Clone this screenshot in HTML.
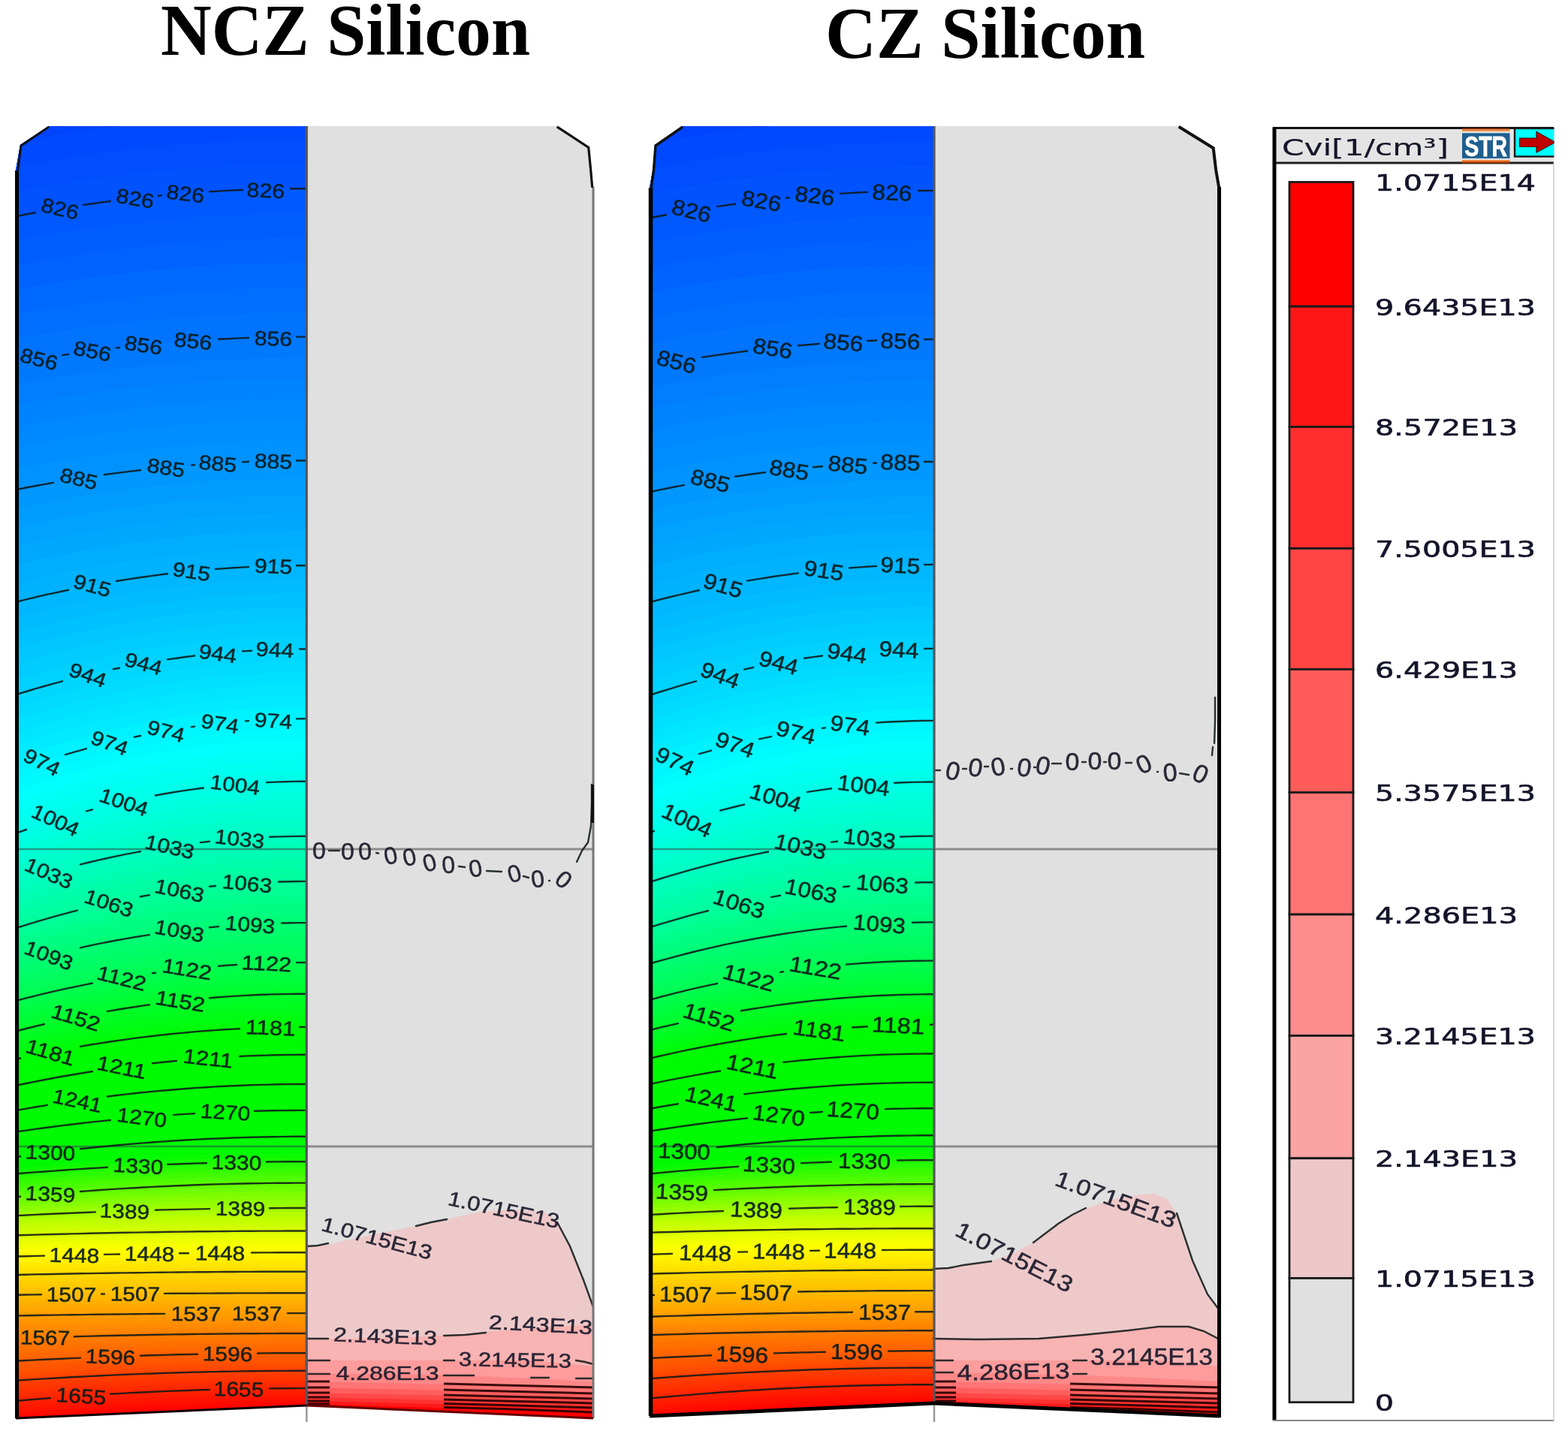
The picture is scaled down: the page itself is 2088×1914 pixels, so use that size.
<!DOCTYPE html>
<html><head><meta charset="utf-8"><title>NCZ Silicon / CZ Silicon</title>
<style>
html,body{margin:0;padding:0;background:#fff;}
body{width:2088px;height:1914px;overflow:hidden;}
svg{display:block;}
.cl{font-family:"Liberation Sans",sans-serif;fill:#0a1a1a;fill-opacity:0.92;text-anchor:middle;stroke:#0a1a1a;stroke-width:0.6px;stroke-opacity:0.8;}
.cr .cl{fill:#1a1a2a;stroke:#1a1a2a;}
.ttl{font-family:"Liberation Serif",serif;font-weight:bold;font-size:98px;fill:#000;}
.lg{font-family:"DejaVu Sans","Liberation Sans",sans-serif;font-size:30px;fill:#14142a;stroke:#14142a;stroke-width:0.6px;}
</style></head><body>
<svg width="2088" height="1914" viewBox="0 0 2088 1914">
<rect width="2088" height="1914" fill="#fff"/>
<text class="ttl" x="214" y="73" textLength="492" lengthAdjust="spacingAndGlyphs">NCZ Silicon</text>
<text class="ttl" x="1099" y="76.5" textLength="426" lengthAdjust="spacingAndGlyphs">CZ Silicon</text>
<clipPath id="clipL1"><path d="M21,1889.0 L21.0,227.0 L27.0,193.0 L65.0,168.0 L408.3,168.0 L408.3,1872.0 Z"/></clipPath>
<g clip-path="url(#clipL1)">
<rect x="19" y="166.0" width="391.3" height="1727.0" fill="#0037ff"/>
<polygon points="21,91.1 45,86.6 69,82.5 94,78.6 118,75.0 142,71.6 166,68.6 190,65.9 215,63.4 239,61.3 263,59.4 287,57.8 311,56.5 336,55.5 360,54.8 384,54.3 408,54.2 410.3,1899.0 19,1899.0" fill="#0039ff"/>
<polygon points="21,123.9 45,119.5 69,115.3 94,111.4 118,107.8 142,104.5 166,101.4 190,98.7 215,96.3 239,94.1 263,92.2 287,90.6 311,89.3 336,88.3 360,87.6 384,87.2 408,87.0 410.3,1899.0 19,1899.0" fill="#003eff"/>
<polygon points="21,156.8 45,152.3 69,148.1 94,144.2 118,140.6 142,137.3 166,134.3 190,131.5 215,129.1 239,126.9 263,125.1 287,123.5 311,122.2 336,121.2 360,120.4 384,120.0 408,119.9 410.3,1899.0 19,1899.0" fill="#0044ff"/>
<polygon points="21,189.6 45,185.1 69,181.0 94,177.1 118,173.5 142,170.1 166,167.1 190,164.4 215,161.9 239,159.8 263,157.9 287,156.3 311,155.0 336,154.0 360,153.3 384,152.8 408,152.7 410.3,1899.0 19,1899.0" fill="#0049ff"/>
<polygon points="21,222.4 45,218.0 69,213.8 94,209.9 118,206.3 142,203.0 166,199.9 190,197.2 215,194.8 239,192.6 263,190.7 287,189.1 311,187.8 336,186.8 360,186.1 384,185.7 408,185.5 410.3,1899.0 19,1899.0" fill="#004eff"/>
<polygon points="21,255.3 45,250.8 69,246.6 94,242.7 118,239.1 142,235.8 166,232.8 190,230.0 215,227.6 239,225.4 263,223.6 287,222.0 311,220.7 336,219.7 360,218.9 384,218.5 408,218.4 410.3,1899.0 19,1899.0" fill="#0053ff"/>
<polygon points="21,288.1 45,283.6 69,279.5 94,275.6 118,272.0 142,268.6 166,265.6 190,262.9 215,260.4 239,258.3 263,256.4 287,254.8 311,253.5 336,252.5 360,251.8 384,251.3 408,251.2 410.3,1899.0 19,1899.0" fill="#0059ff"/>
<polygon points="21,320.6 45,316.2 69,312.1 94,308.2 118,304.6 142,301.4 166,298.4 190,295.7 215,293.2 239,291.1 263,289.2 287,287.7 311,286.4 336,285.4 360,284.7 384,284.2 408,284.1 410.3,1899.0 19,1899.0" fill="#005eff"/>
<polygon points="21,353.2 45,348.8 69,344.7 94,340.9 118,337.3 142,334.1 166,331.1 190,328.4 215,326.0 239,323.9 263,322.1 287,320.5 311,319.3 336,318.3 360,317.6 384,317.1 408,317.0 410.3,1899.0 19,1899.0" fill="#0063ff"/>
<polygon points="21,385.7 45,381.4 69,377.3 94,373.5 118,370.0 142,366.8 166,363.9 190,361.2 215,358.9 239,356.8 263,354.9 287,353.4 311,352.1 336,351.2 360,350.5 384,350.0 408,349.9 410.3,1899.0 19,1899.0" fill="#0069ff"/>
<polygon points="21,418.2 45,413.9 69,409.9 94,406.2 118,402.7 142,399.5 166,396.6 190,394.0 215,391.7 239,389.6 263,387.8 287,386.3 311,385.0 336,384.0 360,383.4 384,382.9 408,382.8 410.3,1899.0 19,1899.0" fill="#006eff"/>
<polygon points="21,450.8 45,446.5 69,442.5 94,438.8 118,435.4 142,432.3 166,429.4 190,426.8 215,424.5 239,422.4 263,420.6 287,419.1 311,417.9 336,416.9 360,416.2 384,415.8 408,415.7 410.3,1899.0 19,1899.0" fill="#0073ff"/>
<polygon points="21,483.3 45,479.1 69,475.2 94,471.5 118,468.1 142,465.0 166,462.2 190,459.6 215,457.3 239,455.2 263,453.5 287,452.0 311,450.8 336,449.8 360,449.1 384,448.7 408,448.6 410.3,1899.0 19,1899.0" fill="#0079ff"/>
<polygon points="21,511.5 45,507.2 69,503.2 94,499.4 118,496.0 142,492.8 166,489.9 190,487.3 215,484.9 239,482.9 263,481.1 287,479.5 311,478.3 336,477.3 360,476.6 384,476.2 408,476.1 410.3,1899.0 19,1899.0" fill="#007eff"/>
<polygon points="21,539.6 45,535.3 69,531.2 94,527.4 118,523.9 142,520.6 166,517.7 190,515.0 215,512.6 239,510.5 263,508.6 287,507.1 311,505.8 336,504.8 360,504.1 384,503.7 408,503.6 410.3,1899.0 19,1899.0" fill="#0083ff"/>
<polygon points="21,567.8 45,563.3 69,559.2 94,555.3 118,551.7 142,548.4 166,545.4 190,542.7 215,540.2 239,538.1 263,536.2 287,534.6 311,533.3 336,532.3 360,531.6 384,531.2 408,531.0 410.3,1899.0 19,1899.0" fill="#0088ff"/>
<polygon points="21,596.0 45,591.4 69,587.2 94,583.2 118,579.6 142,576.2 166,573.2 190,570.4 215,567.9 239,565.7 263,563.8 287,562.2 311,560.9 336,559.8 360,559.1 384,558.7 408,558.5 410.3,1899.0 19,1899.0" fill="#008dff"/>
<polygon points="21,624.1 45,619.5 69,615.2 94,611.2 118,607.5 142,604.0 166,600.9 190,598.1 215,595.5 239,593.3 263,591.4 287,589.7 311,588.4 336,587.4 360,586.6 384,586.2 408,586.0 410.3,1899.0 19,1899.0" fill="#0092ff"/>
<polygon points="21,652.3 45,647.6 69,643.2 94,639.1 118,635.3 142,631.8 166,628.7 190,625.8 215,623.2 239,620.9 263,619.0 287,617.3 311,615.9 336,614.9 360,614.1 384,613.7 408,613.5 410.3,1899.0 19,1899.0" fill="#0097ff"/>
<polygon points="21,677.2 45,672.3 69,667.7 94,663.5 118,659.5 142,655.9 166,652.6 190,649.6 215,646.9 239,644.5 263,642.5 287,640.7 311,639.3 336,638.2 360,637.4 384,636.9 408,636.8 410.3,1899.0 19,1899.0" fill="#009dff"/>
<polygon points="21,702.1 45,697.0 69,692.3 94,687.8 118,683.7 142,679.9 166,676.5 190,673.4 215,670.6 239,668.1 263,666.0 287,664.2 311,662.7 336,661.5 360,660.7 384,660.2 408,660.1 410.3,1899.0 19,1899.0" fill="#00a2ff"/>
<polygon points="21,727.0 45,721.8 69,716.8 94,712.2 118,707.9 142,704.0 166,700.4 190,697.2 215,694.3 239,691.7 263,689.5 287,687.6 311,686.1 336,684.9 360,684.0 384,683.5 408,683.4 410.3,1899.0 19,1899.0" fill="#00a7ff"/>
<polygon points="21,752.0 45,746.5 69,741.3 94,736.6 118,732.1 142,728.1 166,724.3 190,721.0 215,718.0 239,715.3 263,713.0 287,711.1 311,709.5 336,708.2 360,707.3 384,706.8 408,706.6 410.3,1899.0 19,1899.0" fill="#00adff"/>
<polygon points="21,776.9 45,771.2 69,765.9 94,760.9 118,756.3 142,752.1 166,748.3 190,744.8 215,741.7 239,738.9 263,736.5 287,734.5 311,732.9 336,731.6 360,730.7 384,730.1 408,729.9 410.3,1899.0 19,1899.0" fill="#00b2ff"/>
<polygon points="21,801.8 45,795.9 69,790.4 94,785.3 118,780.5 142,776.2 166,772.2 190,768.6 215,765.4 239,762.5 263,760.0 287,757.9 311,756.2 336,754.9 360,754.0 384,753.4 408,753.2 410.3,1899.0 19,1899.0" fill="#00b7ff"/>
<polygon points="21,822.4 45,816.3 69,810.5 94,805.2 118,800.2 142,795.7 166,791.5 190,787.8 215,784.4 239,781.4 263,778.9 287,776.7 311,774.9 336,773.5 360,772.5 384,771.9 408,771.8 410.3,1899.0 19,1899.0" fill="#00bcff"/>
<polygon points="21,843.0 45,836.6 69,830.6 94,825.1 118,819.9 142,815.2 166,810.9 190,807.0 215,803.5 239,800.4 263,797.7 287,795.4 311,793.6 336,792.2 360,791.1 384,790.5 408,790.3 410.3,1899.0 19,1899.0" fill="#00c1ff"/>
<polygon points="21,863.5 45,856.9 69,850.7 94,845.0 118,839.6 142,834.7 166,830.2 190,826.2 215,822.5 239,819.3 263,816.5 287,814.2 311,812.3 336,810.8 360,809.7 384,809.1 408,808.9 410.3,1899.0 19,1899.0" fill="#00c7ff"/>
<polygon points="21,884.1 45,877.3 69,870.8 94,864.9 118,859.3 142,854.2 166,849.6 190,845.4 215,841.6 239,838.3 263,835.4 287,832.9 311,830.9 336,829.4 360,828.3 384,827.6 408,827.4 410.3,1899.0 19,1899.0" fill="#00ccff"/>
<polygon points="21,904.7 45,897.6 69,890.9 94,884.7 118,879.0 142,873.7 166,868.9 190,864.5 215,860.6 239,857.2 263,854.2 287,851.7 311,849.6 336,848.0 360,846.9 384,846.2 408,846.0 410.3,1899.0 19,1899.0" fill="#00d1ff"/>
<polygon points="21,925.3 45,917.9 69,911.0 94,904.6 118,898.7 142,893.2 166,888.2 190,883.7 215,879.7 239,876.1 263,873.0 287,870.4 311,868.3 336,866.6 360,865.5 384,864.7 408,864.5 410.3,1899.0 19,1899.0" fill="#00d6ff"/>
<polygon points="21,942.2 45,934.7 69,927.6 94,921.1 118,915.0 142,909.4 166,904.3 190,899.7 215,895.5 239,891.9 263,888.7 287,886.0 311,883.9 336,882.2 360,880.9 384,880.2 408,880.0 410.3,1899.0 19,1899.0" fill="#00dbff"/>
<polygon points="21,959.1 45,951.4 69,944.2 94,937.5 118,931.3 142,925.5 166,920.3 190,915.6 215,911.4 239,907.6 263,904.4 287,901.7 311,899.4 336,897.7 360,896.4 384,895.7 408,895.4 410.3,1899.0 19,1899.0" fill="#00e1ff"/>
<polygon points="21,976.0 45,968.2 69,960.8 94,953.9 118,947.5 142,941.7 166,936.3 190,931.5 215,927.2 239,923.4 263,920.1 287,917.3 311,915.0 336,913.2 360,911.9 384,911.2 408,910.9 410.3,1899.0 19,1899.0" fill="#00e6ff"/>
<polygon points="21,993.0 45,984.9 69,977.4 94,970.3 118,963.8 142,957.8 166,952.4 190,947.4 215,943.0 239,939.1 263,935.7 287,932.9 311,930.5 336,928.7 360,927.4 384,926.6 408,926.4 410.3,1899.0 19,1899.0" fill="#00ebff"/>
<polygon points="21,1009.9 45,1001.6 69,993.9 94,986.8 118,980.1 142,974.0 166,968.4 190,963.4 215,958.8 239,954.9 263,951.4 287,948.5 311,946.1 336,944.2 360,942.9 384,942.1 408,941.8 410.3,1899.0 19,1899.0" fill="#00f1ff"/>
<polygon points="21,1026.8 45,1018.4 69,1010.5 94,1003.2 118,996.4 142,990.1 166,984.4 190,979.3 215,974.7 239,970.6 263,967.1 287,964.1 311,961.6 336,959.7 360,958.4 384,957.6 408,957.3 410.3,1899.0 19,1899.0" fill="#00f6ff"/>
<polygon points="21,1040.7 45,1032.2 69,1024.4 94,1017.1 118,1010.3 142,1004.0 166,998.3 190,993.2 215,988.6 239,984.5 263,981.0 287,978.0 311,975.6 336,973.7 360,972.3 384,971.5 408,971.2 410.3,1899.0 19,1899.0" fill="#00fbff"/>
<polygon points="21,1054.5 45,1046.1 69,1038.2 94,1030.9 118,1024.2 142,1017.9 166,1012.2 190,1007.1 215,1002.5 239,998.4 263,994.9 287,991.9 311,989.5 336,987.6 360,986.2 384,985.4 408,985.1 410.3,1899.0 19,1899.0" fill="#00fffd"/>
<polygon points="21,1068.3 45,1060.0 69,1052.1 94,1044.8 118,1038.0 142,1031.8 166,1026.1 190,1021.0 215,1016.4 239,1012.3 263,1008.8 287,1005.8 311,1003.4 336,1001.5 360,1000.1 384,999.3 408,999.0 410.3,1899.0 19,1899.0" fill="#00fff7"/>
<polygon points="21,1082.2 45,1073.8 69,1066.0 94,1058.7 118,1051.9 142,1045.7 166,1040.0 190,1034.9 215,1030.3 239,1026.2 263,1022.7 287,1019.7 311,1017.3 336,1015.4 360,1014.0 384,1013.2 408,1013.0 410.3,1899.0 19,1899.0" fill="#00fff0"/>
<polygon points="21,1096.1 45,1087.7 69,1079.8 94,1072.5 118,1065.8 142,1059.6 166,1053.9 190,1048.8 215,1044.2 239,1040.1 263,1036.6 287,1033.6 311,1031.2 336,1029.3 360,1028.0 384,1027.2 408,1026.9 410.3,1899.0 19,1899.0" fill="#00ffea"/>
<polygon points="21,1109.9 45,1101.5 69,1093.7 94,1086.4 118,1079.7 142,1073.5 166,1067.8 190,1062.7 215,1058.1 239,1054.0 263,1050.5 287,1047.5 311,1045.1 336,1043.2 360,1041.9 384,1041.1 408,1040.8 410.3,1899.0 19,1899.0" fill="#00ffe4"/>
<polygon points="21,1120.9 45,1112.7 69,1105.0 94,1097.8 118,1091.2 142,1085.1 166,1079.5 190,1074.5 215,1070.0 239,1066.0 263,1062.5 287,1059.6 311,1057.2 336,1055.4 360,1054.0 384,1053.2 408,1053.0 410.3,1899.0 19,1899.0" fill="#00ffde"/>
<polygon points="21,1131.9 45,1123.8 69,1116.3 94,1109.2 118,1102.7 142,1096.7 166,1091.2 190,1086.3 215,1081.8 239,1077.9 263,1074.5 287,1071.7 311,1069.3 336,1067.5 360,1066.2 384,1065.4 408,1065.1 410.3,1899.0 19,1899.0" fill="#00ffd7"/>
<polygon points="21,1143.0 45,1135.0 69,1127.6 94,1120.6 118,1114.2 142,1108.3 166,1102.9 190,1098.1 215,1093.7 239,1089.9 263,1086.5 287,1083.7 311,1081.4 336,1079.6 360,1078.3 384,1077.6 408,1077.3 410.3,1899.0 19,1899.0" fill="#00fed1"/>
<polygon points="21,1154.0 45,1146.2 69,1138.8 94,1132.0 118,1125.7 142,1120.0 166,1114.7 190,1109.9 215,1105.6 239,1101.8 263,1098.5 287,1095.8 311,1093.5 336,1091.7 360,1090.5 384,1089.7 408,1089.5 410.3,1899.0 19,1899.0" fill="#00fecb"/>
<polygon points="21,1165.0 45,1157.3 69,1150.1 94,1143.5 118,1137.3 142,1131.6 166,1126.4 190,1121.7 215,1117.5 239,1113.8 263,1110.5 287,1107.8 311,1105.6 336,1103.9 360,1102.6 384,1101.9 408,1101.6 410.3,1899.0 19,1899.0" fill="#00fec5"/>
<polygon points="21,1176.0 45,1168.5 69,1161.4 94,1154.9 118,1148.8 142,1143.2 166,1138.1 190,1133.5 215,1129.3 239,1125.7 263,1122.5 287,1119.9 311,1117.7 336,1116.0 360,1114.8 384,1114.0 408,1113.8 410.3,1899.0 19,1899.0" fill="#00febf"/>
<polygon points="21,1186.0 45,1178.5 69,1171.5 94,1164.9 118,1158.8 142,1153.2 166,1148.1 190,1143.5 215,1139.4 239,1135.7 263,1132.6 287,1129.9 311,1127.7 336,1126.0 360,1124.8 384,1124.1 408,1123.8 410.3,1899.0 19,1899.0" fill="#00feb8"/>
<polygon points="21,1196.1 45,1188.5 69,1181.5 94,1174.9 118,1168.8 142,1163.2 166,1158.1 190,1153.5 215,1149.4 239,1145.7 263,1142.6 287,1139.9 311,1137.7 336,1136.0 360,1134.8 384,1134.1 408,1133.8 410.3,1899.0 19,1899.0" fill="#00feb2"/>
<polygon points="21,1206.1 45,1198.6 69,1191.5 94,1184.9 118,1178.9 142,1173.3 166,1168.2 190,1163.5 215,1159.4 239,1155.8 263,1152.6 287,1149.9 311,1147.7 336,1146.0 360,1144.8 384,1144.1 408,1143.8 410.3,1899.0 19,1899.0" fill="#00feab"/>
<polygon points="21,1216.1 45,1208.6 69,1201.5 94,1195.0 118,1188.9 142,1183.3 166,1178.2 190,1173.6 215,1169.4 239,1165.8 263,1162.6 287,1159.9 311,1157.8 336,1156.1 360,1154.8 384,1154.1 408,1153.9 410.3,1899.0 19,1899.0" fill="#00fea5"/>
<polygon points="21,1226.2 45,1218.6 69,1211.6 94,1205.0 118,1198.9 142,1193.3 166,1188.2 190,1183.6 215,1179.5 239,1175.8 263,1172.6 287,1170.0 311,1167.8 336,1166.1 360,1164.9 384,1164.1 408,1163.9 410.3,1899.0 19,1899.0" fill="#00fe9f"/>
<polygon points="21,1236.2 45,1228.7 69,1221.6 94,1215.0 118,1208.9 142,1203.3 166,1198.2 190,1193.6 215,1189.5 239,1185.8 263,1182.7 287,1180.0 311,1177.8 336,1176.1 360,1174.9 384,1174.1 408,1173.9 410.3,1899.0 19,1899.0" fill="#00fe98"/>
<polygon points="21,1244.2 45,1236.8 69,1229.8 94,1223.4 118,1217.4 142,1212.0 166,1206.9 190,1202.4 215,1198.4 239,1194.8 263,1191.7 287,1189.1 311,1186.9 336,1185.2 360,1184.1 384,1183.3 408,1183.1 410.3,1899.0 19,1899.0" fill="#00fe92"/>
<polygon points="21,1252.1 45,1244.9 69,1238.1 94,1231.8 118,1225.9 142,1220.6 166,1215.7 190,1211.2 215,1207.2 239,1203.7 263,1200.7 287,1198.1 311,1196.0 336,1194.4 360,1193.2 384,1192.5 408,1192.3 410.3,1899.0 19,1899.0" fill="#00fe8c"/>
<polygon points="21,1260.1 45,1253.0 69,1246.3 94,1240.2 118,1234.4 142,1229.2 166,1224.4 190,1220.0 215,1216.1 239,1212.7 263,1209.7 287,1207.2 311,1205.2 336,1203.6 360,1202.4 384,1201.7 408,1201.5 410.3,1899.0 19,1899.0" fill="#00fe85"/>
<polygon points="21,1268.0 45,1261.1 69,1254.6 94,1248.5 118,1242.9 142,1237.8 166,1233.1 190,1228.8 215,1225.0 239,1221.7 263,1218.8 287,1216.3 311,1214.3 336,1212.7 360,1211.6 384,1210.9 408,1210.7 410.3,1899.0 19,1899.0" fill="#00fd7f"/>
<polygon points="21,1276.0 45,1269.2 69,1262.8 94,1256.9 118,1251.4 142,1246.4 166,1241.8 190,1237.6 215,1233.9 239,1230.6 263,1227.8 287,1225.4 311,1223.4 336,1221.9 360,1220.8 384,1220.1 408,1219.9 410.3,1899.0 19,1899.0" fill="#00fd78"/>
<polygon points="21,1283.9 45,1277.3 69,1271.1 94,1265.3 118,1259.9 142,1255.0 166,1250.5 190,1246.4 215,1242.8 239,1239.6 263,1236.8 287,1234.5 311,1232.5 336,1231.0 360,1230.0 384,1229.3 408,1229.1 410.3,1899.0 19,1899.0" fill="#00fd72"/>
<polygon points="21,1292.1 45,1285.5 69,1279.4 94,1273.7 118,1268.4 142,1263.5 166,1259.1 190,1255.1 215,1251.5 239,1248.3 263,1245.5 287,1243.2 311,1241.3 336,1239.8 360,1238.8 384,1238.1 408,1237.9 410.3,1899.0 19,1899.0" fill="#00fd6c"/>
<polygon points="21,1300.2 45,1293.8 69,1287.7 94,1282.1 118,1276.8 142,1272.0 166,1267.6 190,1263.7 215,1260.1 239,1257.0 263,1254.3 287,1252.0 311,1250.1 336,1248.6 360,1247.6 384,1246.9 408,1246.7 410.3,1899.0 19,1899.0" fill="#00fd66"/>
<polygon points="21,1308.4 45,1302.0 69,1296.0 94,1290.4 118,1285.3 142,1280.5 166,1276.2 190,1272.3 215,1268.8 239,1265.7 263,1263.0 287,1260.7 311,1258.9 336,1257.4 360,1256.4 384,1255.8 408,1255.5 410.3,1899.0 19,1899.0" fill="#00fd60"/>
<polygon points="21,1316.6 45,1310.2 69,1304.3 94,1298.8 118,1293.7 142,1289.0 166,1284.8 190,1280.9 215,1277.4 239,1274.4 263,1271.7 287,1269.5 311,1267.6 336,1266.2 360,1265.2 384,1264.6 408,1264.4 410.3,1899.0 19,1899.0" fill="#00fd5a"/>
<polygon points="21,1324.7 45,1318.5 69,1312.7 94,1307.2 118,1302.2 142,1297.5 166,1293.3 190,1289.5 215,1286.1 239,1283.1 263,1280.4 287,1278.2 311,1276.4 336,1275.0 360,1274.0 384,1273.4 408,1273.2 410.3,1899.0 19,1899.0" fill="#00fd53"/>
<polygon points="21,1332.9 45,1326.7 69,1321.0 94,1315.6 118,1310.6 142,1306.1 166,1301.9 190,1298.1 215,1294.7 239,1291.7 263,1289.2 287,1287.0 311,1285.2 336,1283.8 360,1282.8 384,1282.2 408,1282.0 410.3,1899.0 19,1899.0" fill="#00fd4d"/>
<polygon points="21,1339.7 45,1333.5 69,1327.8 94,1322.4 118,1317.5 142,1312.9 166,1308.8 190,1305.0 215,1301.6 239,1298.7 263,1296.1 287,1293.9 311,1292.1 336,1290.7 360,1289.7 384,1289.1 408,1289.0 410.3,1899.0 19,1899.0" fill="#00fd47"/>
<polygon points="21,1346.4 45,1340.3 69,1334.6 94,1329.3 118,1324.3 142,1319.8 166,1315.6 190,1311.9 215,1308.5 239,1305.6 263,1303.0 287,1300.8 311,1299.1 336,1297.7 360,1296.7 384,1296.1 408,1295.9 410.3,1899.0 19,1899.0" fill="#00fd40"/>
<polygon points="21,1353.2 45,1347.1 69,1341.4 94,1336.1 118,1331.2 142,1326.6 166,1322.5 190,1318.8 215,1315.4 239,1312.5 263,1309.9 287,1307.8 311,1306.0 336,1304.6 360,1303.6 384,1303.0 408,1302.8 410.3,1899.0 19,1899.0" fill="#00fd3a"/>
<polygon points="21,1360.0 45,1353.9 69,1348.2 94,1342.9 118,1338.0 142,1333.5 166,1329.4 190,1325.7 215,1322.3 239,1319.4 263,1316.9 287,1314.7 311,1312.9 336,1311.6 360,1310.6 384,1310.0 408,1309.8 410.3,1899.0 19,1899.0" fill="#00fd34"/>
<polygon points="21,1366.7 45,1360.7 69,1355.0 94,1349.7 118,1344.9 142,1340.4 166,1336.3 190,1332.6 215,1329.2 239,1326.3 263,1323.8 287,1321.6 311,1319.9 336,1318.5 360,1317.5 384,1316.9 408,1316.8 410.3,1899.0 19,1899.0" fill="#00fd2d"/>
<polygon points="21,1373.5 45,1367.5 69,1361.8 94,1356.6 118,1351.7 142,1347.2 166,1343.2 190,1339.5 215,1336.2 239,1333.2 263,1330.7 287,1328.6 311,1326.8 336,1325.5 360,1324.5 384,1323.9 408,1323.7 410.3,1899.0 19,1899.0" fill="#00fc27"/>
<polygon points="21,1379.7 45,1373.8 69,1368.3 94,1363.2 118,1358.4 142,1354.1 166,1350.1 190,1346.5 215,1343.2 239,1340.4 263,1337.9 287,1335.8 311,1334.1 336,1332.8 360,1331.8 384,1331.3 408,1331.1 410.3,1899.0 19,1899.0" fill="#00fc21"/>
<polygon points="21,1385.9 45,1380.2 69,1374.8 94,1369.8 118,1365.2 142,1360.9 166,1357.0 190,1353.5 215,1350.3 239,1347.5 263,1345.1 287,1343.1 311,1341.4 336,1340.1 360,1339.2 384,1338.6 408,1338.4 410.3,1899.0 19,1899.0" fill="#00fc1b"/>
<polygon points="21,1392.2 45,1386.5 69,1381.3 94,1376.4 118,1371.9 142,1367.7 166,1363.9 190,1360.5 215,1357.4 239,1354.7 263,1352.3 287,1350.3 311,1348.7 336,1347.4 360,1346.5 384,1346.0 408,1345.8 410.3,1899.0 19,1899.0" fill="#00fc15"/>
<polygon points="21,1398.4 45,1392.9 69,1387.8 94,1383.0 118,1378.6 142,1374.5 166,1370.8 190,1367.5 215,1364.5 239,1361.8 263,1359.5 287,1357.6 311,1356.0 336,1354.8 360,1353.9 384,1353.3 408,1353.2 410.3,1899.0 19,1899.0" fill="#00fc0e"/>
<polygon points="21,1404.6 45,1399.2 69,1394.3 94,1389.6 118,1385.3 142,1381.4 166,1377.7 190,1374.5 215,1371.5 239,1369.0 263,1366.7 287,1364.8 311,1363.3 336,1362.1 360,1361.2 384,1360.7 408,1360.5 410.3,1899.0 19,1899.0" fill="#00fc08"/>
<polygon points="21,1410.8 45,1405.6 69,1400.7 94,1396.2 118,1392.0 142,1388.2 166,1384.7 190,1381.5 215,1378.6 239,1376.1 263,1373.9 287,1372.1 311,1370.6 336,1369.4 360,1368.6 384,1368.1 408,1367.9 410.3,1899.0 19,1899.0" fill="#00fc02"/>
<polygon points="21,1416.7 45,1411.5 69,1406.7 94,1402.2 118,1398.0 142,1394.2 166,1390.7 190,1387.5 215,1384.7 239,1382.2 263,1380.0 287,1378.2 311,1376.7 336,1375.5 360,1374.7 384,1374.2 408,1374.1 410.3,1899.0 19,1899.0" fill="#00fc00"/>
<polygon points="21,1422.5 45,1417.4 69,1412.6 94,1408.1 118,1404.0 142,1400.2 166,1396.7 190,1393.6 215,1390.8 239,1388.3 263,1386.1 287,1384.3 311,1382.8 336,1381.7 360,1380.9 384,1380.4 408,1380.2 410.3,1899.0 19,1899.0" fill="#00fc00"/>
<polygon points="21,1428.3 45,1423.3 69,1418.5 94,1414.1 118,1410.0 142,1406.2 166,1402.8 190,1399.6 215,1396.8 239,1394.4 263,1392.3 287,1390.5 311,1389.0 336,1387.8 360,1387.0 384,1386.5 408,1386.3 410.3,1899.0 19,1899.0" fill="#00fc00"/>
<polygon points="21,1434.2 45,1429.2 69,1424.4 94,1420.0 118,1416.0 142,1412.2 166,1408.8 190,1405.7 215,1402.9 239,1400.5 263,1398.4 287,1396.6 311,1395.1 336,1394.0 360,1393.2 384,1392.7 408,1392.5 410.3,1899.0 19,1899.0" fill="#00fc00"/>
<polygon points="21,1440.1 45,1435.0 69,1430.3 94,1426.0 118,1421.9 142,1418.2 166,1414.8 190,1411.7 215,1409.0 239,1406.6 263,1404.5 287,1402.7 311,1401.2 336,1400.1 360,1399.3 384,1398.8 408,1398.7 410.3,1899.0 19,1899.0" fill="#00fc00"/>
<polygon points="21,1445.9 45,1440.9 69,1436.3 94,1431.9 118,1427.9 142,1424.2 166,1420.9 190,1417.8 215,1415.1 239,1412.7 263,1410.6 287,1408.8 311,1407.4 336,1406.2 360,1405.4 384,1405.0 408,1404.8 410.3,1899.0 19,1899.0" fill="#00fc00"/>
<polygon points="21,1451.4 45,1446.6 69,1442.0 94,1437.8 118,1433.9 142,1430.3 166,1427.0 190,1424.0 215,1421.4 239,1419.0 263,1417.0 287,1415.2 311,1413.8 336,1412.7 360,1412.0 384,1411.5 408,1411.3 410.3,1899.0 19,1899.0" fill="#00fb00"/>
<polygon points="21,1457.0 45,1452.2 69,1447.8 94,1443.7 118,1439.9 142,1436.3 166,1433.1 190,1430.2 215,1427.6 239,1425.4 263,1423.4 287,1421.7 311,1420.3 336,1419.2 360,1418.5 384,1418.0 408,1417.9 410.3,1899.0 19,1899.0" fill="#00fb00"/>
<polygon points="21,1462.5 45,1457.9 69,1453.6 94,1449.6 118,1445.8 142,1442.4 166,1439.3 190,1436.5 215,1433.9 239,1431.7 263,1429.8 287,1428.1 311,1426.8 336,1425.7 360,1425.0 384,1424.5 408,1424.4 410.3,1899.0 19,1899.0" fill="#00fb00"/>
<polygon points="21,1468.0 45,1463.5 69,1459.3 94,1455.4 118,1451.8 142,1448.5 166,1445.4 190,1442.7 215,1440.2 239,1438.0 263,1436.2 287,1434.6 311,1433.3 336,1432.2 360,1431.5 384,1431.1 408,1430.9 410.3,1899.0 19,1899.0" fill="#00fb00"/>
<polygon points="21,1473.6 45,1469.2 69,1465.1 94,1461.3 118,1457.8 142,1454.5 166,1451.6 190,1448.9 215,1446.5 239,1444.4 263,1442.5 287,1441.0 311,1439.7 336,1438.7 360,1438.0 384,1437.6 408,1437.5 410.3,1899.0 19,1899.0" fill="#00fb00"/>
<polygon points="21,1479.1 45,1474.8 69,1470.9 94,1467.2 118,1463.7 142,1460.6 166,1457.7 190,1455.1 215,1452.8 239,1450.7 263,1448.9 287,1447.4 311,1446.2 336,1445.2 360,1444.5 384,1444.1 408,1444.0 410.3,1899.0 19,1899.0" fill="#00fb00"/>
<polygon points="21,1483.8 45,1479.7 69,1475.9 94,1472.3 118,1469.0 142,1465.9 166,1463.1 190,1460.6 215,1458.3 239,1456.3 263,1454.6 287,1453.1 311,1451.9 336,1451.0 360,1450.3 384,1449.9 408,1449.8 410.3,1899.0 19,1899.0" fill="#00fb00"/>
<polygon points="21,1488.6 45,1484.6 69,1480.9 94,1477.4 118,1474.2 142,1471.2 166,1468.5 190,1466.1 215,1463.9 239,1461.9 263,1460.3 287,1458.9 311,1457.7 336,1456.8 360,1456.1 384,1455.8 408,1455.6 410.3,1899.0 19,1899.0" fill="#00fb00"/>
<polygon points="21,1493.3 45,1489.5 69,1485.9 94,1482.5 118,1479.4 142,1476.5 166,1473.9 190,1471.5 215,1469.4 239,1467.6 263,1465.9 287,1464.6 311,1463.4 336,1462.6 360,1461.9 384,1461.6 408,1461.5 410.3,1899.0 19,1899.0" fill="#00fb00"/>
<polygon points="21,1498.1 45,1494.4 69,1490.9 94,1487.6 118,1484.6 142,1481.8 166,1479.3 190,1477.0 215,1475.0 239,1473.2 263,1471.6 287,1470.3 311,1469.2 336,1468.4 360,1467.7 384,1467.4 408,1467.3 410.3,1899.0 19,1899.0" fill="#00fb00"/>
<polygon points="21,1502.8 45,1499.2 69,1495.9 94,1492.7 118,1489.8 142,1487.2 166,1484.7 190,1482.5 215,1480.5 239,1478.8 263,1477.3 287,1476.0 311,1474.9 336,1474.1 360,1473.5 384,1473.2 408,1473.1 410.3,1899.0 19,1899.0" fill="#00fb00"/>
<polygon points="21,1507.6 45,1504.1 69,1500.9 94,1497.8 118,1495.0 142,1492.5 166,1490.1 190,1488.0 215,1486.1 239,1484.4 263,1482.9 287,1481.7 311,1480.7 336,1479.9 360,1479.3 384,1479.0 408,1478.9 410.3,1899.0 19,1899.0" fill="#00fb00"/>
<polygon points="21,1513.2 45,1509.7 69,1506.5 94,1503.5 118,1500.7 142,1498.2 166,1495.8 190,1493.7 215,1491.8 239,1490.2 263,1488.7 287,1487.5 311,1486.5 336,1485.7 360,1485.2 384,1484.8 408,1484.7 410.3,1899.0 19,1899.0" fill="#00fb00"/>
<polygon points="21,1518.8 45,1515.3 69,1512.1 94,1509.2 118,1506.4 142,1503.9 166,1501.6 190,1499.5 215,1497.6 239,1495.9 263,1494.5 287,1493.3 311,1492.3 336,1491.5 360,1491.0 384,1490.6 408,1490.5 410.3,1899.0 19,1899.0" fill="#00fb00"/>
<polygon points="21,1524.3 45,1521.0 69,1517.8 94,1514.8 118,1512.1 142,1509.6 166,1507.3 190,1505.2 215,1503.3 239,1501.7 263,1500.3 287,1499.1 311,1498.1 336,1497.3 360,1496.8 384,1496.5 408,1496.3 410.3,1899.0 19,1899.0" fill="#00fa00"/>
<polygon points="21,1529.9 45,1526.6 69,1523.4 94,1520.5 118,1517.8 142,1515.3 166,1513.0 190,1511.0 215,1509.1 239,1507.5 263,1506.1 287,1504.9 311,1503.9 336,1503.1 360,1502.6 384,1502.3 408,1502.2 410.3,1899.0 19,1899.0" fill="#00fa00"/>
<polygon points="21,1535.5 45,1532.2 69,1529.1 94,1526.2 118,1523.5 142,1521.0 166,1518.7 190,1516.7 215,1514.9 239,1513.3 263,1511.9 287,1510.7 311,1509.7 336,1509.0 360,1508.4 384,1508.1 408,1508.0 410.3,1899.0 19,1899.0" fill="#00fa00"/>
<polygon points="21,1541.1 45,1537.8 69,1534.7 94,1531.8 118,1529.2 142,1526.7 166,1524.5 190,1522.4 215,1520.6 239,1519.0 263,1517.6 287,1516.5 311,1515.5 336,1514.8 360,1514.2 384,1513.9 408,1513.8 410.3,1899.0 19,1899.0" fill="#00fa00"/>
<polygon points="21,1544.8 45,1541.7 69,1538.9 94,1536.2 118,1533.7 142,1531.4 166,1529.3 190,1527.4 215,1525.7 239,1524.2 263,1522.9 287,1521.9 311,1521.0 336,1520.3 360,1519.8 384,1519.5 408,1519.4 410.3,1899.0 19,1899.0" fill="#00fa00"/>
<polygon points="21,1548.6 45,1545.7 69,1543.0 94,1540.5 118,1538.2 142,1536.1 166,1534.2 190,1532.4 215,1530.8 239,1529.5 263,1528.3 287,1527.2 311,1526.4 336,1525.8 360,1525.3 384,1525.0 408,1524.9 410.3,1899.0 19,1899.0" fill="#00fa00"/>
<polygon points="21,1552.3 45,1549.7 69,1547.2 94,1544.9 118,1542.8 142,1540.8 166,1539.0 190,1537.4 215,1536.0 239,1534.7 263,1533.6 287,1532.6 311,1531.9 336,1531.3 360,1530.8 384,1530.6 408,1530.5 410.3,1899.0 19,1899.0" fill="#00fa00"/>
<polygon points="21,1556.0 45,1553.6 69,1551.4 94,1549.2 118,1547.3 142,1545.5 166,1543.9 190,1542.4 215,1541.1 239,1539.9 263,1538.9 287,1538.0 311,1537.3 336,1536.8 360,1536.4 384,1536.1 408,1536.1 410.3,1899.0 19,1899.0" fill="#0afa00"/>
<polygon points="21,1559.8 45,1557.6 69,1555.5 94,1553.6 118,1551.8 142,1550.2 166,1548.7 190,1547.4 215,1546.2 239,1545.1 263,1544.2 287,1543.4 311,1542.8 336,1542.3 360,1541.9 384,1541.7 408,1541.6 410.3,1899.0 19,1899.0" fill="#16fa00"/>
<polygon points="21,1563.5 45,1561.5 69,1559.7 94,1558.0 118,1556.4 142,1554.9 166,1553.6 190,1552.4 215,1551.3 239,1550.3 263,1549.5 287,1548.8 311,1548.2 336,1547.8 360,1547.5 384,1547.3 408,1547.2 410.3,1899.0 19,1899.0" fill="#21fb00"/>
<polygon points="21,1568.7 45,1566.6 69,1564.7 94,1563.0 118,1561.3 142,1559.8 166,1558.5 190,1557.2 215,1556.1 239,1555.1 263,1554.3 287,1553.6 311,1553.0 336,1552.5 360,1552.2 384,1552.0 408,1551.9 410.3,1899.0 19,1899.0" fill="#2cfb00"/>
<polygon points="21,1573.8 45,1571.7 69,1569.8 94,1568.0 118,1566.3 142,1564.8 166,1563.4 190,1562.1 215,1561.0 239,1559.9 263,1559.1 287,1558.3 311,1557.7 336,1557.3 360,1556.9 384,1556.7 408,1556.7 410.3,1899.0 19,1899.0" fill="#37fb00"/>
<polygon points="21,1579.0 45,1576.8 69,1574.8 94,1573.0 118,1571.3 142,1569.7 166,1568.3 190,1567.0 215,1565.8 239,1564.8 263,1563.9 287,1563.1 311,1562.5 336,1562.0 360,1561.7 384,1561.5 408,1561.4 410.3,1899.0 19,1899.0" fill="#42fb00"/>
<polygon points="21,1584.1 45,1581.9 69,1579.9 94,1578.0 118,1576.2 142,1574.6 166,1573.2 190,1571.8 215,1570.6 239,1569.6 263,1568.7 287,1567.9 311,1567.3 336,1566.8 360,1566.4 384,1566.2 408,1566.1 410.3,1899.0 19,1899.0" fill="#4dfc00"/>
<polygon points="21,1589.2 45,1587.0 69,1584.9 94,1583.0 118,1581.2 142,1579.6 166,1578.0 190,1576.7 215,1575.5 239,1574.4 263,1573.5 287,1572.7 311,1572.0 336,1571.5 360,1571.2 384,1570.9 408,1570.9 410.3,1899.0 19,1899.0" fill="#58fc00"/>
<polygon points="21,1594.4 45,1592.1 69,1590.0 94,1588.0 118,1586.2 142,1584.5 166,1582.9 190,1581.5 215,1580.3 239,1579.2 263,1578.2 287,1577.4 311,1576.8 336,1576.3 360,1575.9 384,1575.7 408,1575.6 410.3,1899.0 19,1899.0" fill="#64fc00"/>
<polygon points="21,1598.5 45,1596.4 69,1594.5 94,1592.6 118,1590.9 142,1589.4 166,1588.0 190,1586.7 215,1585.5 239,1584.5 263,1583.6 287,1582.9 311,1582.3 336,1581.8 360,1581.4 384,1581.2 408,1581.2 410.3,1899.0 19,1899.0" fill="#6ffc00"/>
<polygon points="21,1602.7 45,1600.7 69,1598.9 94,1597.3 118,1595.7 142,1594.3 166,1593.0 190,1591.8 215,1590.7 239,1589.8 263,1589.0 287,1588.3 311,1587.7 336,1587.3 360,1587.0 384,1586.8 408,1586.7 410.3,1899.0 19,1899.0" fill="#7bfd00"/>
<polygon points="21,1606.8 45,1605.0 69,1603.4 94,1601.9 118,1600.5 142,1599.2 166,1598.0 190,1596.9 215,1595.9 239,1595.1 263,1594.3 287,1593.7 311,1593.2 336,1592.8 360,1592.5 384,1592.4 408,1592.3 410.3,1899.0 19,1899.0" fill="#86fd00"/>
<polygon points="21,1610.9 45,1609.4 69,1607.9 94,1606.5 118,1605.2 142,1604.0 166,1603.0 190,1602.0 215,1601.1 239,1600.4 263,1599.7 287,1599.1 311,1598.7 336,1598.3 360,1598.1 384,1597.9 408,1597.9 410.3,1899.0 19,1899.0" fill="#92fd00"/>
<polygon points="21,1615.1 45,1613.7 69,1612.3 94,1611.1 118,1610.0 142,1608.9 166,1608.0 190,1607.1 215,1606.3 239,1605.7 263,1605.1 287,1604.6 311,1604.2 336,1603.8 360,1603.6 384,1603.5 408,1603.4 410.3,1899.0 19,1899.0" fill="#9dfd00"/>
<polygon points="21,1619.2 45,1618.0 69,1616.8 94,1615.7 118,1614.7 142,1613.8 166,1613.0 190,1612.2 215,1611.5 239,1611.0 263,1610.4 287,1610.0 311,1609.6 336,1609.4 360,1609.2 384,1609.0 408,1609.0 410.3,1899.0 19,1899.0" fill="#a8fe00"/>
<polygon points="21,1623.6 45,1622.4 69,1621.3 94,1620.3 118,1619.4 142,1618.6 166,1617.8 190,1617.1 215,1616.5 239,1615.9 263,1615.4 287,1615.0 311,1614.7 336,1614.4 360,1614.2 384,1614.1 408,1614.1 410.3,1899.0 19,1899.0" fill="#b3fe00"/>
<polygon points="21,1627.9 45,1626.9 69,1625.9 94,1625.0 118,1624.1 142,1623.3 166,1622.6 190,1621.9 215,1621.4 239,1620.8 263,1620.4 287,1620.0 311,1619.7 336,1619.5 360,1619.3 384,1619.2 408,1619.2 410.3,1899.0 19,1899.0" fill="#befe00"/>
<polygon points="21,1632.3 45,1631.3 69,1630.4 94,1629.6 118,1628.8 142,1628.1 166,1627.4 190,1626.8 215,1626.3 239,1625.8 263,1625.4 287,1625.0 311,1624.8 336,1624.5 360,1624.4 384,1624.3 408,1624.2 410.3,1899.0 19,1899.0" fill="#c5fe00"/>
<polygon points="21,1636.7 45,1635.8 69,1634.9 94,1634.2 118,1633.5 142,1632.8 166,1632.2 190,1631.7 215,1631.2 239,1630.7 263,1630.4 287,1630.0 311,1629.8 336,1629.6 360,1629.4 384,1629.4 408,1629.3 410.3,1899.0 19,1899.0" fill="#cdfe00"/>
<polygon points="21,1641.0 45,1640.2 69,1639.5 94,1638.8 118,1638.1 142,1637.5 166,1637.0 190,1636.5 215,1636.1 239,1635.7 263,1635.3 287,1635.1 311,1634.8 336,1634.6 360,1634.5 384,1634.4 408,1634.4 410.3,1899.0 19,1899.0" fill="#d5fe00"/>
<polygon points="21,1645.4 45,1644.7 69,1644.0 94,1643.4 118,1642.8 142,1642.3 166,1641.8 190,1641.4 215,1641.0 239,1640.6 263,1640.3 287,1640.1 311,1639.9 336,1639.7 360,1639.6 384,1639.5 408,1639.5 410.3,1899.0 19,1899.0" fill="#ddfe00"/>
<polygon points="21,1650.1 45,1649.4 69,1648.7 94,1648.1 118,1647.6 142,1647.0 166,1646.6 190,1646.1 215,1645.8 239,1645.4 263,1645.1 287,1644.9 311,1644.7 336,1644.5 360,1644.4 384,1644.3 408,1644.3 410.3,1899.0 19,1899.0" fill="#e5ff00"/>
<polygon points="21,1654.8 45,1654.1 69,1653.5 94,1652.9 118,1652.3 142,1651.8 166,1651.3 190,1650.9 215,1650.5 239,1650.2 263,1649.9 287,1649.7 311,1649.5 336,1649.3 360,1649.2 384,1649.1 408,1649.1 410.3,1899.0 19,1899.0" fill="#edff00"/>
<polygon points="21,1659.5 45,1658.8 69,1658.2 94,1657.6 118,1657.0 142,1656.5 166,1656.1 190,1655.7 215,1655.3 239,1655.0 263,1654.7 287,1654.4 311,1654.2 336,1654.1 360,1654.0 384,1653.9 408,1653.9 410.3,1899.0 19,1899.0" fill="#f5ff00"/>
<polygon points="21,1664.2 45,1663.5 69,1662.9 94,1662.3 118,1661.8 142,1661.3 166,1660.8 190,1660.4 215,1660.1 239,1659.8 263,1659.5 287,1659.2 311,1659.0 336,1658.9 360,1658.8 384,1658.7 408,1658.7 410.3,1899.0 19,1899.0" fill="#fdff00"/>
<polygon points="21,1668.9 45,1668.2 69,1667.6 94,1667.1 118,1666.5 142,1666.1 166,1665.6 190,1665.2 215,1664.8 239,1664.5 263,1664.3 287,1664.0 311,1663.8 336,1663.7 360,1663.6 384,1663.5 408,1663.5 410.3,1899.0 19,1899.0" fill="#fffb00"/>
<polygon points="21,1673.6 45,1673.0 69,1672.4 94,1671.8 118,1671.3 142,1670.8 166,1670.4 190,1670.0 215,1669.6 239,1669.3 263,1669.0 287,1668.8 311,1668.6 336,1668.5 360,1668.4 384,1668.3 408,1668.3 410.3,1899.0 19,1899.0" fill="#fff600"/>
<polygon points="21,1677.7 45,1677.0 69,1676.5 94,1675.9 118,1675.4 142,1675.0 166,1674.5 190,1674.2 215,1673.8 239,1673.5 263,1673.3 287,1673.0 311,1672.9 336,1672.7 360,1672.6 384,1672.6 408,1672.5 410.3,1899.0 19,1899.0" fill="#fff100"/>
<polygon points="21,1681.7 45,1681.1 69,1680.6 94,1680.0 118,1679.6 142,1679.1 166,1678.7 190,1678.3 215,1678.0 239,1677.7 263,1677.5 287,1677.3 311,1677.1 336,1676.9 360,1676.8 384,1676.8 408,1676.8 410.3,1899.0 19,1899.0" fill="#ffec00"/>
<polygon points="21,1685.8 45,1685.2 69,1684.7 94,1684.2 118,1683.7 142,1683.3 166,1682.9 190,1682.5 215,1682.2 239,1681.9 263,1681.7 287,1681.5 311,1681.3 336,1681.2 360,1681.1 384,1681.0 408,1681.0 410.3,1899.0 19,1899.0" fill="#ffe700"/>
<polygon points="21,1689.9 45,1689.3 69,1688.8 94,1688.3 118,1687.8 142,1687.4 166,1687.0 190,1686.7 215,1686.4 239,1686.1 263,1685.9 287,1685.7 311,1685.5 336,1685.4 360,1685.3 384,1685.3 408,1685.2 410.3,1899.0 19,1899.0" fill="#ffe200"/>
<polygon points="21,1693.9 45,1693.4 69,1692.9 94,1692.4 118,1692.0 142,1691.6 166,1691.2 190,1690.9 215,1690.6 239,1690.3 263,1690.1 287,1689.9 311,1689.7 336,1689.6 360,1689.5 384,1689.5 408,1689.5 410.3,1899.0 19,1899.0" fill="#ffdd00"/>
<polygon points="21,1698.0 45,1697.5 69,1697.0 94,1696.5 118,1696.1 142,1695.7 166,1695.4 190,1695.1 215,1694.8 239,1694.5 263,1694.3 287,1694.1 311,1694.0 336,1693.9 360,1693.8 384,1693.7 408,1693.7 410.3,1899.0 19,1899.0" fill="#ffd700"/>
<polygon points="21,1702.5 45,1702.0 69,1701.5 94,1701.1 118,1700.7 142,1700.3 166,1700.0 190,1699.7 215,1699.5 239,1699.2 263,1699.0 287,1698.9 311,1698.7 336,1698.6 360,1698.5 384,1698.5 408,1698.5 410.3,1899.0 19,1899.0" fill="#ffd300"/>
<polygon points="21,1706.9 45,1706.5 69,1706.0 94,1705.7 118,1705.3 142,1705.0 166,1704.7 190,1704.4 215,1704.2 239,1703.9 263,1703.7 287,1703.6 311,1703.5 336,1703.4 360,1703.3 384,1703.2 408,1703.2 410.3,1899.0 19,1899.0" fill="#ffce00"/>
<polygon points="21,1711.3 45,1710.9 69,1710.6 94,1710.2 118,1709.9 142,1709.6 166,1709.3 190,1709.1 215,1708.8 239,1708.6 263,1708.5 287,1708.3 311,1708.2 336,1708.1 360,1708.1 384,1708.0 408,1708.0 410.3,1899.0 19,1899.0" fill="#ffc900"/>
<polygon points="21,1715.8 45,1715.4 69,1715.1 94,1714.8 118,1714.5 142,1714.2 166,1714.0 190,1713.7 215,1713.5 239,1713.3 263,1713.2 287,1713.1 311,1713.0 336,1712.9 360,1712.8 384,1712.8 408,1712.8 410.3,1899.0 19,1899.0" fill="#ffc400"/>
<polygon points="21,1720.2 45,1719.9 69,1719.6 94,1719.3 118,1719.1 142,1718.8 166,1718.6 190,1718.4 215,1718.2 239,1718.1 263,1717.9 287,1717.8 311,1717.7 336,1717.6 360,1717.6 384,1717.5 408,1717.5 410.3,1899.0 19,1899.0" fill="#ffbf00"/>
<polygon points="21,1724.7 45,1724.4 69,1724.1 94,1723.9 118,1723.7 142,1723.4 166,1723.2 190,1723.1 215,1722.9 239,1722.8 263,1722.6 287,1722.5 311,1722.5 336,1722.4 360,1722.3 384,1722.3 408,1722.3 410.3,1899.0 19,1899.0" fill="#ffba00"/>
<polygon points="21,1729.3 45,1729.0 69,1728.7 94,1728.5 118,1728.2 142,1728.0 166,1727.8 190,1727.6 215,1727.4 239,1727.3 263,1727.1 287,1727.0 311,1726.9 336,1726.9 360,1726.8 384,1726.8 408,1726.8 410.3,1899.0 19,1899.0" fill="#ffb400"/>
<polygon points="21,1733.9 45,1733.6 69,1733.3 94,1733.0 118,1732.8 142,1732.5 166,1732.3 190,1732.1 215,1731.9 239,1731.8 263,1731.6 287,1731.5 311,1731.4 336,1731.3 360,1731.3 384,1731.2 408,1731.2 410.3,1899.0 19,1899.0" fill="#ffaf00"/>
<polygon points="21,1738.6 45,1738.2 69,1737.9 94,1737.6 118,1737.3 142,1737.0 166,1736.8 190,1736.6 215,1736.4 239,1736.2 263,1736.1 287,1736.0 311,1735.9 336,1735.8 360,1735.7 384,1735.7 408,1735.7 410.3,1899.0 19,1899.0" fill="#ffaa00"/>
<polygon points="21,1743.2 45,1742.8 69,1742.5 94,1742.1 118,1741.9 142,1741.6 166,1741.3 190,1741.1 215,1740.9 239,1740.7 263,1740.6 287,1740.5 311,1740.4 336,1740.3 360,1740.2 384,1740.2 408,1740.2 410.3,1899.0 19,1899.0" fill="#ffa500"/>
<polygon points="21,1747.8 45,1747.4 69,1747.0 94,1746.7 118,1746.4 142,1746.1 166,1745.9 190,1745.6 215,1745.4 239,1745.2 263,1745.1 287,1744.9 311,1744.8 336,1744.7 360,1744.7 384,1744.6 408,1744.6 410.3,1899.0 19,1899.0" fill="#ffa000"/>
<polygon points="21,1752.4 45,1752.0 69,1751.6 94,1751.3 118,1751.0 142,1750.7 166,1750.4 190,1750.1 215,1749.9 239,1749.7 263,1749.6 287,1749.4 311,1749.3 336,1749.2 360,1749.2 384,1749.1 408,1749.1 410.3,1899.0 19,1899.0" fill="#ff9b00"/>
<polygon points="21,1757.4 45,1757.0 69,1756.5 94,1756.1 118,1755.7 142,1755.4 166,1755.1 190,1754.8 215,1754.5 239,1754.3 263,1754.1 287,1754.0 311,1753.8 336,1753.7 360,1753.6 384,1753.6 408,1753.6 410.3,1899.0 19,1899.0" fill="#ff9600"/>
<polygon points="21,1762.5 45,1761.9 69,1761.4 94,1761.0 118,1760.5 142,1760.1 166,1759.8 190,1759.5 215,1759.2 239,1758.9 263,1758.7 287,1758.5 311,1758.3 336,1758.2 360,1758.1 384,1758.1 408,1758.1 410.3,1899.0 19,1899.0" fill="#ff9000"/>
<polygon points="21,1767.5 45,1766.9 69,1766.3 94,1765.8 118,1765.3 142,1764.9 166,1764.5 190,1764.1 215,1763.8 239,1763.5 263,1763.2 287,1763.0 311,1762.9 336,1762.7 360,1762.6 384,1762.6 408,1762.5 410.3,1899.0 19,1899.0" fill="#ff8b00"/>
<polygon points="21,1772.5 45,1771.9 69,1771.2 94,1770.7 118,1770.1 142,1769.6 166,1769.2 190,1768.8 215,1768.4 239,1768.1 263,1767.8 287,1767.6 311,1767.4 336,1767.2 360,1767.1 384,1767.1 408,1767.0 410.3,1899.0 19,1899.0" fill="#ff8600"/>
<polygon points="21,1777.6 45,1776.8 69,1776.1 94,1775.5 118,1774.9 142,1774.4 166,1773.9 190,1773.4 215,1773.0 239,1772.7 263,1772.4 287,1772.1 311,1771.9 336,1771.7 360,1771.6 384,1771.5 408,1771.5 410.3,1899.0 19,1899.0" fill="#ff8100"/>
<polygon points="21,1782.6 45,1781.8 69,1781.1 94,1780.4 118,1779.7 142,1779.1 166,1778.6 190,1778.1 215,1777.7 239,1777.3 263,1776.9 287,1776.6 311,1776.4 336,1776.2 360,1776.1 384,1776.0 408,1776.0 410.3,1899.0 19,1899.0" fill="#ff7c00"/>
<polygon points="21,1787.6 45,1786.8 69,1785.9 94,1785.2 118,1784.5 142,1783.8 166,1783.2 190,1782.7 215,1782.2 239,1781.8 263,1781.4 287,1781.1 311,1780.8 336,1780.6 360,1780.5 384,1780.4 408,1780.4 410.3,1899.0 19,1899.0" fill="#ff7700"/>
<polygon points="21,1792.7 45,1791.7 69,1790.8 94,1790.0 118,1789.2 142,1788.5 166,1787.8 190,1787.2 215,1786.7 239,1786.3 263,1785.8 287,1785.5 311,1785.2 336,1785.0 360,1784.9 384,1784.8 408,1784.7 410.3,1899.0 19,1899.0" fill="#ff7200"/>
<polygon points="21,1797.7 45,1796.7 69,1795.7 94,1794.8 118,1793.9 142,1793.2 166,1792.5 190,1791.8 215,1791.2 239,1790.7 263,1790.3 287,1789.9 311,1789.6 336,1789.4 360,1789.2 384,1789.1 408,1789.1 410.3,1899.0 19,1899.0" fill="#ff6d00"/>
<polygon points="21,1802.7 45,1801.6 69,1800.6 94,1799.6 118,1798.7 142,1797.8 166,1797.1 190,1796.4 215,1795.8 239,1795.2 263,1794.8 287,1794.4 311,1794.0 336,1793.8 360,1793.6 384,1793.5 408,1793.5 410.3,1899.0 19,1899.0" fill="#ff6800"/>
<polygon points="21,1807.8 45,1806.6 69,1805.4 94,1804.4 118,1803.4 142,1802.5 166,1801.7 190,1801.0 215,1800.3 239,1799.7 263,1799.2 287,1798.8 311,1798.5 336,1798.2 360,1798.0 384,1797.9 408,1797.8 410.3,1899.0 19,1899.0" fill="#ff6300"/>
<polygon points="21,1812.8 45,1811.5 69,1810.3 94,1809.2 118,1808.2 142,1807.2 166,1806.3 190,1805.6 215,1804.8 239,1804.2 263,1803.7 287,1803.2 311,1802.9 336,1802.6 360,1802.4 384,1802.2 408,1802.2 410.3,1899.0 19,1899.0" fill="#ff5e00"/>
<polygon points="21,1817.1 45,1815.8 69,1814.6 94,1813.4 118,1812.3 142,1811.3 166,1810.4 190,1809.6 215,1808.9 239,1808.2 263,1807.7 287,1807.2 311,1806.8 336,1806.5 360,1806.3 384,1806.2 408,1806.1 410.3,1899.0 19,1899.0" fill="#ff5900"/>
<polygon points="21,1821.5 45,1820.1 69,1818.8 94,1817.6 118,1816.5 142,1815.5 166,1814.5 190,1813.7 215,1812.9 239,1812.2 263,1811.7 287,1811.2 311,1810.8 336,1810.5 360,1810.2 384,1810.1 408,1810.1 410.3,1899.0 19,1899.0" fill="#ff5400"/>
<polygon points="21,1825.8 45,1824.4 69,1823.0 94,1821.8 118,1820.6 142,1819.6 166,1818.6 190,1817.7 215,1817.0 239,1816.3 263,1815.7 287,1815.2 311,1814.7 336,1814.4 360,1814.2 384,1814.0 408,1814.0 410.3,1899.0 19,1899.0" fill="#ff4f00"/>
<polygon points="21,1830.1 45,1828.7 69,1827.3 94,1826.0 118,1824.8 142,1823.7 166,1822.7 190,1821.8 215,1821.0 239,1820.3 263,1819.6 287,1819.1 311,1818.7 336,1818.4 360,1818.1 384,1818.0 408,1817.9 410.3,1899.0 19,1899.0" fill="#ff4a00"/>
<polygon points="21,1834.5 45,1832.9 69,1831.5 94,1830.2 118,1829.0 142,1827.8 166,1826.8 190,1825.9 215,1825.0 239,1824.3 263,1823.6 287,1823.1 311,1822.7 336,1822.3 360,1822.1 384,1821.9 408,1821.9 410.3,1899.0 19,1899.0" fill="#ff4400"/>
<polygon points="21,1838.8 45,1837.2 69,1835.8 94,1834.4 118,1833.1 142,1831.9 166,1830.9 190,1829.9 215,1829.0 239,1828.3 263,1827.6 287,1827.1 311,1826.6 336,1826.3 360,1826.0 384,1825.9 408,1825.8 410.3,1899.0 19,1899.0" fill="#ff3f00"/>
<polygon points="21,1843.3 45,1841.7 69,1840.1 94,1838.7 118,1837.4 142,1836.1 166,1835.0 190,1834.0 215,1833.1 239,1832.3 263,1831.6 287,1831.0 311,1830.5 336,1830.2 360,1829.9 384,1829.7 408,1829.7 410.3,1899.0 19,1899.0" fill="#ff3a00"/>
<polygon points="21,1847.8 45,1846.1 69,1844.5 94,1843.0 118,1841.6 142,1840.3 166,1839.1 190,1838.1 215,1837.1 239,1836.3 263,1835.6 287,1835.0 311,1834.5 336,1834.1 360,1833.8 384,1833.6 408,1833.6 410.3,1899.0 19,1899.0" fill="#ff3500"/>
<polygon points="21,1852.3 45,1850.5 69,1848.9 94,1847.3 118,1845.8 142,1844.5 166,1843.3 190,1842.2 215,1841.2 239,1840.3 263,1839.5 287,1838.9 311,1838.4 336,1838.0 360,1837.7 384,1837.5 408,1837.4 410.3,1899.0 19,1899.0" fill="#ff3000"/>
<polygon points="21,1856.9 45,1855.0 69,1853.2 94,1851.6 118,1850.1 142,1848.7 166,1847.4 190,1846.2 215,1845.2 239,1844.3 263,1843.5 287,1842.9 311,1842.3 336,1841.9 360,1841.6 384,1841.4 408,1841.3 410.3,1899.0 19,1899.0" fill="#ff2b00"/>
<polygon points="21,1861.4 45,1859.4 69,1857.6 94,1855.9 118,1854.3 142,1852.9 166,1851.5 190,1850.3 215,1849.3 239,1848.3 263,1847.5 287,1846.8 311,1846.2 336,1845.8 360,1845.5 384,1845.3 408,1845.2 410.3,1899.0 19,1899.0" fill="#ff2600"/>
<polygon points="21,1865.9 45,1863.9 69,1862.0 94,1860.2 118,1858.5 142,1857.0 166,1855.7 190,1854.4 215,1853.3 239,1852.3 263,1851.5 287,1850.7 311,1850.1 336,1849.7 360,1849.4 384,1849.2 408,1849.1 410.3,1899.0 19,1899.0" fill="#ff2100"/>
<polygon points="21,1870.1 45,1868.0 69,1866.1 94,1864.2 118,1862.6 142,1861.0 166,1859.6 190,1858.4 215,1857.2 239,1856.2 263,1855.3 287,1854.6 311,1854.0 336,1853.5 360,1853.2 384,1853.0 408,1852.9 410.3,1899.0 19,1899.0" fill="#ff1c00"/>
<polygon points="21,1874.2 45,1872.1 69,1870.1 94,1868.3 118,1866.6 142,1865.0 166,1863.6 190,1862.3 215,1861.1 239,1860.1 263,1859.2 287,1858.5 311,1857.9 336,1857.4 360,1857.0 384,1856.8 408,1856.8 410.3,1899.0 19,1899.0" fill="#ff1700"/>
<polygon points="21,1878.4 45,1876.2 69,1874.2 94,1872.4 118,1870.6 142,1869.0 166,1867.6 190,1866.2 215,1865.0 239,1864.0 263,1863.1 287,1862.3 311,1861.7 336,1861.2 360,1860.9 384,1860.7 408,1860.6 410.3,1899.0 19,1899.0" fill="#ff1200"/>
<polygon points="21,1882.6 45,1880.4 69,1878.3 94,1876.4 118,1874.6 142,1873.0 166,1871.5 190,1870.2 215,1869.0 239,1867.9 263,1867.0 287,1866.2 311,1865.6 336,1865.1 360,1864.7 384,1864.5 408,1864.4 410.3,1899.0 19,1899.0" fill="#ff0d00"/>
<polygon points="21,1886.7 45,1884.5 69,1882.4 94,1880.5 118,1878.7 142,1877.0 166,1875.5 190,1874.1 215,1872.9 239,1871.8 263,1870.9 287,1870.1 311,1869.4 336,1868.9 360,1868.6 384,1868.3 408,1868.3 410.3,1899.0 19,1899.0" fill="#ff0800"/>
<polygon points="21,1890.9 45,1888.6 69,1886.5 94,1884.5 118,1882.7 142,1881.0 166,1879.4 190,1878.0 215,1876.8 239,1875.7 263,1874.7 287,1873.9 311,1873.3 336,1872.8 360,1872.4 384,1872.2 408,1872.1 410.3,1899.0 19,1899.0" fill="#ff0300"/>
<polygon points="21,1895.1 45,1892.7 69,1890.6 94,1888.6 118,1886.7 142,1885.0 166,1883.4 190,1882.0 215,1880.7 239,1879.6 263,1878.6 287,1877.8 311,1877.1 336,1876.6 360,1876.2 384,1876.0 408,1875.9 410.3,1899.0 19,1899.0" fill="#ff0000"/>
<polygon points="21,1899.2 45,1896.9 69,1894.7 94,1892.6 118,1890.7 142,1889.0 166,1887.4 190,1885.9 215,1884.6 239,1883.5 263,1882.5 287,1881.7 311,1881.0 336,1880.5 360,1880.1 384,1879.8 408,1879.8 410.3,1899.0 19,1899.0" fill="#ff0000"/>
<polygon points="21,1903.4 45,1901.0 69,1898.8 94,1896.7 118,1894.7 142,1893.0 166,1891.3 190,1889.9 215,1888.5 239,1887.4 263,1886.4 287,1885.5 311,1884.8 336,1884.3 360,1883.9 384,1883.7 408,1883.6 410.3,1899.0 19,1899.0" fill="#ff0000"/>
<polygon points="21,1907.6 45,1905.1 69,1902.8 94,1900.7 118,1898.8 142,1896.9 166,1895.3 190,1893.8 215,1892.5 239,1891.3 263,1890.3 287,1889.4 311,1888.7 336,1888.1 360,1887.7 384,1887.5 408,1887.4 410.3,1899.0 19,1899.0" fill="#ff0000"/>
<polygon points="21,1911.7 45,1909.3 69,1906.9 94,1904.8 118,1902.8 142,1900.9 166,1899.3 190,1897.7 215,1896.4 239,1895.2 263,1894.1 287,1893.3 311,1892.5 336,1892.0 360,1891.6 384,1891.3 408,1891.3 410.3,1899.0 19,1899.0" fill="#ff0000"/>
</g>
<clipPath id="clipR1"><path d="M408.3,168.0 L742.5,168.0 L784.5,195.5 L787.5,226.0 L789.5,249.0 L790,1889.0 L408.3,1872.0 Z"/></clipPath>
<g clip-path="url(#clipR1)">
<rect x="408.3" y="168.0" width="381.7" height="1725.0" fill="#e0e0e0"/>
<polygon points="409.0,1660.0 439.0,1657.0 479.0,1648.0 549.0,1634.0 594.0,1624.0 639.0,1614.0 684.0,1611.0 724.0,1614.0 744.0,1628.0 759.0,1660.0 777.0,1705.0 790.0,1741.0 792,1899.0 406.3,1899.0" fill="#eec9c9"/>
<polygon points="409.0,1783.0 469.0,1783.0 549.0,1781.0 609.0,1778.0 669.0,1772.0 790.0,1764.0 792,1899.0 406.3,1899.0" fill="#f8b3b3"/>
<polygon points="409.0,1812.0 529.0,1812.0 609.0,1812.0 709.0,1812.0 790.0,1820.0 792,1899.0 406.3,1899.0" fill="#fc9c9c"/>
<polygon points="409.0,1830.0 529.0,1830.0 609.0,1832.0 709.0,1836.0 790.0,1840.0 792,1899.0 406.3,1899.0" fill="#fe8888"/>
<polygon points="409.0,1840.0 599.0,1844.0 790.0,1848.0 792,1899.0 406.3,1899.0" fill="#ff7474"/>
<polygon points="409.0,1848.0 599.0,1852.0 790.0,1856.0 792,1899.0 406.3,1899.0" fill="#ff5e5e"/>
<polygon points="409.0,1855.0 599.0,1859.0 790.0,1863.0 792,1899.0 406.3,1899.0" fill="#ff4848"/>
<polygon points="409.0,1861.0 599.0,1865.0 790.0,1869.0 792,1899.0 406.3,1899.0" fill="#ff3232"/>
<polygon points="409.0,1866.0 599.0,1870.5 790.0,1875.0 792,1899.0 406.3,1899.0" fill="#ff1a1a"/>
<polygon points="409.0,1870.0 599.0,1875.5 790.0,1881.0 792,1899.0 406.3,1899.0" fill="#ff0000"/>
<path d="M409.0,1840.0 L439.0,1840.0 M591.0,1843.0 L669.0,1845.0 L790.0,1848.0" fill="none" stroke="#200" stroke-opacity="0.9" stroke-width="3"/>
<path d="M409.0,1848.0 L439.0,1848.0 M591.0,1851.0 L669.0,1853.0 L790.0,1856.0" fill="none" stroke="#200" stroke-opacity="0.9" stroke-width="3"/>
<path d="M409.0,1855.0 L439.0,1855.0 M591.0,1858.0 L669.0,1860.0 L790.0,1863.0" fill="none" stroke="#200" stroke-opacity="0.9" stroke-width="3"/>
<path d="M409.0,1861.0 L439.0,1861.0 M591.0,1864.0 L669.0,1866.0 L790.0,1869.0" fill="none" stroke="#200" stroke-opacity="0.9" stroke-width="3"/>
<path d="M409.0,1866.0 L439.0,1866.0 M591.0,1869.5 L669.0,1871.5 L790.0,1875.0" fill="none" stroke="#200" stroke-opacity="0.9" stroke-width="3"/>
<path d="M409.0,1870.0 L439.0,1870.0 M591.0,1874.5 L669.0,1876.5 L790.0,1881.0" fill="none" stroke="#200" stroke-opacity="0.9" stroke-width="3"/>
</g>
<line x1="23" y1="1131" x2="408.3" y2="1131" stroke="#304848" stroke-opacity="0.55" stroke-width="2.5"/>
<line x1="408.3" y1="1131" x2="790" y2="1131" stroke="#8c8c8c" stroke-width="3"/>
<line x1="23" y1="1527" x2="408.3" y2="1527" stroke="#304848" stroke-opacity="0.55" stroke-width="2.5"/>
<line x1="408.3" y1="1527" x2="790" y2="1527" stroke="#8c8c8c" stroke-width="3"/>
<path d="M409.0,1660.0 L423.0,1659.0 L437.0,1656.0 M554.0,1633.0 L574.0,1628.0 L595.0,1624.0 M742.0,1628.0 L759.0,1660.0 L777.0,1705.0 L790.0,1741.0" fill="none" stroke="#101818" stroke-opacity="0.88" stroke-width="2.4" stroke-linecap="round"/>
<path d="M409.0,1783.0 L437.0,1783.0 M591.0,1779.0 L619.0,1778.0 L647.0,1775.0" fill="none" stroke="#101818" stroke-opacity="0.88" stroke-width="2.4" stroke-linecap="round"/>
<path d="M409.0,1812.0 L439.0,1812.0 M591.0,1812.0 L605.0,1812.0 M767.0,1812.0 L779.0,1814.0 L790.0,1817.0" fill="none" stroke="#101818" stroke-opacity="0.88" stroke-width="2.4" stroke-linecap="round"/>
<path d="M409.0,1830.0 L439.0,1830.0 M591.0,1832.0 L631.0,1832.0 M707.0,1835.0 L731.0,1835.0 M767.0,1836.0 L790.0,1836.0" fill="none" stroke="#101818" stroke-opacity="0.88" stroke-width="2.4" stroke-linecap="round"/>
<path d="M438.0,1133.0 L452.0,1133.0 M501.0,1136.0 L504.0,1136.5 M611.0,1154.0 L619.0,1155.0 M648.0,1160.0 L668.0,1161.0 M697.0,1167.0 L704.0,1169.0 M731.0,1173.0 L732.0,1173.0 M768.0,1148.0 L775.0,1133.0 L783.0,1122.0 L787.0,1100.0 L788.0,1070.0 L788.0,1045.0" fill="none" stroke="#101818" stroke-opacity="0.88" stroke-width="2.4" stroke-linecap="round"/>
<g class="cr" style="font-size:26.5px;letter-spacing:4.0px">
<text x="426.5" y="1649.0" transform="rotate(15.0 502.0 1649.0)" class="cl" dy="9.7" style="text-anchor:start;font-size:27px;letter-spacing:0" textLength="151" lengthAdjust="spacingAndGlyphs">1.0715E13</text>
<text x="595.5" y="1611.0" transform="rotate(12.0 671.0 1611.0)" class="cl" dy="9.7" style="text-anchor:start;font-size:27px;letter-spacing:0" textLength="151" lengthAdjust="spacingAndGlyphs">1.0715E13</text>
<text x="444.0" y="1779.5" transform="rotate(2.0 513.0 1779.5)" class="cl" dy="9.5" style="text-anchor:start;font-size:26.5px;letter-spacing:0" textLength="138" lengthAdjust="spacingAndGlyphs">2.143E13</text>
<text x="651.0" y="1764.0" transform="rotate(3.0 720.0 1764.0)" class="cl" dy="9.5" style="text-anchor:start;font-size:26.5px;letter-spacing:0" textLength="138" lengthAdjust="spacingAndGlyphs">2.143E13</text>
<text x="611.0" y="1811.0" transform="rotate(1.0 686.0 1811.0)" class="cl" dy="9.5" style="text-anchor:start;font-size:26.5px;letter-spacing:0" textLength="150" lengthAdjust="spacingAndGlyphs">3.2145E13</text>
<text x="447.5" y="1828.0" transform="rotate(0.0 516.0 1828.0)" class="cl" dy="9.5" style="text-anchor:start;font-size:26.5px;letter-spacing:0" textLength="137" lengthAdjust="spacingAndGlyphs">4.286E13</text>
</g>
<g class="cr" style="font-size:32px">
<text x="425.0" y="1132.2" transform="rotate(0.0 425.0 1132.2)" class="cl" dy="11.5">0</text>
<text x="463.0" y="1133.2" transform="rotate(0.0 463.0 1133.2)" class="cl" dy="11.5">0</text>
<text x="486.0" y="1133.2" transform="rotate(-3.0 486.0 1133.2)" class="cl" dy="11.5">0</text>
<text x="520.0" y="1139.2" transform="rotate(-12.0 520.0 1139.2)" class="cl" dy="11.5">0</text>
<text x="545.0" y="1141.2" transform="rotate(-12.0 545.0 1141.2)" class="cl" dy="11.5">0</text>
<text x="572.0" y="1148.7" transform="rotate(-15.0 572.0 1148.7)" class="cl" dy="11.5">0</text>
<text x="597.0" y="1151.2" transform="rotate(-5.0 597.0 1151.2)" class="cl" dy="11.5">0</text>
<text x="633.0" y="1156.2" transform="rotate(-10.0 633.0 1156.2)" class="cl" dy="11.5">0</text>
<text x="685.0" y="1163.2" transform="rotate(-15.0 685.0 1163.2)" class="cl" dy="11.5">0</text>
<text x="716.0" y="1170.2" transform="rotate(-8.0 716.0 1170.2)" class="cl" dy="11.5">0</text>
<text x="751.0" y="1171.2" transform="rotate(40.0 751.0 1171.2)" class="cl" dy="11.5">0</text>
</g>
<g style="font-size:27px;letter-spacing:1.4px">
<path d="M23.0,287.7 L35.0,285.5 L47.0,283.3 M111.0,272.9 L123.0,271.2 L135.0,269.6 L147.0,268.0 M211.0,260.8 L215.0,260.4 M279.0,255.3 L291.0,254.6 L303.0,253.9 L315.0,253.3 L323.0,253.0 M387.0,251.3 L399.0,251.2 L407.0,251.2 " fill="none" stroke="#101818" stroke-opacity="0.88" stroke-width="2.4" stroke-linecap="round"/>
<text x="54.8" y="277.7" transform="rotate(13.6 80.0 277.7)" class="cl" dy="9.7" style="text-anchor:start;font-size:27px;letter-spacing:0" textLength="50.5" lengthAdjust="spacingAndGlyphs">826</text>
<text x="154.8" y="264.0" transform="rotate(9.6 180.0 264.0)" class="cl" dy="9.7" style="text-anchor:start;font-size:27px;letter-spacing:0" textLength="50.5" lengthAdjust="spacingAndGlyphs">826</text>
<text x="221.8" y="257.6" transform="rotate(6.8 247.0 257.6)" class="cl" dy="9.7" style="text-anchor:start;font-size:27px;letter-spacing:0" textLength="50.5" lengthAdjust="spacingAndGlyphs">826</text>
<text x="328.8" y="251.9" transform="rotate(2.3 354.0 251.9)" class="cl" dy="11.2" style="text-anchor:start;font-size:27px;letter-spacing:0" textLength="50.5" lengthAdjust="spacingAndGlyphs">826</text>
<path d="M83.0,473.1 L91.0,471.9 M155.0,463.4 L159.0,463.0 M291.0,451.8 L303.0,451.2 L315.0,450.6 L327.0,450.1 L331.0,450.0 M395.0,448.6 L407.0,448.6 " fill="none" stroke="#101818" stroke-opacity="0.88" stroke-width="2.4" stroke-linecap="round"/>
<text x="26.8" y="478.0" transform="rotate(13.9 52.0 478.0)" class="cl" dy="9.7" style="text-anchor:start;font-size:27px;letter-spacing:0" textLength="50.5" lengthAdjust="spacingAndGlyphs">856</text>
<text x="97.8" y="467.4" transform="rotate(11.2 123.0 467.4)" class="cl" dy="9.7" style="text-anchor:start;font-size:27px;letter-spacing:0" textLength="50.5" lengthAdjust="spacingAndGlyphs">856</text>
<text x="165.8" y="459.5" transform="rotate(8.6 191.0 459.5)" class="cl" dy="9.7" style="text-anchor:start;font-size:27px;letter-spacing:0" textLength="50.5" lengthAdjust="spacingAndGlyphs">856</text>
<text x="231.8" y="453.9" transform="rotate(6.0 257.0 453.9)" class="cl" dy="9.7" style="text-anchor:start;font-size:27px;letter-spacing:0" textLength="50.5" lengthAdjust="spacingAndGlyphs">856</text>
<text x="338.8" y="449.1" transform="rotate(1.8 364.0 449.1)" class="cl" dy="11.2" style="text-anchor:start;font-size:27px;letter-spacing:0" textLength="50.5" lengthAdjust="spacingAndGlyphs">856</text>
<path d="M23.0,651.9 L35.0,649.5 L47.0,647.3 L59.0,645.1 L71.0,642.9 M139.0,632.3 L151.0,630.6 L163.0,629.1 L175.0,627.6 L187.0,626.2 M255.0,619.6 L259.0,619.3 M323.0,615.4 L331.0,615.0 M395.0,613.5 L407.0,613.5 " fill="none" stroke="#101818" stroke-opacity="0.88" stroke-width="2.4" stroke-linecap="round"/>
<text x="79.8" y="637.3" transform="rotate(13.2 105.0 637.3)" class="cl" dy="9.7" style="text-anchor:start;font-size:27px;letter-spacing:0" textLength="50.5" lengthAdjust="spacingAndGlyphs">885</text>
<text x="195.8" y="622.6" transform="rotate(8.3 221.0 622.6)" class="cl" dy="9.7" style="text-anchor:start;font-size:27px;letter-spacing:0" textLength="50.5" lengthAdjust="spacingAndGlyphs">885</text>
<text x="264.8" y="617.1" transform="rotate(5.2 290.0 617.1)" class="cl" dy="9.7" style="text-anchor:start;font-size:27px;letter-spacing:0" textLength="50.5" lengthAdjust="spacingAndGlyphs">885</text>
<text x="338.8" y="614.0" transform="rotate(2.0 364.0 614.0)" class="cl" dy="9.7" style="text-anchor:start;font-size:27px;letter-spacing:0" textLength="50.5" lengthAdjust="spacingAndGlyphs">885</text>
<path d="M23.0,801.3 L35.0,798.3 L47.0,795.5 L59.0,792.7 L71.0,790.1 L83.0,787.5 L91.0,785.8 M155.0,774.0 L167.0,772.1 L179.0,770.2 L191.0,768.5 L203.0,766.9 L215.0,765.3 L223.0,764.3 M287.0,758.0 L299.0,757.1 L311.0,756.3 L323.0,755.6 L331.0,755.1 M395.0,753.3 L407.0,753.2 " fill="none" stroke="#101818" stroke-opacity="0.88" stroke-width="2.4" stroke-linecap="round"/>
<text x="97.8" y="779.6" transform="rotate(15.5 123.0 779.6)" class="cl" dy="9.7" style="text-anchor:start;font-size:27px;letter-spacing:0" textLength="50.5" lengthAdjust="spacingAndGlyphs">915</text>
<text x="229.8" y="760.8" transform="rotate(8.5 255.0 760.8)" class="cl" dy="9.7" style="text-anchor:start;font-size:27px;letter-spacing:0" textLength="50.5" lengthAdjust="spacingAndGlyphs">915</text>
<text x="338.8" y="753.8" transform="rotate(2.5 364.0 753.8)" class="cl" dy="9.7" style="text-anchor:start;font-size:27px;letter-spacing:0" textLength="50.5" lengthAdjust="spacingAndGlyphs">915</text>
<path d="M23.0,924.7 L35.0,921.0 L47.0,917.4 L59.0,914.0 L71.0,910.6 L83.0,907.4 M151.0,891.3 L159.0,889.7 M223.0,878.4 L235.0,876.7 L247.0,875.0 L259.0,873.5 M323.0,867.4 L335.0,866.7 M399.0,864.5 L407.0,864.5 " fill="none" stroke="#101818" stroke-opacity="0.88" stroke-width="2.4" stroke-linecap="round"/>
<text x="91.8" y="898.9" transform="rotate(19.5 117.0 898.9)" class="cl" dy="9.7" style="text-anchor:start;font-size:27px;letter-spacing:0" textLength="50.5" lengthAdjust="spacingAndGlyphs">944</text>
<text x="165.8" y="883.6" transform="rotate(14.8 191.0 883.6)" class="cl" dy="9.7" style="text-anchor:start;font-size:27px;letter-spacing:0" textLength="50.5" lengthAdjust="spacingAndGlyphs">944</text>
<text x="264.8" y="870.2" transform="rotate(8.2 290.0 870.2)" class="cl" dy="9.7" style="text-anchor:start;font-size:27px;letter-spacing:0" textLength="50.5" lengthAdjust="spacingAndGlyphs">944</text>
<text x="340.8" y="865.2" transform="rotate(2.9 366.0 865.2)" class="cl" dy="9.7" style="text-anchor:start;font-size:27px;letter-spacing:0" textLength="50.5" lengthAdjust="spacingAndGlyphs">944</text>
<path d="M87.0,1005.1 L99.0,1001.6 L111.0,998.3 L115.0,997.2 M179.0,981.7 L187.0,980.0 M255.0,968.2 L259.0,967.6 M327.0,960.4 L331.0,960.1 M395.0,957.4 L407.0,957.3 " fill="none" stroke="#101818" stroke-opacity="0.88" stroke-width="2.4" stroke-linecap="round"/>
<text x="30.8" y="1014.8" transform="rotate(26.1 56.0 1014.8)" class="cl" dy="9.7" style="text-anchor:start;font-size:27px;letter-spacing:0" textLength="50.5" lengthAdjust="spacingAndGlyphs">974</text>
<text x="120.8" y="989.2" transform="rotate(20.0 146.0 989.2)" class="cl" dy="9.7" style="text-anchor:start;font-size:27px;letter-spacing:0" textLength="50.5" lengthAdjust="spacingAndGlyphs">974</text>
<text x="195.8" y="973.6" transform="rotate(14.6 221.0 973.6)" class="cl" dy="9.7" style="text-anchor:start;font-size:27px;letter-spacing:0" textLength="50.5" lengthAdjust="spacingAndGlyphs">974</text>
<text x="267.8" y="963.5" transform="rotate(9.1 293.0 963.5)" class="cl" dy="9.7" style="text-anchor:start;font-size:27px;letter-spacing:0" textLength="50.5" lengthAdjust="spacingAndGlyphs">974</text>
<text x="338.8" y="958.2" transform="rotate(3.5 364.0 958.2)" class="cl" dy="11.2" style="text-anchor:start;font-size:27px;letter-spacing:0" textLength="50.5" lengthAdjust="spacingAndGlyphs">974</text>
<path d="M23.0,1109.2 L35.0,1105.0 M115.0,1080.4 L123.0,1078.3 M207.0,1059.5 L219.0,1057.3 L231.0,1055.3 L243.0,1053.4 L255.0,1051.6 L267.0,1050.0 L271.0,1049.5 M355.0,1042.1 L367.0,1041.6 L379.0,1041.2 L391.0,1040.9 L403.0,1040.8 L407.0,1040.8 " fill="none" stroke="#101818" stroke-opacity="0.88" stroke-width="2.4" stroke-linecap="round"/>
<text x="40.8" y="1092.3" transform="rotate(24.8 74.0 1092.3)" class="cl" dy="9.7" style="text-anchor:start;font-size:27px;letter-spacing:0" textLength="66.5" lengthAdjust="spacingAndGlyphs">1004</text>
<text x="131.8" y="1068.1" transform="rotate(18.6 165.0 1068.1)" class="cl" dy="9.7" style="text-anchor:start;font-size:27px;letter-spacing:0" textLength="66.5" lengthAdjust="spacingAndGlyphs">1004</text>
<text x="279.8" y="1045.0" transform="rotate(7.5 313.0 1045.0)" class="cl" dy="9.7" style="text-anchor:start;font-size:27px;letter-spacing:0" textLength="66.5" lengthAdjust="spacingAndGlyphs">1004</text>
<path d="M107.0,1151.4 L119.0,1148.5 L131.0,1145.7 L143.0,1143.0 L155.0,1140.4 L167.0,1137.9 L179.0,1135.6 L187.0,1134.1 M267.0,1122.1 L279.0,1120.7 M359.0,1114.8 L371.0,1114.4 L383.0,1114.1 L395.0,1113.9 L407.0,1113.8 " fill="none" stroke="#101818" stroke-opacity="0.88" stroke-width="2.4" stroke-linecap="round"/>
<text x="31.8" y="1162.7" transform="rotate(23.1 65.0 1162.7)" class="cl" dy="9.7" style="text-anchor:start;font-size:27px;letter-spacing:0" textLength="66.5" lengthAdjust="spacingAndGlyphs">1033</text>
<text x="192.8" y="1127.6" transform="rotate(12.8 226.0 1127.6)" class="cl" dy="9.7" style="text-anchor:start;font-size:27px;letter-spacing:0" textLength="66.5" lengthAdjust="spacingAndGlyphs">1033</text>
<text x="285.8" y="1117.1" transform="rotate(6.3 319.0 1117.1)" class="cl" dy="9.7" style="text-anchor:start;font-size:27px;letter-spacing:0" textLength="66.5" lengthAdjust="spacingAndGlyphs">1033</text>
<path d="M23.0,1235.6 L35.0,1231.8 L47.0,1228.1 L59.0,1224.6 L71.0,1221.2 L83.0,1217.9 L95.0,1214.7 L103.0,1212.6 M187.0,1194.2 L199.0,1192.1 M279.0,1180.8 L287.0,1180.0 M371.0,1174.5 L383.0,1174.2 L395.0,1174.0 L407.0,1173.9 " fill="none" stroke="#101818" stroke-opacity="0.88" stroke-width="2.4" stroke-linecap="round"/>
<text x="111.8" y="1202.7" transform="rotate(18.2 145.0 1202.7)" class="cl" dy="9.7" style="text-anchor:start;font-size:27px;letter-spacing:0" textLength="66.5" lengthAdjust="spacingAndGlyphs">1063</text>
<text x="205.8" y="1185.8" transform="rotate(11.9 239.0 1185.8)" class="cl" dy="9.7" style="text-anchor:start;font-size:27px;letter-spacing:0" textLength="66.5" lengthAdjust="spacingAndGlyphs">1063</text>
<text x="295.8" y="1176.5" transform="rotate(5.6 329.0 1176.5)" class="cl" dy="9.7" style="text-anchor:start;font-size:27px;letter-spacing:0" textLength="66.5" lengthAdjust="spacingAndGlyphs">1063</text>
<path d="M107.0,1262.3 L119.0,1259.7 L131.0,1257.2 L143.0,1254.8 L155.0,1252.5 L167.0,1250.4 L179.0,1248.3 L191.0,1246.4 L199.0,1245.1 M279.0,1235.2 L291.0,1234.1 M375.0,1229.5 L387.0,1229.3 L399.0,1229.1 L407.0,1229.1 " fill="none" stroke="#101818" stroke-opacity="0.88" stroke-width="2.4" stroke-linecap="round"/>
<text x="31.8" y="1272.2" transform="rotate(20.6 65.0 1272.2)" class="cl" dy="9.7" style="text-anchor:start;font-size:27px;letter-spacing:0" textLength="66.5" lengthAdjust="spacingAndGlyphs">1093</text>
<text x="205.8" y="1239.6" transform="rotate(10.5 239.0 1239.6)" class="cl" dy="9.7" style="text-anchor:start;font-size:27px;letter-spacing:0" textLength="66.5" lengthAdjust="spacingAndGlyphs">1093</text>
<text x="299.8" y="1231.2" transform="rotate(4.7 333.0 1231.2)" class="cl" dy="9.7" style="text-anchor:start;font-size:27px;letter-spacing:0" textLength="66.5" lengthAdjust="spacingAndGlyphs">1093</text>
<path d="M23.0,1332.4 L35.0,1329.3 L47.0,1326.3 L59.0,1323.4 L71.0,1320.6 L83.0,1317.9 L95.0,1315.3 L107.0,1312.8 L119.0,1310.4 L123.0,1309.6 M203.0,1296.3 L207.0,1295.8 M291.0,1286.7 L303.0,1285.8 L315.0,1285.0 M395.0,1282.1 L407.0,1282.0 " fill="none" stroke="#101818" stroke-opacity="0.88" stroke-width="2.4" stroke-linecap="round"/>
<text x="128.8" y="1302.6" transform="rotate(14.1 162.0 1302.6)" class="cl" dy="9.7" style="text-anchor:start;font-size:27px;letter-spacing:0" textLength="66.5" lengthAdjust="spacingAndGlyphs">1122</text>
<text x="215.8" y="1290.6" transform="rotate(9.2 249.0 1290.6)" class="cl" dy="9.7" style="text-anchor:start;font-size:27px;letter-spacing:0" textLength="66.5" lengthAdjust="spacingAndGlyphs">1122</text>
<text x="321.8" y="1283.0" transform="rotate(3.1 355.0 1283.0)" class="cl" dy="9.7" style="text-anchor:start;font-size:27px;letter-spacing:0" textLength="66.5" lengthAdjust="spacingAndGlyphs">1122</text>
<path d="M23.0,1373.0 L35.0,1370.0 L47.0,1367.0 L59.0,1364.2 M143.0,1347.1 L155.0,1345.0 L167.0,1343.0 L179.0,1341.2 L191.0,1339.4 L199.0,1338.2 M279.0,1329.3 L291.0,1328.3 L303.0,1327.4 L315.0,1326.6 L327.0,1325.9 L339.0,1325.3 L351.0,1324.8 L363.0,1324.4 L375.0,1324.1 L387.0,1323.9 L399.0,1323.7 L407.0,1323.7 " fill="none" stroke="#101818" stroke-opacity="0.88" stroke-width="2.4" stroke-linecap="round"/>
<text x="67.8" y="1355.1" transform="rotate(17.0 101.0 1355.1)" class="cl" dy="9.7" style="text-anchor:start;font-size:27px;letter-spacing:0" textLength="66.5" lengthAdjust="spacingAndGlyphs">1152</text>
<text x="206.8" y="1333.1" transform="rotate(9.5 240.0 1333.1)" class="cl" dy="9.7" style="text-anchor:start;font-size:27px;letter-spacing:0" textLength="66.5" lengthAdjust="spacingAndGlyphs">1152</text>
<path d="M23.0,1410.4 L27.0,1409.5 M107.0,1393.9 L119.0,1391.8 L131.0,1389.9 L143.0,1388.0 L155.0,1386.2 L167.0,1384.6 L179.0,1382.9 L191.0,1381.4 L203.0,1380.0 L215.0,1378.6 L227.0,1377.3 L239.0,1376.1 L251.0,1375.0 L263.0,1373.9 L275.0,1373.0 L287.0,1372.1 L299.0,1371.3 L311.0,1370.6 L319.0,1370.2 M399.0,1367.9 L407.0,1367.9 " fill="none" stroke="#101818" stroke-opacity="0.88" stroke-width="2.4" stroke-linecap="round"/>
<text x="33.8" y="1401.2" transform="rotate(16.3 67.0 1401.2)" class="cl" dy="9.7" style="text-anchor:start;font-size:27px;letter-spacing:0" textLength="66.5" lengthAdjust="spacingAndGlyphs">1181</text>
<text x="326.8" y="1368.6" transform="rotate(2.4 360.0 1368.6)" class="cl" dy="9.7" style="text-anchor:start;font-size:27px;letter-spacing:0" textLength="66.5" lengthAdjust="spacingAndGlyphs">1181</text>
<path d="M23.0,1445.5 L35.0,1443.0 L47.0,1440.6 L59.0,1438.2 L71.0,1436.0 L83.0,1433.8 L95.0,1431.7 L107.0,1429.7 L119.0,1427.7 L123.0,1427.1 M203.0,1416.3 L215.0,1415.0 L227.0,1413.8 L235.0,1413.0 M319.0,1407.0 L331.0,1406.4 L343.0,1406.0 L355.0,1405.6 L367.0,1405.3 L379.0,1405.0 L391.0,1404.9 L403.0,1404.8 L407.0,1404.8 " fill="none" stroke="#101818" stroke-opacity="0.88" stroke-width="2.4" stroke-linecap="round"/>
<text x="128.8" y="1421.4" transform="rotate(11.4 162.0 1421.4)" class="cl" dy="9.7" style="text-anchor:start;font-size:27px;letter-spacing:0" textLength="66.5" lengthAdjust="spacingAndGlyphs">1211</text>
<text x="243.8" y="1409.5" transform="rotate(6.2 277.0 1409.5)" class="cl" dy="9.7" style="text-anchor:start;font-size:27px;letter-spacing:0" textLength="66.5" lengthAdjust="spacingAndGlyphs">1211</text>
<path d="M23.0,1478.7 L35.0,1476.6 L47.0,1474.5 L59.0,1472.6 L63.0,1471.9 M143.0,1460.5 L155.0,1459.0 L167.0,1457.6 L179.0,1456.3 L191.0,1455.0 L203.0,1453.9 L215.0,1452.7 L227.0,1451.7 L239.0,1450.7 L251.0,1449.8 L263.0,1448.9 L275.0,1448.2 L287.0,1447.4 L299.0,1446.8 L311.0,1446.2 L323.0,1445.7 L335.0,1445.3 L347.0,1444.9 L359.0,1444.6 L371.0,1444.3 L383.0,1444.1 L395.0,1444.0 L407.0,1444.0 " fill="none" stroke="#101818" stroke-opacity="0.88" stroke-width="2.4" stroke-linecap="round"/>
<text x="69.8" y="1465.8" transform="rotate(12.1 103.0 1465.8)" class="cl" dy="9.7" style="text-anchor:start;font-size:27px;letter-spacing:0" textLength="66.5" lengthAdjust="spacingAndGlyphs">1241</text>
<path d="M23.0,1507.3 L35.0,1505.6 L47.0,1503.9 L59.0,1502.2 L71.0,1500.7 L83.0,1499.1 L95.0,1497.7 L107.0,1496.3 L119.0,1494.9 L131.0,1493.6 L143.0,1492.4 L147.0,1492.0 M231.0,1484.9 L243.0,1484.1 L255.0,1483.4 L259.0,1483.2 M339.0,1479.8 L351.0,1479.5 L363.0,1479.3 L375.0,1479.1 L387.0,1479.0 L399.0,1478.9 L407.0,1478.9 " fill="none" stroke="#101818" stroke-opacity="0.88" stroke-width="2.4" stroke-linecap="round"/>
<text x="155.8" y="1488.1" transform="rotate(7.2 189.0 1488.1)" class="cl" dy="9.7" style="text-anchor:start;font-size:27px;letter-spacing:0" textLength="66.5" lengthAdjust="spacingAndGlyphs">1270</text>
<text x="266.8" y="1481.1" transform="rotate(3.6 300.0 1481.1)" class="cl" dy="9.7" style="text-anchor:start;font-size:27px;letter-spacing:0" textLength="66.5" lengthAdjust="spacingAndGlyphs">1270</text>
<path d="M23.0,1540.8 L27.0,1540.3 M107.0,1530.3 L119.0,1529.0 L131.0,1527.8 L143.0,1526.6 L155.0,1525.5 L167.0,1524.4 L179.0,1523.4 L191.0,1522.4 L203.0,1521.5 L215.0,1520.6 L227.0,1519.8 L239.0,1519.0 L251.0,1518.3 L263.0,1517.6 L275.0,1517.0 L287.0,1516.5 L299.0,1516.0 L311.0,1515.5 L323.0,1515.1 L335.0,1514.8 L347.0,1514.5 L359.0,1514.2 L371.0,1514.1 L383.0,1513.9 L395.0,1513.8 L407.0,1513.8 " fill="none" stroke="#101818" stroke-opacity="0.88" stroke-width="2.4" stroke-linecap="round"/>
<text x="33.8" y="1535.0" transform="rotate(2.0 67.0 1535.0)" class="cl" dy="9.7" style="text-anchor:start;font-size:27px;letter-spacing:0" textLength="66.5" lengthAdjust="spacingAndGlyphs">1300</text>
<path d="M23.0,1563.3 L35.0,1562.3 L47.0,1561.4 L59.0,1560.5 L71.0,1559.6 L83.0,1558.7 L95.0,1557.9 L107.0,1557.1 L119.0,1556.3 L131.0,1555.6 L143.0,1554.8 M223.0,1550.9 L235.0,1550.5 L247.0,1550.0 L259.0,1549.6 L271.0,1549.2 L275.0,1549.1 M355.0,1547.5 L367.0,1547.4 L379.0,1547.3 L391.0,1547.2 L403.0,1547.2 L407.0,1547.2 " fill="none" stroke="#101818" stroke-opacity="0.88" stroke-width="2.4" stroke-linecap="round"/>
<text x="150.8" y="1552.7" transform="rotate(2.8 184.0 1552.7)" class="cl" dy="9.7" style="text-anchor:start;font-size:27px;letter-spacing:0" textLength="66.5" lengthAdjust="spacingAndGlyphs">1330</text>
<text x="281.8" y="1548.1" transform="rotate(1.2 315.0 1548.1)" class="cl" dy="9.7" style="text-anchor:start;font-size:27px;letter-spacing:0" textLength="66.5" lengthAdjust="spacingAndGlyphs">1330</text>
<path d="M23.0,1594.2 L27.0,1593.8 M107.0,1587.0 L119.0,1586.1 L131.0,1585.2 L143.0,1584.4 L155.0,1583.6 L167.0,1582.9 L179.0,1582.2 L191.0,1581.5 L203.0,1580.9 L215.0,1580.3 L227.0,1579.7 L239.0,1579.2 L251.0,1578.7 L263.0,1578.2 L275.0,1577.8 L287.0,1577.4 L299.0,1577.1 L311.0,1576.8 L323.0,1576.5 L335.0,1576.3 L347.0,1576.1 L359.0,1575.9 L371.0,1575.8 L383.0,1575.7 L395.0,1575.6 L407.0,1575.6 " fill="none" stroke="#101818" stroke-opacity="0.88" stroke-width="2.4" stroke-linecap="round"/>
<text x="33.8" y="1590.2" transform="rotate(3.0 67.0 1590.2)" class="cl" dy="9.7" style="text-anchor:start;font-size:27px;letter-spacing:0" textLength="66.5" lengthAdjust="spacingAndGlyphs">1359</text>
<path d="M23.0,1619.1 L35.0,1618.5 L47.0,1617.9 L59.0,1617.3 L71.0,1616.7 L83.0,1616.2 L95.0,1615.7 L107.0,1615.2 L119.0,1614.7 L127.0,1614.4 M207.0,1611.8 L219.0,1611.4 L231.0,1611.1 L243.0,1610.9 L255.0,1610.6 L267.0,1610.4 L279.0,1610.1 M359.0,1609.2 L371.0,1609.1 L383.0,1609.0 L395.0,1609.0 L407.0,1609.0 " fill="none" stroke="#101818" stroke-opacity="0.88" stroke-width="2.4" stroke-linecap="round"/>
<text x="132.8" y="1613.0" transform="rotate(1.9 166.0 1613.0)" class="cl" dy="9.7" style="text-anchor:start;font-size:27px;letter-spacing:0" textLength="66.5" lengthAdjust="spacingAndGlyphs">1389</text>
<text x="286.8" y="1609.5" transform="rotate(0.7 320.0 1609.5)" class="cl" dy="9.7" style="text-anchor:start;font-size:27px;letter-spacing:0" textLength="66.5" lengthAdjust="spacingAndGlyphs">1389</text>
<path d="M23.0,1645.3 L35.0,1645.0 L47.0,1644.6 L59.0,1644.3 L71.0,1644.0 L83.0,1643.7 L95.0,1643.4 L107.0,1643.1 L119.0,1642.8 L131.0,1642.5 L143.0,1642.3 L155.0,1642.0 L167.0,1641.8 L179.0,1641.6 L191.0,1641.4 L203.0,1641.2 L215.0,1641.0 L227.0,1640.8 L239.0,1640.6 L251.0,1640.5 L263.0,1640.3 L275.0,1640.2 L287.0,1640.1 L299.0,1640.0 L311.0,1639.9 L323.0,1639.8 L335.0,1639.7 L347.0,1639.6 L359.0,1639.6 L371.0,1639.6 L383.0,1639.5 L395.0,1639.5 L407.0,1639.5 " fill="none" stroke="#101818" stroke-opacity="0.88" stroke-width="2.4" stroke-linecap="round"/>
<path d="M23.0,1673.5 L35.0,1673.2 L47.0,1672.9 L59.0,1672.6 M139.0,1670.9 L151.0,1670.6 L159.0,1670.5 M239.0,1669.3 L251.0,1669.2 M335.0,1668.5 L347.0,1668.4 L359.0,1668.4 L371.0,1668.3 L383.0,1668.3 L395.0,1668.3 L407.0,1668.3 " fill="none" stroke="#101818" stroke-opacity="0.88" stroke-width="2.4" stroke-linecap="round"/>
<text x="65.8" y="1671.7" transform="rotate(1.3 99.0 1671.7)" class="cl" dy="9.7" style="text-anchor:start;font-size:27px;letter-spacing:0" textLength="66.5" lengthAdjust="spacingAndGlyphs">1448</text>
<text x="165.8" y="1669.8" transform="rotate(0.8 199.0 1669.8)" class="cl" dy="9.7" style="text-anchor:start;font-size:27px;letter-spacing:0" textLength="66.5" lengthAdjust="spacingAndGlyphs">1448</text>
<text x="259.8" y="1668.8" transform="rotate(0.5 293.0 1668.8)" class="cl" dy="9.7" style="text-anchor:start;font-size:27px;letter-spacing:0" textLength="66.5" lengthAdjust="spacingAndGlyphs">1448</text>
<path d="M23.0,1698.0 L35.0,1697.7 L47.0,1697.4 L59.0,1697.2 L71.0,1697.0 L83.0,1696.7 L95.0,1696.5 L107.0,1696.3 L119.0,1696.1 L131.0,1695.9 L143.0,1695.7 L155.0,1695.5 L167.0,1695.4 L179.0,1695.2 L191.0,1695.1 L203.0,1694.9 L215.0,1694.8 L227.0,1694.6 L239.0,1694.5 L251.0,1694.4 L263.0,1694.3 L275.0,1694.2 L287.0,1694.1 L299.0,1694.0 L311.0,1694.0 L323.0,1693.9 L335.0,1693.9 L347.0,1693.8 L359.0,1693.8 L371.0,1693.7 L383.0,1693.7 L395.0,1693.7 L407.0,1693.7 " fill="none" stroke="#101818" stroke-opacity="0.88" stroke-width="2.4" stroke-linecap="round"/>
<path d="M23.0,1724.7 L35.0,1724.5 L47.0,1724.4 L55.0,1724.3 M135.0,1723.5 L139.0,1723.5 M219.0,1722.9 L231.0,1722.8 L243.0,1722.7 L255.0,1722.7 L267.0,1722.6 L279.0,1722.6 L291.0,1722.5 L303.0,1722.5 L315.0,1722.4 L327.0,1722.4 L339.0,1722.4 L351.0,1722.4 L363.0,1722.3 L375.0,1722.3 L387.0,1722.3 L399.0,1722.3 L407.0,1722.3 " fill="none" stroke="#101818" stroke-opacity="0.88" stroke-width="2.4" stroke-linecap="round"/>
<text x="61.8" y="1723.9" transform="rotate(0.6 95.0 1723.9)" class="cl" dy="9.7" style="text-anchor:start;font-size:27px;letter-spacing:0" textLength="66.5" lengthAdjust="spacingAndGlyphs">1507</text>
<text x="146.8" y="1723.1" transform="rotate(0.4 180.0 1723.1)" class="cl" dy="9.7" style="text-anchor:start;font-size:27px;letter-spacing:0" textLength="66.5" lengthAdjust="spacingAndGlyphs">1507</text>
<path d="M23.0,1752.4 L35.0,1752.2 L47.0,1752.0 L59.0,1751.8 L71.0,1751.6 L83.0,1751.4 L95.0,1751.3 L107.0,1751.1 L119.0,1750.9 L131.0,1750.8 L143.0,1750.6 L155.0,1750.5 L167.0,1750.4 L179.0,1750.3 L191.0,1750.1 L203.0,1750.0 L215.0,1749.9 L219.0,1749.9 M383.0,1749.1 L395.0,1749.1 L407.0,1749.1 " fill="none" stroke="#101818" stroke-opacity="0.88" stroke-width="2.4" stroke-linecap="round"/>
<text x="227.8" y="1749.6" transform="rotate(0.4 261.0 1749.6)" class="cl" dy="9.7" style="text-anchor:start;font-size:27px;letter-spacing:0" textLength="66.5" lengthAdjust="spacingAndGlyphs">1537</text>
<text x="308.8" y="1749.2" transform="rotate(0.2 342.0 1749.2)" class="cl" dy="9.7" style="text-anchor:start;font-size:27px;letter-spacing:0" textLength="66.5" lengthAdjust="spacingAndGlyphs">1537</text>
<path d="M99.0,1780.2 L111.0,1779.9 L123.0,1779.6 L135.0,1779.3 L147.0,1779.0 L159.0,1778.7 L171.0,1778.5 L183.0,1778.2 L195.0,1778.0 L207.0,1777.8 L219.0,1777.6 L231.0,1777.4 L243.0,1777.2 L255.0,1777.0 L267.0,1776.9 L279.0,1776.7 L291.0,1776.6 L303.0,1776.5 L315.0,1776.4 L327.0,1776.3 L339.0,1776.2 L351.0,1776.1 L363.0,1776.1 L375.0,1776.0 L387.0,1776.0 L399.0,1776.0 L407.0,1776.0 " fill="none" stroke="#101818" stroke-opacity="0.88" stroke-width="2.4" stroke-linecap="round"/>
<text x="26.8" y="1781.3" transform="rotate(1.0 60.0 1781.3)" class="cl" dy="9.7" style="text-anchor:start;font-size:27px;letter-spacing:0" textLength="66.5" lengthAdjust="spacingAndGlyphs">1567</text>
<path d="M23.0,1812.7 L35.0,1812.0 L47.0,1811.4 L59.0,1810.8 L71.0,1810.2 L83.0,1809.7 L95.0,1809.1 L107.0,1808.6 M187.0,1805.7 L199.0,1805.3 L211.0,1805.0 L223.0,1804.6 L235.0,1804.3 L247.0,1804.0 L259.0,1803.8 L263.0,1803.7 M343.0,1802.5 L355.0,1802.4 L367.0,1802.3 L379.0,1802.3 L391.0,1802.2 L403.0,1802.2 L407.0,1802.2 " fill="none" stroke="#101818" stroke-opacity="0.88" stroke-width="2.4" stroke-linecap="round"/>
<text x="113.8" y="1807.0" transform="rotate(2.1 147.0 1807.0)" class="cl" dy="9.7" style="text-anchor:start;font-size:27px;letter-spacing:0" textLength="66.5" lengthAdjust="spacingAndGlyphs">1596</text>
<text x="269.8" y="1803.0" transform="rotate(0.9 303.0 1803.0)" class="cl" dy="9.7" style="text-anchor:start;font-size:27px;letter-spacing:0" textLength="66.5" lengthAdjust="spacingAndGlyphs">1596</text>
<path d="M23.0,1838.7 L35.0,1837.9 L47.0,1837.1 L59.0,1836.4 L71.0,1835.7 L83.0,1835.0 L95.0,1834.3 L107.0,1833.7 L119.0,1833.1 L131.0,1832.5 L143.0,1831.9 L155.0,1831.4 L167.0,1830.8 L179.0,1830.4 L191.0,1829.9 L203.0,1829.5 L215.0,1829.0 L227.0,1828.6 L239.0,1828.3 L251.0,1827.9 L263.0,1827.6 L275.0,1827.3 L287.0,1827.1 L299.0,1826.8 L311.0,1826.6 L323.0,1826.4 L335.0,1826.3 L347.0,1826.1 L359.0,1826.0 L371.0,1825.9 L383.0,1825.9 L395.0,1825.8 L407.0,1825.8 " fill="none" stroke="#101818" stroke-opacity="0.88" stroke-width="2.4" stroke-linecap="round"/>
<path d="M23.0,1865.7 L35.0,1864.7 L47.0,1863.7 L59.0,1862.8 L67.0,1862.1 M147.0,1856.7 L159.0,1856.1 L171.0,1855.4 L183.0,1854.8 L195.0,1854.2 L207.0,1853.6 L219.0,1853.1 L231.0,1852.6 L243.0,1852.2 L255.0,1851.7 L267.0,1851.3 L279.0,1851.0 M359.0,1849.4 L371.0,1849.3 L383.0,1849.2 L395.0,1849.1 L407.0,1849.1 " fill="none" stroke="#101818" stroke-opacity="0.88" stroke-width="2.4" stroke-linecap="round"/>
<text x="74.8" y="1859.2" transform="rotate(3.8 108.0 1859.2)" class="cl" dy="9.7" style="text-anchor:start;font-size:27px;letter-spacing:0" textLength="66.5" lengthAdjust="spacingAndGlyphs">1655</text>
<text x="284.8" y="1850.0" transform="rotate(1.2 318.0 1850.0)" class="cl" dy="9.7" style="text-anchor:start;font-size:27px;letter-spacing:0" textLength="66.5" lengthAdjust="spacingAndGlyphs">1655</text>
</g>
<line x1="408.3" y1="1872.0" x2="408.3" y2="1894" stroke="#999" stroke-width="2.5"/>
<line x1="408.3" y1="168.0" x2="408.3" y2="1872.0" stroke="#55565f" stroke-width="3.2"/>
<line x1="790" y1="249" x2="790" y2="1889.0" stroke="#777" stroke-width="3"/>
<line x1="789" y1="1045" x2="789" y2="1096" stroke="#111" stroke-width="4"/>
<path d="M22.5,1889.0 L22.5,227" fill="none" stroke="#000" stroke-width="5"/>
<path d="M23.5,229 L28,194 L65,169.0" fill="none" stroke="#111" stroke-width="2.8"/>
<path d="M21,1889.0 L408.3,1872.0" fill="none" stroke="#100" stroke-width="3"/>
<path d="M408.3,1872.0 L790,1889.0" fill="none" stroke="#600" stroke-width="3"/>
<path d="M741.7,168.8 L783.7,196.3 L786.7,226.8 L788.7,249.8" fill="none" stroke="#111" stroke-width="3.2"/>
<clipPath id="clipL2"><path d="M865,1886.0 L865.0,250.0 L869.5,226.0 L872.0,193.0 L909.0,168.0 L1244,168.0 L1244,1869.0 Z"/></clipPath>
<g clip-path="url(#clipL2)">
<rect x="863" y="166.0" width="383" height="1724.0" fill="#0037ff"/>
<polygon points="865,93.4 889,89.0 912,84.8 936,81.0 960,77.4 983,74.2 1007,71.2 1031,68.4 1054,66.0 1078,63.9 1102,62.0 1126,60.5 1149,59.2 1173,58.2 1197,57.5 1220,57.0 1244,56.9 1246,1896.0 863,1896.0" fill="#0039ff"/>
<polygon points="865,126.2 889,121.8 912,117.7 936,113.8 960,110.3 983,107.0 1007,104.0 1031,101.3 1054,98.9 1078,96.7 1102,94.9 1126,93.3 1149,92.0 1173,91.0 1197,90.3 1220,89.9 1244,89.7 1246,1896.0 863,1896.0" fill="#003eff"/>
<polygon points="865,159.1 889,154.6 912,150.5 936,146.7 960,143.1 983,139.8 1007,136.8 1031,134.1 1054,131.7 1078,129.6 1102,127.7 1126,126.1 1149,124.8 1173,123.8 1197,123.1 1220,122.7 1244,122.6 1246,1896.0 863,1896.0" fill="#0044ff"/>
<polygon points="865,191.9 889,187.5 912,183.3 936,179.5 960,175.9 983,172.7 1007,169.7 1031,166.9 1054,164.5 1078,162.4 1102,160.5 1126,159.0 1149,157.7 1173,156.7 1197,156.0 1220,155.5 1244,155.4 1246,1896.0 863,1896.0" fill="#0049ff"/>
<polygon points="865,224.7 889,220.3 912,216.2 936,212.3 960,208.8 983,205.5 1007,202.5 1031,199.8 1054,197.4 1078,195.2 1102,193.4 1126,191.8 1149,190.5 1173,189.5 1197,188.8 1220,188.4 1244,188.2 1246,1896.0 863,1896.0" fill="#004eff"/>
<polygon points="865,257.6 889,253.1 912,249.0 936,245.2 960,241.6 983,238.3 1007,235.3 1031,232.6 1054,230.2 1078,228.1 1102,226.2 1126,224.6 1149,223.3 1173,222.3 1197,221.6 1220,221.2 1244,221.1 1246,1896.0 863,1896.0" fill="#0053ff"/>
<polygon points="865,290.4 889,286.0 912,281.8 936,278.0 960,274.4 983,271.2 1007,268.2 1031,265.4 1054,263.0 1078,260.9 1102,259.0 1126,257.5 1149,256.2 1173,255.2 1197,254.5 1220,254.0 1244,253.9 1246,1896.0 863,1896.0" fill="#0059ff"/>
<polygon points="865,323.3 889,318.9 912,314.8 936,311.0 960,307.4 983,304.1 1007,301.1 1031,298.4 1054,296.0 1078,293.9 1102,292.0 1126,290.5 1149,289.2 1173,288.2 1197,287.5 1220,287.1 1244,286.9 1246,1896.0 863,1896.0" fill="#005eff"/>
<polygon points="865,356.3 889,351.9 912,347.8 936,343.9 960,340.4 983,337.1 1007,334.1 1031,331.4 1054,329.0 1078,326.9 1102,325.0 1126,323.5 1149,322.2 1173,321.2 1197,320.5 1220,320.1 1244,319.9 1246,1896.0 863,1896.0" fill="#0063ff"/>
<polygon points="865,389.2 889,384.8 912,380.7 936,376.9 960,373.3 983,370.1 1007,367.1 1031,364.4 1054,362.0 1078,359.9 1102,358.0 1126,356.5 1149,355.2 1173,354.2 1197,353.5 1220,353.1 1244,352.9 1246,1896.0 863,1896.0" fill="#0069ff"/>
<polygon points="865,422.1 889,417.8 912,413.7 936,409.8 960,406.3 983,403.1 1007,400.1 1031,397.4 1054,395.0 1078,392.9 1102,391.1 1126,389.5 1149,388.2 1173,387.2 1197,386.5 1220,386.1 1244,386.0 1246,1896.0 863,1896.0" fill="#006eff"/>
<polygon points="865,455.1 889,450.7 912,446.6 936,442.8 960,439.3 983,436.0 1007,433.1 1031,430.4 1054,428.0 1078,425.9 1102,424.1 1126,422.5 1149,421.2 1173,420.3 1197,419.5 1220,419.1 1244,419.0 1246,1896.0 863,1896.0" fill="#0073ff"/>
<polygon points="865,488.0 889,483.6 912,479.6 936,475.8 960,472.2 983,469.0 1007,466.1 1031,463.4 1054,461.0 1078,458.9 1102,457.1 1126,455.5 1149,454.2 1173,453.3 1197,452.6 1220,452.1 1244,452.0 1246,1896.0 863,1896.0" fill="#0079ff"/>
<polygon points="865,515.9 889,511.4 912,507.3 936,503.4 960,499.8 983,496.5 1007,493.5 1031,490.8 1054,488.3 1078,486.2 1102,484.3 1126,482.8 1149,481.5 1173,480.5 1197,479.7 1220,479.3 1244,479.2 1246,1896.0 863,1896.0" fill="#007eff"/>
<polygon points="865,543.8 889,539.2 912,535.0 936,531.0 960,527.4 983,524.0 1007,521.0 1031,518.2 1054,515.7 1078,513.5 1102,511.6 1126,510.0 1149,508.7 1173,507.6 1197,506.9 1220,506.5 1244,506.3 1246,1896.0 863,1896.0" fill="#0083ff"/>
<polygon points="865,571.6 889,567.0 912,562.7 936,558.7 960,555.0 983,551.5 1007,548.4 1031,545.6 1054,543.0 1078,540.8 1102,538.9 1126,537.2 1149,535.9 1173,534.8 1197,534.1 1220,533.6 1244,533.5 1246,1896.0 863,1896.0" fill="#0088ff"/>
<polygon points="865,599.5 889,594.8 912,590.4 936,586.3 960,582.5 983,579.0 1007,575.8 1031,573.0 1054,570.4 1078,568.1 1102,566.1 1126,564.5 1149,563.1 1173,562.0 1197,561.3 1220,560.8 1244,560.7 1246,1896.0 863,1896.0" fill="#008dff"/>
<polygon points="865,627.4 889,622.6 912,618.1 936,614.0 960,610.1 983,606.5 1007,603.3 1031,600.4 1054,597.7 1078,595.4 1102,593.4 1126,591.7 1149,590.3 1173,589.2 1197,588.5 1220,588.0 1244,587.8 1246,1896.0 863,1896.0" fill="#0092ff"/>
<polygon points="865,655.3 889,650.4 912,645.9 936,641.6 960,637.7 983,634.0 1007,630.7 1031,627.8 1054,625.1 1078,622.7 1102,620.7 1126,618.9 1149,617.5 1173,616.4 1197,615.6 1220,615.2 1244,615.0 1246,1896.0 863,1896.0" fill="#0097ff"/>
<polygon points="865,679.8 889,674.7 912,669.9 936,665.5 960,661.4 983,657.7 1007,654.2 1031,651.1 1054,648.3 1078,645.9 1102,643.7 1126,641.9 1149,640.5 1173,639.3 1197,638.5 1220,638.0 1244,637.8 1246,1896.0 863,1896.0" fill="#009dff"/>
<polygon points="865,704.2 889,699.0 912,694.0 936,689.4 960,685.2 983,681.3 1007,677.7 1031,674.5 1054,671.6 1078,669.0 1102,666.8 1126,664.9 1149,663.4 1173,662.2 1197,661.3 1220,660.8 1244,660.7 1246,1896.0 863,1896.0" fill="#00a2ff"/>
<polygon points="865,728.7 889,723.2 912,718.1 936,713.3 960,708.9 983,704.9 1007,701.2 1031,697.8 1054,694.8 1078,692.2 1102,689.9 1126,687.9 1149,686.3 1173,685.1 1197,684.2 1220,683.7 1244,683.5 1246,1896.0 863,1896.0" fill="#00a7ff"/>
<polygon points="865,753.2 889,747.5 912,742.2 936,737.3 960,732.7 983,728.5 1007,724.6 1031,721.2 1054,718.0 1078,715.3 1102,712.9 1126,710.9 1149,709.3 1173,708.0 1197,707.1 1220,706.5 1244,706.3 1246,1896.0 863,1896.0" fill="#00adff"/>
<polygon points="865,777.6 889,771.8 912,766.3 936,761.2 960,756.4 983,752.1 1007,748.1 1031,744.5 1054,741.3 1078,738.4 1102,736.0 1126,733.9 1149,732.2 1173,730.9 1197,729.9 1220,729.4 1244,729.2 1246,1896.0 863,1896.0" fill="#00b2ff"/>
<polygon points="865,802.1 889,796.0 912,790.4 936,785.1 960,780.2 983,775.7 1007,771.6 1031,767.9 1054,764.5 1078,761.6 1102,759.0 1126,756.9 1149,755.1 1173,753.8 1197,752.8 1220,752.2 1244,752.0 1246,1896.0 863,1896.0" fill="#00b7ff"/>
<polygon points="865,822.8 889,816.4 912,810.5 936,805.0 960,800.0 983,795.3 1007,791.0 1031,787.1 1054,783.7 1078,780.6 1102,778.0 1126,775.7 1149,773.9 1173,772.5 1197,771.5 1220,770.9 1244,770.6 1246,1896.0 863,1896.0" fill="#00bcff"/>
<polygon points="865,843.4 889,836.8 912,830.7 936,825.0 960,819.7 983,814.9 1007,810.4 1031,806.4 1054,802.8 1078,799.7 1102,796.9 1126,794.6 1149,792.7 1173,791.2 1197,790.1 1220,789.5 1244,789.3 1246,1896.0 863,1896.0" fill="#00c1ff"/>
<polygon points="865,864.0 889,857.3 912,850.9 936,845.0 960,839.5 983,834.5 1007,829.9 1031,825.7 1054,822.0 1078,818.7 1102,815.8 1126,813.4 1149,811.5 1173,809.9 1197,808.8 1220,808.2 1244,808.0 1246,1896.0 863,1896.0" fill="#00c7ff"/>
<polygon points="865,884.7 889,877.7 912,871.1 936,865.0 960,859.3 983,854.1 1007,849.3 1031,845.0 1054,841.1 1078,837.7 1102,834.8 1126,832.3 1149,830.2 1173,828.6 1197,827.5 1220,826.8 1244,826.6 1246,1896.0 863,1896.0" fill="#00ccff"/>
<polygon points="865,905.4 889,898.1 912,891.3 936,884.9 960,879.1 983,873.7 1007,868.7 1031,864.3 1054,860.3 1078,856.8 1102,853.7 1126,851.1 1149,849.0 1173,847.4 1197,846.2 1220,845.5 1244,845.2 1246,1896.0 863,1896.0" fill="#00d1ff"/>
<polygon points="865,926.0 889,918.5 912,911.4 936,904.9 960,898.8 983,893.3 1007,888.2 1031,883.5 1054,879.4 1078,875.8 1102,872.6 1126,870.0 1149,867.8 1173,866.1 1197,864.9 1220,864.1 1244,863.9 1246,1896.0 863,1896.0" fill="#00d6ff"/>
<polygon points="865,942.5 889,934.9 912,927.8 936,921.2 960,915.1 983,909.5 1007,904.3 1031,899.7 1054,895.5 1078,891.9 1102,888.7 1126,886.0 1149,883.8 1173,882.1 1197,880.9 1220,880.1 1244,879.9 1246,1896.0 863,1896.0" fill="#00dbff"/>
<polygon points="865,958.9 889,951.3 912,944.1 936,937.5 960,931.3 983,925.7 1007,920.5 1031,915.8 1054,911.6 1078,908.0 1102,904.8 1126,902.1 1149,899.8 1173,898.1 1197,896.9 1220,896.1 1244,895.9 1246,1896.0 863,1896.0" fill="#00e1ff"/>
<polygon points="865,975.4 889,967.7 912,960.5 936,953.8 960,947.6 983,941.9 1007,936.7 1031,932.0 1054,927.8 1078,924.0 1102,920.8 1126,918.1 1149,915.9 1173,914.1 1197,912.9 1220,912.1 1244,911.9 1246,1896.0 863,1896.0" fill="#00e6ff"/>
<polygon points="865,991.8 889,984.1 912,976.8 936,970.1 960,963.8 983,958.1 1007,952.9 1031,948.1 1054,943.9 1078,940.1 1102,936.9 1126,934.1 1149,931.9 1173,930.1 1197,928.9 1220,928.1 1244,927.9 1246,1896.0 863,1896.0" fill="#00ebff"/>
<polygon points="865,1008.2 889,1000.5 912,993.2 936,986.4 960,980.1 983,974.3 1007,969.0 1031,964.3 1054,960.0 1078,956.2 1102,952.9 1126,950.2 1149,947.9 1173,946.2 1197,944.9 1220,944.2 1244,943.9 1246,1896.0 863,1896.0" fill="#00f1ff"/>
<polygon points="865,1024.7 889,1016.9 912,1009.5 936,1002.7 960,996.4 983,990.5 1007,985.2 1031,980.4 1054,976.1 1078,972.3 1102,969.0 1126,966.2 1149,963.9 1173,962.2 1197,960.9 1220,960.2 1244,959.9 1246,1896.0 863,1896.0" fill="#00f6ff"/>
<polygon points="865,1038.8 889,1030.8 912,1023.5 936,1016.6 960,1010.2 983,1004.3 1007,999.0 1031,994.1 1054,989.8 1078,986.0 1102,982.7 1126,979.9 1149,977.6 1173,975.8 1197,974.5 1220,973.8 1244,973.5 1246,1896.0 863,1896.0" fill="#00fbff"/>
<polygon points="865,1052.8 889,1044.8 912,1037.4 936,1030.5 960,1024.1 983,1018.2 1007,1012.8 1031,1007.9 1054,1003.5 1078,999.7 1102,996.3 1126,993.5 1149,991.2 1173,989.4 1197,988.1 1220,987.4 1244,987.1 1246,1896.0 863,1896.0" fill="#00fffd"/>
<polygon points="865,1066.8 889,1058.8 912,1051.3 936,1044.4 960,1037.9 983,1032.0 1007,1026.5 1031,1021.6 1054,1017.2 1078,1013.4 1102,1010.0 1126,1007.2 1149,1004.8 1173,1003.0 1197,1001.7 1220,1001.0 1244,1000.7 1246,1896.0 863,1896.0" fill="#00fff7"/>
<polygon points="865,1080.9 889,1072.8 912,1065.3 936,1058.3 960,1051.8 983,1045.8 1007,1040.3 1031,1035.4 1054,1031.0 1078,1027.0 1102,1023.7 1126,1020.8 1149,1018.5 1173,1016.6 1197,1015.3 1220,1014.6 1244,1014.3 1246,1896.0 863,1896.0" fill="#00fff0"/>
<polygon points="865,1095.0 889,1086.8 912,1079.2 936,1072.2 960,1065.6 983,1059.6 1007,1054.1 1031,1049.1 1054,1044.7 1078,1040.7 1102,1037.3 1126,1034.4 1149,1032.1 1173,1030.3 1197,1028.9 1220,1028.2 1244,1027.9 1246,1896.0 863,1896.0" fill="#00ffea"/>
<polygon points="865,1109.0 889,1100.8 912,1093.2 936,1086.1 960,1079.5 983,1073.4 1007,1067.9 1031,1062.9 1054,1058.4 1078,1054.4 1102,1051.0 1126,1048.1 1149,1045.7 1173,1043.9 1197,1042.6 1220,1041.8 1244,1041.5 1246,1896.0 863,1896.0" fill="#00ffe4"/>
<polygon points="865,1120.0 889,1111.9 912,1104.4 936,1097.4 960,1090.9 983,1084.9 1007,1079.5 1031,1074.6 1054,1070.1 1078,1066.2 1102,1062.9 1126,1060.0 1149,1057.7 1173,1055.9 1197,1054.6 1220,1053.8 1244,1053.5 1246,1896.0 863,1896.0" fill="#00ffde"/>
<polygon points="865,1131.0 889,1123.1 912,1115.7 936,1108.8 960,1102.4 983,1096.5 1007,1091.1 1031,1086.2 1054,1081.9 1078,1078.1 1102,1074.7 1126,1071.9 1149,1069.6 1173,1067.8 1197,1066.6 1220,1065.8 1244,1065.5 1246,1896.0 863,1896.0" fill="#00ffd7"/>
<polygon points="865,1142.0 889,1134.2 912,1126.9 936,1120.1 960,1113.8 983,1108.0 1007,1102.7 1031,1097.9 1054,1093.7 1078,1089.9 1102,1086.6 1126,1083.8 1149,1081.6 1173,1079.8 1197,1078.6 1220,1077.8 1244,1077.5 1246,1896.0 863,1896.0" fill="#00fed1"/>
<polygon points="865,1153.0 889,1145.3 912,1138.1 936,1131.4 960,1125.2 983,1119.5 1007,1114.3 1031,1109.6 1054,1105.4 1078,1101.7 1102,1098.5 1126,1095.8 1149,1093.5 1173,1091.8 1197,1090.6 1220,1089.8 1244,1089.6 1246,1896.0 863,1896.0" fill="#00fecb"/>
<polygon points="865,1164.0 889,1156.4 912,1149.4 936,1142.8 960,1136.7 983,1131.1 1007,1126.0 1031,1121.3 1054,1117.2 1078,1113.5 1102,1110.4 1126,1107.7 1149,1105.5 1173,1103.8 1197,1102.6 1220,1101.8 1244,1101.6 1246,1896.0 863,1896.0" fill="#00fec5"/>
<polygon points="865,1175.0 889,1167.6 912,1160.6 936,1154.1 960,1148.1 983,1142.6 1007,1137.6 1031,1133.0 1054,1128.9 1078,1125.4 1102,1122.2 1126,1119.6 1149,1117.4 1173,1115.8 1197,1114.6 1220,1113.8 1244,1113.6 1246,1896.0 863,1896.0" fill="#00febf"/>
<polygon points="865,1185.0 889,1177.6 912,1170.7 936,1164.2 960,1158.3 983,1152.8 1007,1147.8 1031,1143.2 1054,1139.2 1078,1135.6 1102,1132.5 1126,1129.8 1149,1127.7 1173,1126.0 1197,1124.8 1220,1124.1 1244,1123.9 1246,1896.0 863,1896.0" fill="#00feb8"/>
<polygon points="865,1195.1 889,1187.7 912,1180.8 936,1174.4 960,1168.4 983,1162.9 1007,1157.9 1031,1153.4 1054,1149.4 1078,1145.8 1102,1142.7 1126,1140.1 1149,1137.9 1173,1136.3 1197,1135.1 1220,1134.4 1244,1134.1 1246,1896.0 863,1896.0" fill="#00feb2"/>
<polygon points="865,1205.1 889,1197.7 912,1190.9 936,1184.5 960,1178.5 983,1173.1 1007,1168.1 1031,1163.6 1054,1159.6 1078,1156.0 1102,1152.9 1126,1150.3 1149,1148.2 1173,1146.5 1197,1145.3 1220,1144.6 1244,1144.4 1246,1896.0 863,1896.0" fill="#00feab"/>
<polygon points="865,1215.1 889,1207.8 912,1201.0 936,1194.6 960,1188.7 983,1183.2 1007,1178.3 1031,1173.8 1054,1169.8 1078,1166.2 1102,1163.2 1126,1160.6 1149,1158.4 1173,1156.8 1197,1155.6 1220,1154.9 1244,1154.7 1246,1896.0 863,1896.0" fill="#00fea5"/>
<polygon points="865,1225.2 889,1217.9 912,1211.0 936,1204.7 960,1198.8 983,1193.4 1007,1188.5 1031,1184.0 1054,1180.0 1078,1176.5 1102,1173.4 1126,1170.8 1149,1168.7 1173,1167.1 1197,1165.9 1220,1165.2 1244,1164.9 1246,1896.0 863,1896.0" fill="#00fe9f"/>
<polygon points="865,1235.2 889,1227.9 912,1221.1 936,1214.8 960,1209.0 983,1203.6 1007,1198.6 1031,1194.2 1054,1190.2 1078,1186.7 1102,1183.6 1126,1181.1 1149,1179.0 1173,1177.3 1197,1176.1 1220,1175.4 1244,1175.2 1246,1896.0 863,1896.0" fill="#00fe98"/>
<polygon points="865,1243.3 889,1236.1 912,1229.4 936,1223.1 960,1217.4 983,1212.0 1007,1207.2 1031,1202.8 1054,1198.9 1078,1195.4 1102,1192.4 1126,1189.8 1149,1187.8 1173,1186.1 1197,1185.0 1220,1184.3 1244,1184.1 1246,1896.0 863,1896.0" fill="#00fe92"/>
<polygon points="865,1251.3 889,1244.3 912,1237.6 936,1231.5 960,1225.8 983,1220.5 1007,1215.7 1031,1211.4 1054,1207.5 1078,1204.1 1102,1201.1 1126,1198.6 1149,1196.6 1173,1195.0 1197,1193.8 1220,1193.2 1244,1192.9 1246,1896.0 863,1896.0" fill="#00fe8c"/>
<polygon points="865,1259.4 889,1252.4 912,1245.9 936,1239.8 960,1234.2 983,1229.0 1007,1224.3 1031,1220.0 1054,1216.2 1078,1212.8 1102,1209.9 1126,1207.4 1149,1205.4 1173,1203.8 1197,1202.7 1220,1202.0 1244,1201.8 1246,1896.0 863,1896.0" fill="#00fe85"/>
<polygon points="865,1267.5 889,1260.6 912,1254.2 936,1248.2 960,1242.6 983,1237.5 1007,1232.9 1031,1228.6 1054,1224.9 1078,1221.5 1102,1218.7 1126,1216.2 1149,1214.2 1173,1212.7 1197,1211.6 1220,1210.9 1244,1210.7 1246,1896.0 863,1896.0" fill="#00fd7f"/>
<polygon points="865,1275.5 889,1268.8 912,1262.4 936,1256.5 960,1251.0 983,1246.0 1007,1241.4 1031,1237.3 1054,1233.5 1078,1230.3 1102,1227.4 1126,1225.0 1149,1223.0 1173,1221.5 1197,1220.4 1220,1219.8 1244,1219.5 1246,1896.0 863,1896.0" fill="#00fd78"/>
<polygon points="865,1283.6 889,1276.9 912,1270.7 936,1264.8 960,1259.5 983,1254.5 1007,1250.0 1031,1245.9 1054,1242.2 1078,1239.0 1102,1236.2 1126,1233.8 1149,1231.9 1173,1230.3 1197,1229.3 1220,1228.6 1244,1228.4 1246,1896.0 863,1896.0" fill="#00fd72"/>
<polygon points="865,1291.6 889,1285.0 912,1278.8 936,1273.0 960,1267.7 983,1262.8 1007,1258.3 1031,1254.2 1054,1250.6 1078,1247.4 1102,1244.6 1126,1242.3 1149,1240.4 1173,1238.9 1197,1237.8 1220,1237.1 1244,1236.9 1246,1896.0 863,1896.0" fill="#00fd6c"/>
<polygon points="865,1299.7 889,1293.1 912,1287.0 936,1281.2 960,1276.0 983,1271.1 1007,1266.6 1031,1262.6 1054,1259.0 1078,1255.8 1102,1253.1 1126,1250.8 1149,1248.9 1173,1247.4 1197,1246.3 1220,1245.7 1244,1245.5 1246,1896.0 863,1896.0" fill="#00fd66"/>
<polygon points="865,1307.7 889,1301.2 912,1295.1 936,1289.5 960,1284.2 983,1279.4 1007,1275.0 1031,1271.0 1054,1267.4 1078,1264.3 1102,1261.6 1126,1259.2 1149,1257.4 1173,1255.9 1197,1254.8 1220,1254.2 1244,1254.0 1246,1896.0 863,1896.0" fill="#00fd60"/>
<polygon points="865,1315.7 889,1309.3 912,1303.3 936,1297.7 960,1292.5 983,1287.7 1007,1283.3 1031,1279.4 1054,1275.8 1078,1272.7 1102,1270.0 1126,1267.7 1149,1265.9 1173,1264.4 1197,1263.4 1220,1262.7 1244,1262.5 1246,1896.0 863,1896.0" fill="#00fd5a"/>
<polygon points="865,1323.8 889,1317.4 912,1311.4 936,1305.9 960,1300.7 983,1296.0 1007,1291.7 1031,1287.7 1054,1284.2 1078,1281.2 1102,1278.5 1126,1276.2 1149,1274.4 1173,1272.9 1197,1271.9 1220,1271.3 1244,1271.1 1246,1896.0 863,1896.0" fill="#00fd53"/>
<polygon points="865,1331.8 889,1325.5 912,1319.6 936,1314.1 960,1309.0 983,1304.3 1007,1300.0 1031,1296.1 1054,1292.6 1078,1289.6 1102,1286.9 1126,1284.7 1149,1282.9 1173,1281.4 1197,1280.4 1220,1279.8 1244,1279.6 1246,1896.0 863,1896.0" fill="#00fd4d"/>
<polygon points="865,1338.5 889,1332.3 912,1326.5 936,1321.0 960,1316.0 983,1311.4 1007,1307.2 1031,1303.3 1054,1299.9 1078,1296.9 1102,1294.3 1126,1292.1 1149,1290.3 1173,1288.9 1197,1287.9 1220,1287.3 1244,1287.0 1246,1896.0 863,1896.0" fill="#00fd47"/>
<polygon points="865,1345.3 889,1339.1 912,1333.4 936,1328.0 960,1323.1 983,1318.5 1007,1314.3 1031,1310.6 1054,1307.2 1078,1304.2 1102,1301.6 1126,1299.5 1149,1297.7 1173,1296.3 1197,1295.3 1220,1294.7 1244,1294.5 1246,1896.0 863,1896.0" fill="#00fd40"/>
<polygon points="865,1352.0 889,1345.9 912,1340.3 936,1335.0 960,1330.1 983,1325.6 1007,1321.5 1031,1317.8 1054,1314.5 1078,1311.5 1102,1309.0 1126,1306.8 1149,1305.1 1173,1303.7 1197,1302.7 1220,1302.1 1244,1301.9 1246,1896.0 863,1896.0" fill="#00fd3a"/>
<polygon points="865,1358.7 889,1352.8 912,1347.2 936,1342.0 960,1337.1 983,1332.7 1007,1328.7 1031,1325.0 1054,1321.7 1078,1318.8 1102,1316.3 1126,1314.2 1149,1312.5 1173,1311.1 1197,1310.2 1220,1309.6 1244,1309.4 1246,1896.0 863,1896.0" fill="#00fd34"/>
<polygon points="865,1365.5 889,1359.6 912,1354.1 936,1348.9 960,1344.2 983,1339.8 1007,1335.8 1031,1332.2 1054,1329.0 1078,1326.2 1102,1323.7 1126,1321.6 1149,1319.9 1173,1318.6 1197,1317.6 1220,1317.0 1244,1316.8 1246,1896.0 863,1896.0" fill="#00fd2d"/>
<polygon points="865,1372.2 889,1366.4 912,1361.0 936,1355.9 960,1351.2 983,1346.9 1007,1343.0 1031,1339.5 1054,1336.3 1078,1333.5 1102,1331.0 1126,1329.0 1149,1327.3 1173,1326.0 1197,1325.0 1220,1324.5 1244,1324.3 1246,1896.0 863,1896.0" fill="#00fc27"/>
<polygon points="865,1378.5 889,1372.7 912,1367.4 936,1362.4 960,1357.7 983,1353.5 1007,1349.6 1031,1346.1 1054,1342.9 1078,1340.1 1102,1337.7 1126,1335.7 1149,1334.0 1173,1332.7 1197,1331.8 1220,1331.2 1244,1331.0 1246,1896.0 863,1896.0" fill="#00fc21"/>
<polygon points="865,1384.7 889,1379.0 912,1373.7 936,1368.8 960,1364.2 983,1360.0 1007,1356.1 1031,1352.6 1054,1349.5 1078,1346.8 1102,1344.4 1126,1342.4 1149,1340.7 1173,1339.5 1197,1338.5 1220,1338.0 1244,1337.8 1246,1896.0 863,1896.0" fill="#00fc1b"/>
<polygon points="865,1391.0 889,1385.4 912,1380.1 936,1375.2 960,1370.7 983,1366.5 1007,1362.7 1031,1359.2 1054,1356.2 1078,1353.4 1102,1351.1 1126,1349.1 1149,1347.5 1173,1346.2 1197,1345.3 1220,1344.7 1244,1344.5 1246,1896.0 863,1896.0" fill="#00fc15"/>
<polygon points="865,1397.3 889,1391.7 912,1386.5 936,1381.6 960,1377.2 983,1373.0 1007,1369.3 1031,1365.8 1054,1362.8 1078,1360.1 1102,1357.8 1126,1355.8 1149,1354.2 1173,1352.9 1197,1352.0 1220,1351.5 1244,1351.3 1246,1896.0 863,1896.0" fill="#00fc0e"/>
<polygon points="865,1403.5 889,1398.0 912,1392.9 936,1388.1 960,1383.6 983,1379.5 1007,1375.8 1031,1372.4 1054,1369.4 1078,1366.8 1102,1364.4 1126,1362.5 1149,1360.9 1173,1359.6 1197,1358.8 1220,1358.2 1244,1358.0 1246,1896.0 863,1896.0" fill="#00fc08"/>
<polygon points="865,1409.8 889,1404.4 912,1399.3 936,1394.5 960,1390.1 983,1386.1 1007,1382.4 1031,1379.0 1054,1376.0 1078,1373.4 1102,1371.1 1126,1369.2 1149,1367.6 1173,1366.4 1197,1365.5 1220,1365.0 1244,1364.8 1246,1896.0 863,1896.0" fill="#00fc02"/>
<polygon points="865,1415.5 889,1410.2 912,1405.1 936,1400.5 960,1396.2 983,1392.2 1007,1388.5 1031,1385.3 1054,1382.3 1078,1379.7 1102,1377.5 1126,1375.6 1149,1374.0 1173,1372.8 1197,1371.9 1220,1371.4 1244,1371.2 1246,1896.0 863,1896.0" fill="#00fc00"/>
<polygon points="865,1421.2 889,1416.0 912,1411.0 936,1406.4 960,1402.2 983,1398.3 1007,1394.7 1031,1391.5 1054,1388.6 1078,1386.0 1102,1383.8 1126,1382.0 1149,1380.4 1173,1379.2 1197,1378.4 1220,1377.9 1244,1377.7 1246,1896.0 863,1896.0" fill="#00fc00"/>
<polygon points="865,1426.9 889,1421.8 912,1416.9 936,1412.4 960,1408.2 983,1404.4 1007,1400.9 1031,1397.7 1054,1394.8 1078,1392.3 1102,1390.2 1126,1388.3 1149,1386.8 1173,1385.7 1197,1384.8 1220,1384.3 1244,1384.2 1246,1896.0 863,1896.0" fill="#00fc00"/>
<polygon points="865,1432.7 889,1427.6 912,1422.8 936,1418.4 960,1414.3 983,1410.5 1007,1407.0 1031,1403.9 1054,1401.1 1078,1398.7 1102,1396.5 1126,1394.7 1149,1393.2 1173,1392.1 1197,1391.3 1220,1390.8 1244,1390.6 1246,1896.0 863,1896.0" fill="#00fc00"/>
<polygon points="865,1438.4 889,1433.4 912,1428.7 936,1424.3 960,1420.3 983,1416.6 1007,1413.2 1031,1410.1 1054,1407.4 1078,1405.0 1102,1402.9 1126,1401.1 1149,1399.6 1173,1398.5 1197,1397.7 1220,1397.2 1244,1397.0 1246,1896.0 863,1896.0" fill="#00fc00"/>
<polygon points="865,1444.1 889,1439.2 912,1434.6 936,1430.3 960,1426.3 983,1422.7 1007,1419.4 1031,1416.3 1054,1413.7 1078,1411.3 1102,1409.2 1126,1407.5 1149,1406.0 1173,1404.9 1197,1404.1 1220,1403.7 1244,1403.5 1246,1896.0 863,1896.0" fill="#00fc00"/>
<polygon points="865,1449.6 889,1444.8 912,1440.3 936,1436.1 960,1432.2 983,1428.6 1007,1425.4 1031,1422.4 1054,1419.8 1078,1417.5 1102,1415.4 1126,1413.7 1149,1412.3 1173,1411.3 1197,1410.5 1220,1410.0 1244,1409.9 1246,1896.0 863,1896.0" fill="#00fb00"/>
<polygon points="865,1455.0 889,1450.3 912,1445.9 936,1441.8 960,1438.1 983,1434.6 1007,1431.4 1031,1428.5 1054,1425.9 1078,1423.7 1102,1421.7 1126,1420.0 1149,1418.7 1173,1417.6 1197,1416.8 1220,1416.4 1244,1416.2 1246,1896.0 863,1896.0" fill="#00fb00"/>
<polygon points="865,1460.5 889,1455.9 912,1451.6 936,1447.6 960,1443.9 983,1440.5 1007,1437.4 1031,1434.6 1054,1432.1 1078,1429.9 1102,1427.9 1126,1426.3 1149,1425.0 1173,1423.9 1197,1423.2 1220,1422.7 1244,1422.6 1246,1896.0 863,1896.0" fill="#00fb00"/>
<polygon points="865,1466.0 889,1461.5 912,1457.3 936,1453.4 960,1449.8 983,1446.5 1007,1443.4 1031,1440.7 1054,1438.2 1078,1436.0 1102,1434.2 1126,1432.6 1149,1431.3 1173,1430.3 1197,1429.5 1220,1429.1 1244,1429.0 1246,1896.0 863,1896.0" fill="#00fb00"/>
<polygon points="865,1471.4 889,1467.1 912,1463.0 936,1459.2 960,1455.6 983,1452.4 1007,1449.4 1031,1446.8 1054,1444.4 1078,1442.2 1102,1440.4 1126,1438.9 1149,1437.6 1173,1436.6 1197,1435.9 1220,1435.5 1244,1435.3 1246,1896.0 863,1896.0" fill="#00fb00"/>
<polygon points="865,1476.9 889,1472.6 912,1468.7 936,1464.9 960,1461.5 983,1458.3 1007,1455.5 1031,1452.8 1054,1450.5 1078,1448.4 1102,1446.7 1126,1445.1 1149,1443.9 1173,1442.9 1197,1442.2 1220,1441.8 1244,1441.7 1246,1896.0 863,1896.0" fill="#00fb00"/>
<polygon points="865,1481.9 889,1477.7 912,1473.8 936,1470.2 960,1466.8 983,1463.7 1007,1460.9 1031,1458.3 1054,1456.1 1078,1454.0 1102,1452.3 1126,1450.8 1149,1449.6 1173,1448.7 1197,1448.0 1220,1447.6 1244,1447.5 1246,1896.0 863,1896.0" fill="#00fb00"/>
<polygon points="865,1486.8 889,1482.8 912,1479.0 936,1475.4 960,1472.1 983,1469.1 1007,1466.3 1031,1463.8 1054,1461.6 1078,1459.6 1102,1457.9 1126,1456.5 1149,1455.3 1173,1454.4 1197,1453.7 1220,1453.3 1244,1453.2 1246,1896.0 863,1896.0" fill="#00fb00"/>
<polygon points="865,1491.8 889,1487.8 912,1484.1 936,1480.6 960,1477.4 983,1474.5 1007,1471.8 1031,1469.3 1054,1467.2 1078,1465.2 1102,1463.6 1126,1462.2 1149,1461.0 1173,1460.1 1197,1459.5 1220,1459.1 1244,1459.0 1246,1896.0 863,1896.0" fill="#00fb00"/>
<polygon points="865,1496.8 889,1492.9 912,1489.3 936,1485.9 960,1482.7 983,1479.9 1007,1477.2 1031,1474.8 1054,1472.7 1078,1470.8 1102,1469.2 1126,1467.8 1149,1466.7 1173,1465.8 1197,1465.2 1220,1464.8 1244,1464.7 1246,1896.0 863,1896.0" fill="#00fb00"/>
<polygon points="865,1501.7 889,1497.9 912,1494.4 936,1491.1 960,1488.0 983,1485.2 1007,1482.7 1031,1480.3 1054,1478.3 1078,1476.4 1102,1474.8 1126,1473.5 1149,1472.4 1173,1471.5 1197,1470.9 1220,1470.6 1244,1470.5 1246,1896.0 863,1896.0" fill="#00fb00"/>
<polygon points="865,1506.7 889,1503.0 912,1499.6 936,1496.3 960,1493.4 983,1490.6 1007,1488.1 1031,1485.9 1054,1483.8 1078,1482.0 1102,1480.5 1126,1479.2 1149,1478.1 1173,1477.3 1197,1476.7 1220,1476.3 1244,1476.2 1246,1896.0 863,1896.0" fill="#00fb00"/>
<polygon points="865,1512.1 889,1508.5 912,1505.1 936,1502.0 960,1499.0 983,1496.4 1007,1493.9 1031,1491.7 1054,1489.7 1078,1487.9 1102,1486.4 1126,1485.1 1149,1484.1 1173,1483.3 1197,1482.7 1220,1482.3 1244,1482.2 1246,1896.0 863,1896.0" fill="#00fb00"/>
<polygon points="865,1517.6 889,1514.0 912,1510.7 936,1507.6 960,1504.7 983,1502.1 1007,1499.7 1031,1497.5 1054,1495.6 1078,1493.8 1102,1492.4 1126,1491.1 1149,1490.1 1173,1489.3 1197,1488.7 1220,1488.3 1244,1488.2 1246,1896.0 863,1896.0" fill="#00fb00"/>
<polygon points="865,1523.0 889,1519.5 912,1516.3 936,1513.2 960,1510.4 983,1507.8 1007,1505.5 1031,1503.3 1054,1501.4 1078,1499.8 1102,1498.3 1126,1497.1 1149,1496.0 1173,1495.3 1197,1494.7 1220,1494.4 1244,1494.2 1246,1896.0 863,1896.0" fill="#00fa00"/>
<polygon points="865,1528.4 889,1525.0 912,1521.8 936,1518.9 960,1516.1 983,1513.6 1007,1511.3 1031,1509.2 1054,1507.3 1078,1505.7 1102,1504.2 1126,1503.0 1149,1502.0 1173,1501.3 1197,1500.7 1220,1500.4 1244,1500.3 1246,1896.0 863,1896.0" fill="#00fa00"/>
<polygon points="865,1533.9 889,1530.5 912,1527.4 936,1524.5 960,1521.8 983,1519.3 1007,1517.1 1031,1515.0 1054,1513.2 1078,1511.6 1102,1510.2 1126,1509.0 1149,1508.0 1173,1507.3 1197,1506.7 1220,1506.4 1244,1506.3 1246,1896.0 863,1896.0" fill="#00fa00"/>
<polygon points="865,1539.3 889,1536.0 912,1533.0 936,1530.1 960,1527.5 983,1525.1 1007,1522.8 1031,1520.8 1054,1519.0 1078,1517.5 1102,1516.1 1126,1514.9 1149,1514.0 1173,1513.2 1197,1512.7 1220,1512.4 1244,1512.3 1246,1896.0 863,1896.0" fill="#00fa00"/>
<polygon points="865,1543.3 889,1540.2 912,1537.3 936,1534.6 960,1532.1 983,1529.9 1007,1527.8 1031,1525.9 1054,1524.2 1078,1522.7 1102,1521.4 1126,1520.3 1149,1519.4 1173,1518.7 1197,1518.2 1220,1517.9 1244,1517.8 1246,1896.0 863,1896.0" fill="#00fa00"/>
<polygon points="865,1547.3 889,1544.4 912,1541.7 936,1539.2 960,1536.8 983,1534.6 1007,1532.7 1031,1530.9 1054,1529.3 1078,1527.9 1102,1526.7 1126,1525.6 1149,1524.8 1173,1524.1 1197,1523.6 1220,1523.4 1244,1523.3 1246,1896.0 863,1896.0" fill="#00fa00"/>
<polygon points="865,1551.3 889,1548.6 912,1546.1 936,1543.7 960,1541.5 983,1539.4 1007,1537.6 1031,1535.9 1054,1534.4 1078,1533.1 1102,1531.9 1126,1531.0 1149,1530.2 1173,1529.5 1197,1529.1 1220,1528.8 1244,1528.8 1246,1896.0 863,1896.0" fill="#00fa00"/>
<polygon points="865,1555.4 889,1552.8 912,1550.4 936,1548.2 960,1546.1 983,1544.2 1007,1542.5 1031,1540.9 1054,1539.5 1078,1538.3 1102,1537.2 1126,1536.3 1149,1535.6 1173,1535.0 1197,1534.6 1220,1534.3 1244,1534.2 1246,1896.0 863,1896.0" fill="#0afa00"/>
<polygon points="865,1559.4 889,1557.0 912,1554.8 936,1552.7 960,1550.8 983,1549.0 1007,1547.4 1031,1545.9 1054,1544.6 1078,1543.5 1102,1542.5 1126,1541.6 1149,1540.9 1173,1540.4 1197,1540.0 1220,1539.8 1244,1539.7 1246,1896.0 863,1896.0" fill="#16fa00"/>
<polygon points="865,1563.4 889,1561.2 912,1559.1 936,1557.2 960,1555.4 983,1553.8 1007,1552.3 1031,1551.0 1054,1549.8 1078,1548.7 1102,1547.8 1126,1547.0 1149,1546.3 1173,1545.8 1197,1545.5 1220,1545.3 1244,1545.2 1246,1896.0 863,1896.0" fill="#21fb00"/>
<polygon points="865,1567.9 889,1565.8 912,1563.8 936,1562.0 960,1560.3 983,1558.7 1007,1557.3 1031,1556.0 1054,1554.9 1078,1553.8 1102,1553.0 1126,1552.2 1149,1551.6 1173,1551.1 1197,1550.8 1220,1550.6 1244,1550.5 1246,1896.0 863,1896.0" fill="#2cfb00"/>
<polygon points="865,1572.4 889,1570.4 912,1568.5 936,1566.8 960,1565.2 983,1563.7 1007,1562.3 1031,1561.1 1054,1560.0 1078,1559.0 1102,1558.2 1126,1557.5 1149,1556.9 1173,1556.4 1197,1556.1 1220,1555.9 1244,1555.8 1246,1896.0 863,1896.0" fill="#37fb00"/>
<polygon points="865,1577.0 889,1575.0 912,1573.2 936,1571.6 960,1570.0 983,1568.6 1007,1567.3 1031,1566.1 1054,1565.1 1078,1564.2 1102,1563.4 1126,1562.7 1149,1562.1 1173,1561.7 1197,1561.4 1220,1561.2 1244,1561.2 1246,1896.0 863,1896.0" fill="#42fb00"/>
<polygon points="865,1581.5 889,1579.7 912,1578.0 936,1576.4 960,1574.9 983,1573.6 1007,1572.3 1031,1571.2 1054,1570.2 1078,1569.3 1102,1568.6 1126,1567.9 1149,1567.4 1173,1567.0 1197,1566.7 1220,1566.5 1244,1566.5 1246,1896.0 863,1896.0" fill="#4dfc00"/>
<polygon points="865,1586.0 889,1584.3 912,1582.7 936,1581.2 960,1579.8 983,1578.5 1007,1577.3 1031,1576.3 1054,1575.3 1078,1574.5 1102,1573.8 1126,1573.2 1149,1572.7 1173,1572.3 1197,1572.0 1220,1571.8 1244,1571.8 1246,1896.0 863,1896.0" fill="#58fc00"/>
<polygon points="865,1590.5 889,1588.9 912,1587.4 936,1585.9 960,1584.6 983,1583.4 1007,1582.3 1031,1581.3 1054,1580.4 1078,1579.7 1102,1579.0 1126,1578.4 1149,1577.9 1173,1577.6 1197,1577.3 1220,1577.2 1244,1577.1 1246,1896.0 863,1896.0" fill="#64fc00"/>
<polygon points="865,1595.1 889,1593.5 912,1592.0 936,1590.7 960,1589.4 983,1588.2 1007,1587.1 1031,1586.2 1054,1585.3 1078,1584.5 1102,1583.9 1126,1583.3 1149,1582.9 1173,1582.5 1197,1582.3 1220,1582.1 1244,1582.0 1246,1896.0 863,1896.0" fill="#6ffc00"/>
<polygon points="865,1599.7 889,1598.1 912,1596.7 936,1595.4 960,1594.1 983,1593.0 1007,1591.9 1031,1591.0 1054,1590.2 1078,1589.4 1102,1588.8 1126,1588.2 1149,1587.8 1173,1587.4 1197,1587.2 1220,1587.0 1244,1587.0 1246,1896.0 863,1896.0" fill="#7bfd00"/>
<polygon points="865,1604.2 889,1602.8 912,1601.4 936,1600.1 960,1598.9 983,1597.8 1007,1596.8 1031,1595.8 1054,1595.0 1078,1594.3 1102,1593.7 1126,1593.2 1149,1592.7 1173,1592.4 1197,1592.1 1220,1592.0 1244,1591.9 1246,1896.0 863,1896.0" fill="#86fd00"/>
<polygon points="865,1608.8 889,1607.4 912,1606.0 936,1604.8 960,1603.6 983,1602.5 1007,1601.6 1031,1600.7 1054,1599.9 1078,1599.2 1102,1598.6 1126,1598.1 1149,1597.6 1173,1597.3 1197,1597.1 1220,1596.9 1244,1596.9 1246,1896.0 863,1896.0" fill="#92fd00"/>
<polygon points="865,1613.4 889,1612.0 912,1610.7 936,1609.5 960,1608.4 983,1607.3 1007,1606.4 1031,1605.5 1054,1604.7 1078,1604.1 1102,1603.5 1126,1603.0 1149,1602.6 1173,1602.3 1197,1602.0 1220,1601.9 1244,1601.8 1246,1896.0 863,1896.0" fill="#9dfd00"/>
<polygon points="865,1618.0 889,1616.6 912,1615.4 936,1614.2 960,1613.1 983,1612.1 1007,1611.2 1031,1610.3 1054,1609.6 1078,1608.9 1102,1608.4 1126,1607.9 1149,1607.5 1173,1607.2 1197,1607.0 1220,1606.8 1244,1606.8 1246,1896.0 863,1896.0" fill="#a8fe00"/>
<polygon points="865,1622.0 889,1620.7 912,1619.5 936,1618.5 960,1617.5 983,1616.5 1007,1615.7 1031,1614.9 1054,1614.3 1078,1613.7 1102,1613.1 1126,1612.7 1149,1612.3 1173,1612.1 1197,1611.9 1220,1611.7 1244,1611.7 1246,1896.0 863,1896.0" fill="#b3fe00"/>
<polygon points="865,1625.9 889,1624.8 912,1623.7 936,1622.7 960,1621.8 983,1621.0 1007,1620.2 1031,1619.5 1054,1618.9 1078,1618.4 1102,1617.9 1126,1617.5 1149,1617.2 1173,1616.9 1197,1616.7 1220,1616.6 1244,1616.6 1246,1896.0 863,1896.0" fill="#befe00"/>
<polygon points="865,1629.8 889,1628.8 912,1627.9 936,1627.0 960,1626.2 983,1625.4 1007,1624.8 1031,1624.1 1054,1623.6 1078,1623.1 1102,1622.7 1126,1622.3 1149,1622.0 1173,1621.8 1197,1621.6 1220,1621.5 1244,1621.5 1246,1896.0 863,1896.0" fill="#c5fe00"/>
<polygon points="865,1633.8 889,1632.9 912,1632.1 936,1631.3 960,1630.6 983,1629.9 1007,1629.3 1031,1628.7 1054,1628.2 1078,1627.8 1102,1627.4 1126,1627.1 1149,1626.9 1173,1626.7 1197,1626.5 1220,1626.4 1244,1626.4 1246,1896.0 863,1896.0" fill="#cdfe00"/>
<polygon points="865,1637.8 889,1637.0 912,1636.2 936,1635.6 960,1634.9 983,1634.3 1007,1633.8 1031,1633.3 1054,1632.9 1078,1632.5 1102,1632.2 1126,1631.9 1149,1631.7 1173,1631.5 1197,1631.4 1220,1631.3 1244,1631.3 1246,1896.0 863,1896.0" fill="#d5fe00"/>
<polygon points="865,1641.7 889,1641.0 912,1640.4 936,1639.8 960,1639.3 983,1638.8 1007,1638.3 1031,1637.9 1054,1637.6 1078,1637.3 1102,1637.0 1126,1636.7 1149,1636.5 1173,1636.4 1197,1636.3 1220,1636.2 1244,1636.2 1246,1896.0 863,1896.0" fill="#ddfe00"/>
<polygon points="865,1646.5 889,1645.9 912,1645.2 936,1644.7 960,1644.1 983,1643.6 1007,1643.1 1031,1642.7 1054,1642.4 1078,1642.0 1102,1641.8 1126,1641.5 1149,1641.3 1173,1641.2 1197,1641.1 1220,1641.0 1244,1641.0 1246,1896.0 863,1896.0" fill="#e5ff00"/>
<polygon points="865,1651.4 889,1650.7 912,1650.1 936,1649.5 960,1648.9 983,1648.4 1007,1647.9 1031,1647.5 1054,1647.2 1078,1646.8 1102,1646.5 1126,1646.3 1149,1646.1 1173,1645.9 1197,1645.8 1220,1645.8 1244,1645.7 1246,1896.0 863,1896.0" fill="#edff00"/>
<polygon points="865,1656.2 889,1655.6 912,1654.9 936,1654.3 960,1653.7 983,1653.2 1007,1652.7 1031,1652.3 1054,1651.9 1078,1651.6 1102,1651.3 1126,1651.1 1149,1650.9 1173,1650.7 1197,1650.6 1220,1650.5 1244,1650.5 1246,1896.0 863,1896.0" fill="#f5ff00"/>
<polygon points="865,1661.1 889,1660.4 912,1659.7 936,1659.1 960,1658.5 983,1658.0 1007,1657.5 1031,1657.1 1054,1656.7 1078,1656.4 1102,1656.1 1126,1655.8 1149,1655.6 1173,1655.5 1197,1655.4 1220,1655.3 1244,1655.3 1246,1896.0 863,1896.0" fill="#fdff00"/>
<polygon points="865,1666.0 889,1665.2 912,1664.6 936,1663.9 960,1663.4 983,1662.8 1007,1662.3 1031,1661.9 1054,1661.5 1078,1661.2 1102,1660.9 1126,1660.6 1149,1660.4 1173,1660.2 1197,1660.1 1220,1660.1 1244,1660.0 1246,1896.0 863,1896.0" fill="#fffb00"/>
<polygon points="865,1670.8 889,1670.1 912,1669.4 936,1668.8 960,1668.2 983,1667.6 1007,1667.1 1031,1666.7 1054,1666.3 1078,1665.9 1102,1665.6 1126,1665.4 1149,1665.2 1173,1665.0 1197,1664.9 1220,1664.8 1244,1664.8 1246,1896.0 863,1896.0" fill="#fff600"/>
<polygon points="865,1675.1 889,1674.4 912,1673.7 936,1673.1 960,1672.5 983,1672.0 1007,1671.5 1031,1671.1 1054,1670.7 1078,1670.4 1102,1670.1 1126,1669.8 1149,1669.6 1173,1669.5 1197,1669.3 1220,1669.3 1244,1669.2 1246,1896.0 863,1896.0" fill="#fff100"/>
<polygon points="865,1679.4 889,1678.7 912,1678.1 936,1677.5 960,1676.9 983,1676.4 1007,1675.9 1031,1675.5 1054,1675.1 1078,1674.8 1102,1674.5 1126,1674.3 1149,1674.1 1173,1673.9 1197,1673.8 1220,1673.7 1244,1673.7 1246,1896.0 863,1896.0" fill="#ffec00"/>
<polygon points="865,1683.8 889,1683.1 912,1682.4 936,1681.8 960,1681.3 983,1680.8 1007,1680.3 1031,1679.9 1054,1679.6 1078,1679.2 1102,1678.9 1126,1678.7 1149,1678.5 1173,1678.3 1197,1678.2 1220,1678.2 1244,1678.2 1246,1896.0 863,1896.0" fill="#ffe700"/>
<polygon points="865,1688.1 889,1687.4 912,1686.8 936,1686.2 960,1685.7 983,1685.2 1007,1684.7 1031,1684.3 1054,1684.0 1078,1683.6 1102,1683.4 1126,1683.1 1149,1682.9 1173,1682.8 1197,1682.7 1220,1682.6 1244,1682.6 1246,1896.0 863,1896.0" fill="#ffe200"/>
<polygon points="865,1692.4 889,1691.7 912,1691.1 936,1690.6 960,1690.0 983,1689.6 1007,1689.1 1031,1688.7 1054,1688.4 1078,1688.1 1102,1687.8 1126,1687.6 1149,1687.4 1173,1687.2 1197,1687.1 1220,1687.1 1244,1687.0 1246,1896.0 863,1896.0" fill="#ffdd00"/>
<polygon points="865,1696.7 889,1696.1 912,1695.5 936,1694.9 960,1694.4 983,1694.0 1007,1693.5 1031,1693.1 1054,1692.8 1078,1692.5 1102,1692.2 1126,1692.0 1149,1691.8 1173,1691.7 1197,1691.6 1220,1691.5 1244,1691.5 1246,1896.0 863,1896.0" fill="#ffd700"/>
<polygon points="865,1701.5 889,1700.8 912,1700.2 936,1699.6 960,1699.1 983,1698.6 1007,1698.2 1031,1697.8 1054,1697.4 1078,1697.1 1102,1696.9 1126,1696.6 1149,1696.4 1173,1696.3 1197,1696.2 1220,1696.1 1244,1696.1 1246,1896.0 863,1896.0" fill="#ffd300"/>
<polygon points="865,1706.2 889,1705.5 912,1704.9 936,1704.3 960,1703.8 983,1703.3 1007,1702.8 1031,1702.4 1054,1702.1 1078,1701.8 1102,1701.5 1126,1701.2 1149,1701.0 1173,1700.9 1197,1700.8 1220,1700.7 1244,1700.7 1246,1896.0 863,1896.0" fill="#ffce00"/>
<polygon points="865,1711.0 889,1710.3 912,1709.6 936,1709.0 960,1708.5 983,1708.0 1007,1707.5 1031,1707.1 1054,1706.7 1078,1706.4 1102,1706.1 1126,1705.9 1149,1705.7 1173,1705.5 1197,1705.4 1220,1705.3 1244,1705.3 1246,1896.0 863,1896.0" fill="#ffc900"/>
<polygon points="865,1715.7 889,1715.0 912,1714.3 936,1713.7 960,1713.2 983,1712.6 1007,1712.2 1031,1711.7 1054,1711.3 1078,1711.0 1102,1710.7 1126,1710.5 1149,1710.3 1173,1710.1 1197,1710.0 1220,1709.9 1244,1709.9 1246,1896.0 863,1896.0" fill="#ffc400"/>
<polygon points="865,1720.5 889,1719.7 912,1719.1 936,1718.4 960,1717.8 983,1717.3 1007,1716.8 1031,1716.4 1054,1716.0 1078,1715.6 1102,1715.3 1126,1715.1 1149,1714.9 1173,1714.7 1197,1714.6 1220,1714.5 1244,1714.5 1246,1896.0 863,1896.0" fill="#ffbf00"/>
<polygon points="865,1725.2 889,1724.5 912,1723.8 936,1723.1 960,1722.5 983,1722.0 1007,1721.5 1031,1721.0 1054,1720.6 1078,1720.3 1102,1720.0 1126,1719.7 1149,1719.5 1173,1719.3 1197,1719.2 1220,1719.1 1244,1719.1 1246,1896.0 863,1896.0" fill="#ffba00"/>
<polygon points="865,1730.0 889,1729.2 912,1728.5 936,1727.9 960,1727.3 983,1726.7 1007,1726.2 1031,1725.8 1054,1725.3 1078,1725.0 1102,1724.7 1126,1724.4 1149,1724.2 1173,1724.0 1197,1723.9 1220,1723.8 1244,1723.8 1246,1896.0 863,1896.0" fill="#ffb400"/>
<polygon points="865,1734.7 889,1734.0 912,1733.3 936,1732.6 960,1732.0 983,1731.4 1007,1730.9 1031,1730.5 1054,1730.1 1078,1729.7 1102,1729.4 1126,1729.1 1149,1728.9 1173,1728.7 1197,1728.6 1220,1728.5 1244,1728.5 1246,1896.0 863,1896.0" fill="#ffaf00"/>
<polygon points="865,1739.5 889,1738.7 912,1738.0 936,1737.4 960,1736.7 983,1736.2 1007,1735.7 1031,1735.2 1054,1734.8 1078,1734.4 1102,1734.1 1126,1733.8 1149,1733.6 1173,1733.4 1197,1733.3 1220,1733.2 1244,1733.2 1246,1896.0 863,1896.0" fill="#ffaa00"/>
<polygon points="865,1744.3 889,1743.5 912,1742.8 936,1742.1 960,1741.5 983,1740.9 1007,1740.4 1031,1739.9 1054,1739.5 1078,1739.1 1102,1738.8 1126,1738.5 1149,1738.3 1173,1738.1 1197,1738.0 1220,1737.9 1244,1737.9 1246,1896.0 863,1896.0" fill="#ffa500"/>
<polygon points="865,1749.0 889,1748.3 912,1747.5 936,1746.8 960,1746.2 983,1745.6 1007,1745.1 1031,1744.6 1054,1744.2 1078,1743.8 1102,1743.5 1126,1743.2 1149,1743.0 1173,1742.8 1197,1742.7 1220,1742.6 1244,1742.6 1246,1896.0 863,1896.0" fill="#ffa000"/>
<polygon points="865,1753.8 889,1753.0 912,1752.3 936,1751.6 960,1751.0 983,1750.4 1007,1749.8 1031,1749.4 1054,1748.9 1078,1748.5 1102,1748.2 1126,1747.9 1149,1747.7 1173,1747.5 1197,1747.4 1220,1747.3 1244,1747.3 1246,1896.0 863,1896.0" fill="#ff9b00"/>
<polygon points="865,1757.9 889,1757.1 912,1756.4 936,1755.7 960,1755.1 983,1754.5 1007,1754.0 1031,1753.5 1054,1753.1 1078,1752.7 1102,1752.4 1126,1752.1 1149,1751.9 1173,1751.7 1197,1751.6 1220,1751.5 1244,1751.5 1246,1896.0 863,1896.0" fill="#ff9600"/>
<polygon points="865,1761.9 889,1761.2 912,1760.5 936,1759.8 960,1759.2 983,1758.6 1007,1758.1 1031,1757.6 1054,1757.2 1078,1756.8 1102,1756.5 1126,1756.2 1149,1756.0 1173,1755.9 1197,1755.7 1220,1755.7 1244,1755.6 1246,1896.0 863,1896.0" fill="#ff9000"/>
<polygon points="865,1766.0 889,1765.2 912,1764.5 936,1763.9 960,1763.3 983,1762.7 1007,1762.2 1031,1761.8 1054,1761.3 1078,1761.0 1102,1760.7 1126,1760.4 1149,1760.2 1173,1760.0 1197,1759.9 1220,1759.8 1244,1759.8 1246,1896.0 863,1896.0" fill="#ff8b00"/>
<polygon points="865,1770.1 889,1769.3 912,1768.6 936,1768.0 960,1767.4 983,1766.8 1007,1766.3 1031,1765.9 1054,1765.5 1078,1765.1 1102,1764.8 1126,1764.6 1149,1764.3 1173,1764.2 1197,1764.1 1220,1764.0 1244,1764.0 1246,1896.0 863,1896.0" fill="#ff8600"/>
<polygon points="865,1774.1 889,1773.4 912,1772.7 936,1772.1 960,1771.5 983,1771.0 1007,1770.5 1031,1770.0 1054,1769.6 1078,1769.3 1102,1769.0 1126,1768.7 1149,1768.5 1173,1768.3 1197,1768.2 1220,1768.2 1244,1768.1 1246,1896.0 863,1896.0" fill="#ff8100"/>
<polygon points="865,1778.2 889,1777.5 912,1776.8 936,1776.2 960,1775.6 983,1775.1 1007,1774.6 1031,1774.2 1054,1773.8 1078,1773.4 1102,1773.1 1126,1772.9 1149,1772.7 1173,1772.5 1197,1772.4 1220,1772.3 1244,1772.3 1246,1896.0 863,1896.0" fill="#ff7c00"/>
<polygon points="865,1783.3 889,1782.6 912,1781.8 936,1781.1 960,1780.5 983,1779.9 1007,1779.4 1031,1778.9 1054,1778.4 1078,1778.1 1102,1777.7 1126,1777.4 1149,1777.2 1173,1777.0 1197,1776.9 1220,1776.8 1244,1776.8 1246,1896.0 863,1896.0" fill="#ff7700"/>
<polygon points="865,1788.5 889,1787.6 912,1786.8 936,1786.1 960,1785.3 983,1784.7 1007,1784.1 1031,1783.6 1054,1783.1 1078,1782.7 1102,1782.3 1126,1782.0 1149,1781.8 1173,1781.6 1197,1781.4 1220,1781.3 1244,1781.3 1246,1896.0 863,1896.0" fill="#ff7200"/>
<polygon points="865,1793.7 889,1792.7 912,1791.8 936,1791.0 960,1790.2 983,1789.5 1007,1788.9 1031,1788.3 1054,1787.8 1078,1787.3 1102,1786.9 1126,1786.6 1149,1786.3 1173,1786.1 1197,1785.9 1220,1785.8 1244,1785.8 1246,1896.0 863,1896.0" fill="#ff6d00"/>
<polygon points="865,1798.8 889,1797.8 912,1796.8 936,1795.9 960,1795.1 983,1794.3 1007,1793.6 1031,1793.0 1054,1792.4 1078,1791.9 1102,1791.5 1126,1791.1 1149,1790.8 1173,1790.6 1197,1790.4 1220,1790.3 1244,1790.3 1246,1896.0 863,1896.0" fill="#ff6800"/>
<polygon points="865,1803.9 889,1802.8 912,1801.8 936,1800.8 960,1799.9 983,1799.1 1007,1798.4 1031,1797.7 1054,1797.1 1078,1796.6 1102,1796.1 1126,1795.7 1149,1795.4 1173,1795.1 1197,1794.9 1220,1794.8 1244,1794.8 1246,1896.0 863,1896.0" fill="#ff6300"/>
<polygon points="865,1809.1 889,1807.9 912,1806.8 936,1805.8 960,1804.8 983,1803.9 1007,1803.1 1031,1802.4 1054,1801.8 1078,1801.2 1102,1800.7 1126,1800.3 1149,1799.9 1173,1799.6 1197,1799.5 1220,1799.3 1244,1799.3 1246,1896.0 863,1896.0" fill="#ff5e00"/>
<polygon points="865,1813.6 889,1812.3 912,1811.1 936,1810.0 960,1809.0 983,1808.0 1007,1807.2 1031,1806.4 1054,1805.7 1078,1805.1 1102,1804.5 1126,1804.1 1149,1803.7 1173,1803.4 1197,1803.2 1220,1803.1 1244,1803.0 1246,1896.0 863,1896.0" fill="#ff5900"/>
<polygon points="865,1818.2 889,1816.8 912,1815.5 936,1814.3 960,1813.2 983,1812.2 1007,1811.2 1031,1810.4 1054,1809.6 1078,1808.9 1102,1808.4 1126,1807.9 1149,1807.5 1173,1807.2 1197,1806.9 1220,1806.8 1244,1806.8 1246,1896.0 863,1896.0" fill="#ff5400"/>
<polygon points="865,1822.7 889,1821.2 912,1819.8 936,1818.6 960,1817.4 983,1816.3 1007,1815.3 1031,1814.4 1054,1813.5 1078,1812.8 1102,1812.2 1126,1811.7 1149,1811.3 1173,1810.9 1197,1810.7 1220,1810.5 1244,1810.5 1246,1896.0 863,1896.0" fill="#ff4f00"/>
<polygon points="865,1827.2 889,1825.7 912,1824.2 936,1822.8 960,1821.5 983,1820.4 1007,1819.3 1031,1818.3 1054,1817.5 1078,1816.7 1102,1816.1 1126,1815.5 1149,1815.0 1173,1814.7 1197,1814.4 1220,1814.3 1244,1814.2 1246,1896.0 863,1896.0" fill="#ff4a00"/>
<polygon points="865,1831.8 889,1830.1 912,1828.5 936,1827.1 960,1825.7 983,1824.5 1007,1823.4 1031,1822.3 1054,1821.4 1078,1820.6 1102,1819.9 1126,1819.3 1149,1818.8 1173,1818.5 1197,1818.2 1220,1818.0 1244,1818.0 1246,1896.0 863,1896.0" fill="#ff4400"/>
<polygon points="865,1836.3 889,1834.5 912,1832.9 936,1831.3 960,1829.9 983,1828.6 1007,1827.4 1031,1826.3 1054,1825.3 1078,1824.5 1102,1823.8 1126,1823.1 1149,1822.6 1173,1822.2 1197,1821.9 1220,1821.8 1244,1821.7 1246,1896.0 863,1896.0" fill="#ff3f00"/>
<polygon points="865,1840.7 889,1838.8 912,1837.1 936,1835.5 960,1834.0 983,1832.7 1007,1831.4 1031,1830.3 1054,1829.3 1078,1828.4 1102,1827.6 1126,1826.9 1149,1826.4 1173,1826.0 1197,1825.7 1220,1825.5 1244,1825.5 1246,1896.0 863,1896.0" fill="#ff3a00"/>
<polygon points="865,1845.1 889,1843.1 912,1841.3 936,1839.7 960,1838.1 983,1836.7 1007,1835.4 1031,1834.2 1054,1833.2 1078,1832.2 1102,1831.4 1126,1830.7 1149,1830.2 1173,1829.8 1197,1829.4 1220,1829.3 1244,1829.2 1246,1896.0 863,1896.0" fill="#ff3500"/>
<polygon points="865,1849.4 889,1847.5 912,1845.6 936,1843.8 960,1842.2 983,1840.7 1007,1839.4 1031,1838.2 1054,1837.1 1078,1836.1 1102,1835.3 1126,1834.6 1149,1834.0 1173,1833.5 1197,1833.2 1220,1833.0 1244,1833.0 1246,1896.0 863,1896.0" fill="#ff3000"/>
<polygon points="865,1853.8 889,1851.8 912,1849.8 936,1848.0 960,1846.3 983,1844.8 1007,1843.4 1031,1842.1 1054,1841.0 1078,1840.0 1102,1839.1 1126,1838.4 1149,1837.8 1173,1837.3 1197,1837.0 1220,1836.8 1244,1836.7 1246,1896.0 863,1896.0" fill="#ff2b00"/>
<polygon points="865,1858.2 889,1856.1 912,1854.1 936,1852.2 960,1850.4 983,1848.8 1007,1847.4 1031,1846.1 1054,1844.9 1078,1843.9 1102,1842.9 1126,1842.2 1149,1841.6 1173,1841.1 1197,1840.7 1220,1840.5 1244,1840.5 1246,1896.0 863,1896.0" fill="#ff2600"/>
<polygon points="865,1862.6 889,1860.4 912,1858.3 936,1856.3 960,1854.5 983,1852.9 1007,1851.4 1031,1850.0 1054,1848.8 1078,1847.7 1102,1846.8 1126,1846.0 1149,1845.4 1173,1844.8 1197,1844.5 1220,1844.3 1244,1844.2 1246,1896.0 863,1896.0" fill="#ff2100"/>
<polygon points="865,1866.8 889,1864.5 912,1862.4 936,1860.4 960,1858.6 983,1856.9 1007,1855.4 1031,1854.0 1054,1852.7 1078,1851.6 1102,1850.7 1126,1849.9 1149,1849.2 1173,1848.7 1197,1848.3 1220,1848.1 1244,1848.0 1246,1896.0 863,1896.0" fill="#ff1c00"/>
<polygon points="865,1870.9 889,1868.6 912,1866.5 936,1864.5 960,1862.6 983,1860.9 1007,1859.3 1031,1857.9 1054,1856.6 1078,1855.5 1102,1854.5 1126,1853.7 1149,1853.1 1173,1852.5 1197,1852.2 1220,1851.9 1244,1851.9 1246,1896.0 863,1896.0" fill="#ff1700"/>
<polygon points="865,1875.1 889,1872.8 912,1870.6 936,1868.5 960,1866.6 983,1864.9 1007,1863.3 1031,1861.8 1054,1860.5 1078,1859.4 1102,1858.4 1126,1857.6 1149,1856.9 1173,1856.4 1197,1856.0 1220,1855.8 1244,1855.7 1246,1896.0 863,1896.0" fill="#ff1200"/>
<polygon points="865,1879.3 889,1876.9 912,1874.6 936,1872.6 960,1870.6 983,1868.9 1007,1867.2 1031,1865.8 1054,1864.5 1078,1863.3 1102,1862.3 1126,1861.5 1149,1860.8 1173,1860.2 1197,1859.8 1220,1859.6 1244,1859.5 1246,1896.0 863,1896.0" fill="#ff0d00"/>
<polygon points="865,1883.4 889,1881.0 912,1878.7 936,1876.6 960,1874.7 983,1872.9 1007,1871.2 1031,1869.7 1054,1868.4 1078,1867.2 1102,1866.2 1126,1865.3 1149,1864.6 1173,1864.1 1197,1863.7 1220,1863.4 1244,1863.4 1246,1896.0 863,1896.0" fill="#ff0800"/>
<polygon points="865,1887.6 889,1885.1 912,1882.8 936,1880.7 960,1878.7 983,1876.8 1007,1875.2 1031,1873.7 1054,1872.3 1078,1871.1 1102,1870.1 1126,1869.2 1149,1868.5 1173,1867.9 1197,1867.5 1220,1867.3 1244,1867.2 1246,1896.0 863,1896.0" fill="#ff0300"/>
<polygon points="865,1891.8 889,1889.3 912,1886.9 936,1884.7 960,1882.7 983,1880.8 1007,1879.1 1031,1877.6 1054,1876.2 1078,1875.0 1102,1873.9 1126,1873.1 1149,1872.3 1173,1871.8 1197,1871.4 1220,1871.1 1244,1871.0 1246,1896.0 863,1896.0" fill="#ff0000"/>
<polygon points="865,1895.9 889,1893.4 912,1891.0 936,1888.8 960,1886.7 983,1884.8 1007,1883.1 1031,1881.5 1054,1880.1 1078,1878.9 1102,1877.8 1126,1876.9 1149,1876.2 1173,1875.6 1197,1875.2 1220,1874.9 1244,1874.9 1246,1896.0 863,1896.0" fill="#ff0000"/>
<polygon points="865,1900.1 889,1897.5 912,1895.1 936,1892.8 960,1890.7 983,1888.8 1007,1887.1 1031,1885.5 1054,1884.0 1078,1882.8 1102,1881.7 1126,1880.8 1149,1880.0 1173,1879.5 1197,1879.0 1220,1878.8 1244,1878.7 1246,1896.0 863,1896.0" fill="#ff0000"/>
<polygon points="865,1904.3 889,1901.6 912,1899.2 936,1896.9 960,1894.8 983,1892.8 1007,1891.0 1031,1889.4 1054,1888.0 1078,1886.7 1102,1885.6 1126,1884.7 1149,1883.9 1173,1883.3 1197,1882.9 1220,1882.6 1244,1882.5 1246,1896.0 863,1896.0" fill="#ff0000"/>
<polygon points="865,1908.4 889,1905.8 912,1903.3 936,1900.9 960,1898.8 983,1896.8 1007,1895.0 1031,1893.3 1054,1891.9 1078,1890.6 1102,1889.5 1126,1888.5 1149,1887.7 1173,1887.1 1197,1886.7 1220,1886.5 1244,1886.4 1246,1896.0 863,1896.0" fill="#ff0000"/>
</g>
<clipPath id="clipR2"><path d="M1244,168.0 L1570.5,168.0 L1616.5,196.5 L1620.0,226.0 L1624.0,249.0 L1624.5,1886.0 L1244,1869.0 Z"/></clipPath>
<g clip-path="url(#clipR2)">
<rect x="1244" y="168.0" width="380.5" height="1722.0" fill="#e0e0e0"/>
<polygon points="1243.0,1690.0 1283.0,1685.0 1320.0,1680.0 1348.0,1670.0 1376.0,1655.0 1409.0,1630.0 1445.0,1610.0 1483.0,1597.0 1518.0,1591.0 1538.0,1590.0 1555.0,1598.0 1568.0,1618.0 1588.0,1679.0 1608.0,1724.0 1623.0,1744.0 1626.5,1896.0 1242,1896.0" fill="#eec9c9"/>
<polygon points="1243.0,1783.0 1303.0,1784.0 1383.0,1783.0 1443.0,1778.0 1503.0,1772.0 1543.0,1767.0 1583.0,1767.0 1603.0,1773.0 1624.0,1784.0 1626.5,1896.0 1242,1896.0" fill="#f8b3b3"/>
<polygon points="1243.0,1812.0 1363.0,1812.0 1443.0,1812.0 1543.0,1812.0 1624.0,1820.0 1626.5,1896.0 1242,1896.0" fill="#fc9c9c"/>
<polygon points="1243.0,1828.0 1363.0,1830.0 1443.0,1832.0 1543.0,1836.0 1624.0,1840.0 1626.5,1896.0 1242,1896.0" fill="#fe8888"/>
<polygon points="1243.0,1840.0 1433.0,1844.0 1624.0,1848.0 1626.5,1896.0 1242,1896.0" fill="#ff7474"/>
<polygon points="1243.0,1848.0 1433.0,1852.0 1624.0,1856.0 1626.5,1896.0 1242,1896.0" fill="#ff5e5e"/>
<polygon points="1243.0,1855.0 1433.0,1859.0 1624.0,1863.0 1626.5,1896.0 1242,1896.0" fill="#ff4848"/>
<polygon points="1243.0,1861.0 1433.0,1865.0 1624.0,1869.0 1626.5,1896.0 1242,1896.0" fill="#ff3232"/>
<polygon points="1243.0,1866.0 1433.0,1870.5 1624.0,1875.0 1626.5,1896.0 1242,1896.0" fill="#ff1a1a"/>
<polygon points="1243.0,1870.0 1433.0,1875.5 1624.0,1881.0 1626.5,1896.0 1242,1896.0" fill="#ff0000"/>
<path d="M1243.0,1840.0 L1273.0,1840.0 M1425.0,1843.0 L1503.0,1845.0 L1624.0,1848.0" fill="none" stroke="#200" stroke-opacity="0.9" stroke-width="3"/>
<path d="M1243.0,1848.0 L1273.0,1848.0 M1425.0,1851.0 L1503.0,1853.0 L1624.0,1856.0" fill="none" stroke="#200" stroke-opacity="0.9" stroke-width="3"/>
<path d="M1243.0,1855.0 L1273.0,1855.0 M1425.0,1858.0 L1503.0,1860.0 L1624.0,1863.0" fill="none" stroke="#200" stroke-opacity="0.9" stroke-width="3"/>
<path d="M1243.0,1861.0 L1273.0,1861.0 M1425.0,1864.0 L1503.0,1866.0 L1624.0,1869.0" fill="none" stroke="#200" stroke-opacity="0.9" stroke-width="3"/>
<path d="M1243.0,1866.0 L1273.0,1866.0 M1425.0,1869.5 L1503.0,1871.5 L1624.0,1875.0" fill="none" stroke="#200" stroke-opacity="0.9" stroke-width="3"/>
<path d="M1243.0,1870.0 L1273.0,1870.0 M1425.0,1874.5 L1503.0,1876.5 L1624.0,1881.0" fill="none" stroke="#200" stroke-opacity="0.9" stroke-width="3"/>
</g>
<line x1="867" y1="1131" x2="1244" y2="1131" stroke="#304848" stroke-opacity="0.55" stroke-width="2.5"/>
<line x1="1244" y1="1131" x2="1624.5" y2="1131" stroke="#8c8c8c" stroke-width="3"/>
<line x1="867" y1="1527" x2="1244" y2="1527" stroke="#304848" stroke-opacity="0.55" stroke-width="2.5"/>
<line x1="1244" y1="1527" x2="1624.5" y2="1527" stroke="#8c8c8c" stroke-width="3"/>
<path d="M1243.0,1690.0 L1263.0,1689.0 L1283.0,1685.0 L1320.0,1680.0 M1376.0,1655.0 L1409.0,1630.0 L1428.0,1618.0 L1446.0,1609.0 M1567.0,1616.0 L1588.0,1679.0 L1608.0,1724.0 L1623.0,1744.0" fill="none" stroke="#101818" stroke-opacity="0.88" stroke-width="2.4" stroke-linecap="round"/>
<path d="M1243.0,1783.0 L1303.0,1784.0 L1383.0,1783.0 L1443.0,1778.0 L1503.0,1772.0 L1543.0,1767.0 L1583.0,1767.0 L1603.0,1773.0 L1624.0,1784.0" fill="none" stroke="#101818" stroke-opacity="0.88" stroke-width="2.4" stroke-linecap="round"/>
<path d="M1243.0,1812.0 L1269.0,1812.0 M1429.0,1812.0 L1447.0,1812.0" fill="none" stroke="#101818" stroke-opacity="0.88" stroke-width="2.4" stroke-linecap="round"/>
<path d="M1243.0,1828.0 L1269.0,1828.0 M1429.0,1830.0 L1447.0,1830.0" fill="none" stroke="#101818" stroke-opacity="0.88" stroke-width="2.4" stroke-linecap="round"/>
<path d="M1245.0,1026.0 L1252.0,1026.0 M1282.0,1024.0 L1287.0,1024.0 M1311.0,1021.0 L1316.0,1021.0 M1346.0,1024.0 L1348.0,1024.0 M1377.0,1022.0 L1379.0,1022.0 M1401.0,1017.0 L1413.0,1017.0 M1441.0,1015.0 L1446.0,1015.0 M1470.0,1015.0 L1473.0,1015.0 M1499.0,1016.0 L1507.0,1016.0 M1541.0,1028.0 L1542.0,1028.0 M1571.0,1030.0 L1583.0,1032.0 M1614.0,1006.0 L1615.0,995.0 M1617.0,990.0 L1618.0,960.0 L1618.0,929.0" fill="none" stroke="#101818" stroke-opacity="0.88" stroke-width="2.4" stroke-linecap="round"/>
<g class="cr" style="font-size:29px;letter-spacing:4.1px">
<text x="1265.5" y="1674.0" transform="rotate(27.0 1351.0 1674.0)" class="cl" dy="10.8" style="text-anchor:start;font-size:30px;letter-spacing:0" textLength="171" lengthAdjust="spacingAndGlyphs">1.0715E13</text>
<text x="1401.5" y="1597.0" transform="rotate(20.0 1486.0 1597.0)" class="cl" dy="10.8" style="text-anchor:start;font-size:30px;letter-spacing:0" textLength="169" lengthAdjust="spacingAndGlyphs">1.0715E13</text>
<text x="1452.1" y="1806.7" transform="rotate(0.0 1533.6 1806.7)" class="cl" dy="11.5" style="text-anchor:start;font-size:32px;letter-spacing:0" textLength="163" lengthAdjust="spacingAndGlyphs">3.2145E13</text>
<text x="1274.5" y="1826.6" transform="rotate(-1.0 1349.5 1826.6)" class="cl" dy="10.6" style="text-anchor:start;font-size:29.5px;letter-spacing:0" textLength="150" lengthAdjust="spacingAndGlyphs">4.286E13</text>
</g>
<g class="cr" style="font-size:34px">
<text x="1269.0" y="1026.2" transform="rotate(12.0 1269.0 1026.2)" class="cl" dy="12.2">0</text>
<text x="1299.0" y="1021.7" transform="rotate(8.0 1299.0 1021.7)" class="cl" dy="12.2">0</text>
<text x="1329.0" y="1020.7" transform="rotate(-10.0 1329.0 1020.7)" class="cl" dy="12.2">0</text>
<text x="1364.0" y="1021.7" transform="rotate(8.0 1364.0 1021.7)" class="cl" dy="12.2">0</text>
<text x="1389.0" y="1019.2" transform="rotate(12.0 1389.0 1019.2)" class="cl" dy="12.2">0</text>
<text x="1428.0" y="1014.2" transform="rotate(0.0 1428.0 1014.2)" class="cl" dy="12.2">0</text>
<text x="1458.0" y="1013.2" transform="rotate(0.0 1458.0 1013.2)" class="cl" dy="12.2">0</text>
<text x="1484.0" y="1013.2" transform="rotate(0.0 1484.0 1013.2)" class="cl" dy="12.2">0</text>
<text x="1523.0" y="1017.2" transform="rotate(-25.0 1523.0 1017.2)" class="cl" dy="12.2">0</text>
<text x="1558.0" y="1028.2" transform="rotate(-5.0 1558.0 1028.2)" class="cl" dy="12.2">0</text>
<text x="1599.0" y="1030.2" transform="rotate(25.0 1599.0 1030.2)" class="cl" dy="12.2">0</text>
</g>
<g style="font-size:29px;letter-spacing:1.5px">
<path d="M867.0,290.0 L879.0,287.8 L887.0,286.3 M955.0,275.1 L967.0,273.4 L979.0,271.7 M1047.0,263.8 L1051.0,263.4 M1119.0,257.9 L1131.0,257.1 L1143.0,256.5 L1155.0,255.9 M1223.0,254.0 L1235.0,253.9 L1243.0,253.9 " fill="none" stroke="#101818" stroke-opacity="0.88" stroke-width="2.4" stroke-linecap="round"/>
<text x="894.5" y="280.4" transform="rotate(13.8 921.0 280.4)" class="cl" dy="10.4" style="text-anchor:start;font-size:29px;letter-spacing:0" textLength="53" lengthAdjust="spacingAndGlyphs">826</text>
<text x="987.5" y="267.3" transform="rotate(9.9 1014.0 267.3)" class="cl" dy="10.4" style="text-anchor:start;font-size:29px;letter-spacing:0" textLength="53" lengthAdjust="spacingAndGlyphs">826</text>
<text x="1058.5" y="260.3" transform="rotate(6.9 1085.0 260.3)" class="cl" dy="10.4" style="text-anchor:start;font-size:29px;letter-spacing:0" textLength="53" lengthAdjust="spacingAndGlyphs">826</text>
<text x="1161.5" y="254.7" transform="rotate(2.4 1188.0 254.7)" class="cl" dy="11.9" style="text-anchor:start;font-size:29px;letter-spacing:0" textLength="53" lengthAdjust="spacingAndGlyphs">826</text>
<path d="M935.0,475.9 L947.0,474.1 L959.0,472.4 L971.0,470.7 L983.0,469.1 L995.0,467.5 M1063.0,460.2 L1075.0,459.2 L1087.0,458.2 L1091.0,457.9 M1155.0,454.0 L1167.0,453.5 M1231.0,452.0 L1243.0,452.0 " fill="none" stroke="#101818" stroke-opacity="0.88" stroke-width="2.4" stroke-linecap="round"/>
<text x="874.5" y="481.5" transform="rotate(14.5 901.0 481.5)" class="cl" dy="10.4" style="text-anchor:start;font-size:29px;letter-spacing:0" textLength="53" lengthAdjust="spacingAndGlyphs">856</text>
<text x="1002.5" y="463.6" transform="rotate(9.2 1029.0 463.6)" class="cl" dy="10.4" style="text-anchor:start;font-size:29px;letter-spacing:0" textLength="53" lengthAdjust="spacingAndGlyphs">856</text>
<text x="1096.5" y="455.7" transform="rotate(5.2 1123.0 455.7)" class="cl" dy="10.4" style="text-anchor:start;font-size:29px;letter-spacing:0" textLength="53" lengthAdjust="spacingAndGlyphs">856</text>
<text x="1172.5" y="452.5" transform="rotate(1.9 1199.0 452.5)" class="cl" dy="11.9" style="text-anchor:start;font-size:29px;letter-spacing:0" textLength="53" lengthAdjust="spacingAndGlyphs">856</text>
<path d="M867.0,654.9 L879.0,652.4 L891.0,650.0 L903.0,647.6 L911.0,646.1 M979.0,634.7 L991.0,633.0 L1003.0,631.3 L1015.0,629.7 L1019.0,629.2 M1083.0,622.3 L1095.0,621.2 M1163.0,616.8 L1167.0,616.7 M1231.0,615.0 L1243.0,615.0 " fill="none" stroke="#101818" stroke-opacity="0.88" stroke-width="2.4" stroke-linecap="round"/>
<text x="919.5" y="639.9" transform="rotate(14.1 946.0 639.9)" class="cl" dy="10.4" style="text-anchor:start;font-size:29px;letter-spacing:0" textLength="53" lengthAdjust="spacingAndGlyphs">885</text>
<text x="1024.5" y="625.5" transform="rotate(9.2 1051.0 625.5)" class="cl" dy="10.4" style="text-anchor:start;font-size:29px;letter-spacing:0" textLength="53" lengthAdjust="spacingAndGlyphs">885</text>
<text x="1102.5" y="618.7" transform="rotate(5.5 1129.0 618.7)" class="cl" dy="10.4" style="text-anchor:start;font-size:29px;letter-spacing:0" textLength="53" lengthAdjust="spacingAndGlyphs">885</text>
<text x="1172.5" y="615.6" transform="rotate(2.2 1199.0 615.6)" class="cl" dy="10.4" style="text-anchor:start;font-size:29px;letter-spacing:0" textLength="53" lengthAdjust="spacingAndGlyphs">885</text>
<path d="M867.0,801.6 L879.0,798.5 L891.0,795.5 L903.0,792.6 L915.0,789.8 L927.0,787.0 L931.0,786.2 M995.0,773.6 L1007.0,771.6 L1019.0,769.7 L1031.0,767.8 L1043.0,766.1 L1055.0,764.5 L1063.0,763.4 M1131.0,756.5 L1143.0,755.6 L1155.0,754.8 L1167.0,754.1 M1231.0,752.1 L1243.0,752.0 " fill="none" stroke="#101818" stroke-opacity="0.88" stroke-width="2.4" stroke-linecap="round"/>
<text x="936.5" y="779.5" transform="rotate(16.4 963.0 779.5)" class="cl" dy="10.4" style="text-anchor:start;font-size:29px;letter-spacing:0" textLength="53" lengthAdjust="spacingAndGlyphs">915</text>
<text x="1070.5" y="759.5" transform="rotate(8.7 1097.0 759.5)" class="cl" dy="10.4" style="text-anchor:start;font-size:29px;letter-spacing:0" textLength="53" lengthAdjust="spacingAndGlyphs">915</text>
<text x="1172.5" y="752.7" transform="rotate(2.7 1199.0 752.7)" class="cl" dy="10.4" style="text-anchor:start;font-size:29px;letter-spacing:0" textLength="53" lengthAdjust="spacingAndGlyphs">915</text>
<path d="M867.0,925.3 L879.0,921.5 L891.0,917.8 L903.0,914.2 L915.0,910.7 L927.0,907.3 M991.0,891.6 L1003.0,889.0 M1071.0,876.8 L1083.0,875.1 L1095.0,873.5 M1231.0,864.0 L1243.0,863.9 " fill="none" stroke="#101818" stroke-opacity="0.88" stroke-width="2.4" stroke-linecap="round"/>
<text x="932.5" y="899.0" transform="rotate(20.3 959.0 899.0)" class="cl" dy="10.4" style="text-anchor:start;font-size:29px;letter-spacing:0" textLength="53" lengthAdjust="spacingAndGlyphs">944</text>
<text x="1010.5" y="882.4" transform="rotate(15.0 1037.0 882.4)" class="cl" dy="10.4" style="text-anchor:start;font-size:29px;letter-spacing:0" textLength="53" lengthAdjust="spacingAndGlyphs">944</text>
<text x="1101.5" y="869.7" transform="rotate(8.6 1128.0 869.7)" class="cl" dy="10.4" style="text-anchor:start;font-size:29px;letter-spacing:0" textLength="53" lengthAdjust="spacingAndGlyphs">944</text>
<text x="1170.5" y="864.9" transform="rotate(3.5 1197.0 864.9)" class="cl" dy="10.4" style="text-anchor:start;font-size:29px;letter-spacing:0" textLength="53" lengthAdjust="spacingAndGlyphs">944</text>
<path d="M931.0,1004.1 L943.0,1000.8 L947.0,999.7 M1011.0,984.4 L1023.0,981.9 L1027.0,981.1 M1095.0,969.9 L1099.0,969.4 M1167.0,962.6 L1179.0,961.8 L1191.0,961.2 L1203.0,960.7 L1215.0,960.3 L1227.0,960.0 L1239.0,959.9 L1243.0,959.9 " fill="none" stroke="#101818" stroke-opacity="0.88" stroke-width="2.4" stroke-linecap="round"/>
<text x="872.5" y="1013.6" transform="rotate(25.0 899.0 1013.6)" class="cl" dy="10.4" style="text-anchor:start;font-size:29px;letter-spacing:0" textLength="53" lengthAdjust="spacingAndGlyphs">974</text>
<text x="952.5" y="991.6" transform="rotate(19.7 979.0 991.6)" class="cl" dy="10.4" style="text-anchor:start;font-size:29px;letter-spacing:0" textLength="53" lengthAdjust="spacingAndGlyphs">974</text>
<text x="1033.5" y="975.2" transform="rotate(14.0 1060.0 975.2)" class="cl" dy="10.4" style="text-anchor:start;font-size:29px;letter-spacing:0" textLength="53" lengthAdjust="spacingAndGlyphs">974</text>
<text x="1105.5" y="965.6" transform="rotate(8.6 1132.0 965.6)" class="cl" dy="10.4" style="text-anchor:start;font-size:29px;letter-spacing:0" textLength="53" lengthAdjust="spacingAndGlyphs">974</text>
<path d="M867.0,1108.3 L871.0,1106.9 M959.0,1079.7 L971.0,1076.5 L983.0,1073.5 L991.0,1071.6 M1075.0,1054.9 L1087.0,1053.1 L1099.0,1051.4 L1107.0,1050.3 M1191.0,1042.8 L1203.0,1042.3 L1215.0,1041.9 L1227.0,1041.6 L1239.0,1041.5 L1243.0,1041.5 " fill="none" stroke="#101818" stroke-opacity="0.88" stroke-width="2.4" stroke-linecap="round"/>
<text x="880.0" y="1092.4" transform="rotate(24.9 915.0 1092.4)" class="cl" dy="10.4" style="text-anchor:start;font-size:29px;letter-spacing:0" textLength="70" lengthAdjust="spacingAndGlyphs">1004</text>
<text x="998.0" y="1062.4" transform="rotate(16.6 1033.0 1062.4)" class="cl" dy="10.4" style="text-anchor:start;font-size:29px;letter-spacing:0" textLength="70" lengthAdjust="spacingAndGlyphs">1004</text>
<text x="1115.0" y="1045.7" transform="rotate(7.5 1150.0 1045.7)" class="cl" dy="10.4" style="text-anchor:start;font-size:29px;letter-spacing:0" textLength="70" lengthAdjust="spacingAndGlyphs">1004</text>
<path d="M867.0,1174.4 L879.0,1170.5 L891.0,1166.9 L903.0,1163.3 L915.0,1159.9 L927.0,1156.6 L939.0,1153.4 L951.0,1150.3 L963.0,1147.4 L975.0,1144.5 L987.0,1141.8 L999.0,1139.3 L1011.0,1136.8 L1023.0,1134.5 M1107.0,1121.6 L1115.0,1120.7 M1199.0,1114.5 L1211.0,1114.1 L1223.0,1113.8 L1235.0,1113.6 L1243.0,1113.6 " fill="none" stroke="#101818" stroke-opacity="0.88" stroke-width="2.4" stroke-linecap="round"/>
<text x="1031.0" y="1127.1" transform="rotate(12.9 1066.0 1127.1)" class="cl" dy="10.4" style="text-anchor:start;font-size:29px;letter-spacing:0" textLength="70" lengthAdjust="spacingAndGlyphs">1033</text>
<text x="1123.0" y="1116.8" transform="rotate(6.3 1158.0 1116.8)" class="cl" dy="10.4" style="text-anchor:start;font-size:29px;letter-spacing:0" textLength="70" lengthAdjust="spacingAndGlyphs">1033</text>
<path d="M867.0,1234.6 L879.0,1230.8 L891.0,1227.3 L903.0,1223.8 L915.0,1220.4 L927.0,1217.2 L939.0,1214.1 L943.0,1213.0 M1027.0,1194.9 L1039.0,1192.8 M1123.0,1181.3 L1131.0,1180.5 M1219.0,1175.5 L1231.0,1175.3 L1243.0,1175.2 " fill="none" stroke="#101818" stroke-opacity="0.88" stroke-width="2.4" stroke-linecap="round"/>
<text x="949.0" y="1203.4" transform="rotate(18.0 984.0 1203.4)" class="cl" dy="10.4" style="text-anchor:start;font-size:29px;letter-spacing:0" textLength="70" lengthAdjust="spacingAndGlyphs">1063</text>
<text x="1045.0" y="1186.4" transform="rotate(11.6 1080.0 1186.4)" class="cl" dy="10.4" style="text-anchor:start;font-size:29px;letter-spacing:0" textLength="70" lengthAdjust="spacingAndGlyphs">1063</text>
<text x="1140.0" y="1177.2" transform="rotate(4.9 1175.0 1177.2)" class="cl" dy="10.4" style="text-anchor:start;font-size:29px;letter-spacing:0" textLength="70" lengthAdjust="spacingAndGlyphs">1063</text>
<path d="M867.0,1283.0 L879.0,1279.6 L891.0,1276.3 L903.0,1273.1 L915.0,1270.0 L927.0,1267.0 L939.0,1264.1 L951.0,1261.4 L963.0,1258.7 L975.0,1256.2 L987.0,1253.8 L999.0,1251.5 L1011.0,1249.3 L1023.0,1247.2 L1035.0,1245.2 L1047.0,1243.3 L1059.0,1241.6 L1071.0,1239.9 L1083.0,1238.4 L1095.0,1236.9 L1107.0,1235.6 L1119.0,1234.4 L1127.0,1233.7 M1215.0,1228.7 L1227.0,1228.5 L1239.0,1228.4 L1243.0,1228.4 " fill="none" stroke="#101818" stroke-opacity="0.88" stroke-width="2.4" stroke-linecap="round"/>
<text x="1136.0" y="1230.4" transform="rotate(4.8 1171.0 1230.4)" class="cl" dy="10.4" style="text-anchor:start;font-size:29px;letter-spacing:0" textLength="70" lengthAdjust="spacingAndGlyphs">1093</text>
<path d="M867.0,1331.3 L879.0,1328.0 L891.0,1324.9 L903.0,1321.9 L915.0,1318.9 L927.0,1316.1 L939.0,1313.4 L951.0,1310.8 L955.0,1310.0 M1039.0,1294.9 L1043.0,1294.3 M1127.0,1284.6 L1139.0,1283.6 L1151.0,1282.7 L1163.0,1282.0 L1175.0,1281.3 L1187.0,1280.8 L1199.0,1280.3 L1211.0,1280.0 L1223.0,1279.8 L1235.0,1279.6 L1243.0,1279.6 " fill="none" stroke="#101818" stroke-opacity="0.88" stroke-width="2.4" stroke-linecap="round"/>
<text x="962.0" y="1301.8" transform="rotate(15.1 997.0 1301.8)" class="cl" dy="10.4" style="text-anchor:start;font-size:29px;letter-spacing:0" textLength="70" lengthAdjust="spacingAndGlyphs">1122</text>
<text x="1051.0" y="1288.7" transform="rotate(9.8 1086.0 1288.7)" class="cl" dy="10.4" style="text-anchor:start;font-size:29px;letter-spacing:0" textLength="70" lengthAdjust="spacingAndGlyphs">1122</text>
<path d="M867.0,1371.7 L879.0,1368.7 L891.0,1365.9 L903.0,1363.1 M987.0,1346.3 L999.0,1344.3 L1011.0,1342.4 L1023.0,1340.6 L1035.0,1338.9 L1047.0,1337.2 L1059.0,1335.7 L1071.0,1334.3 L1083.0,1332.9 L1095.0,1331.7 L1107.0,1330.6 L1119.0,1329.5 L1131.0,1328.6 L1143.0,1327.7 L1155.0,1326.9 L1167.0,1326.3 L1179.0,1325.7 L1191.0,1325.2 L1203.0,1324.9 L1215.0,1324.6 L1227.0,1324.4 L1239.0,1324.3 L1243.0,1324.3 " fill="none" stroke="#101818" stroke-opacity="0.88" stroke-width="2.4" stroke-linecap="round"/>
<text x="909.0" y="1354.3" transform="rotate(16.7 944.0 1354.3)" class="cl" dy="10.4" style="text-anchor:start;font-size:29px;letter-spacing:0" textLength="70" lengthAdjust="spacingAndGlyphs">1152</text>
<path d="M867.0,1409.3 L879.0,1406.5 L891.0,1403.8 L903.0,1401.2 L915.0,1398.7 L927.0,1396.3 L939.0,1393.9 L951.0,1391.7 L963.0,1389.5 L975.0,1387.5 L987.0,1385.5 L999.0,1383.6 L1011.0,1381.8 L1023.0,1380.1 L1035.0,1378.5 L1047.0,1377.0 M1135.0,1368.5 L1147.0,1367.7 L1155.0,1367.3 M1239.0,1364.8 L1243.0,1364.8 " fill="none" stroke="#101818" stroke-opacity="0.88" stroke-width="2.4" stroke-linecap="round"/>
<text x="1056.0" y="1372.1" transform="rotate(8.2 1091.0 1372.1)" class="cl" dy="10.4" style="text-anchor:start;font-size:29px;letter-spacing:0" textLength="70" lengthAdjust="spacingAndGlyphs">1181</text>
<text x="1161.0" y="1365.5" transform="rotate(2.6 1196.0 1365.5)" class="cl" dy="10.4" style="text-anchor:start;font-size:29px;letter-spacing:0" textLength="70" lengthAdjust="spacingAndGlyphs">1181</text>
<path d="M867.0,1443.7 L879.0,1441.2 L891.0,1438.7 L903.0,1436.4 L915.0,1434.1 L927.0,1431.9 L939.0,1429.8 L951.0,1427.8 L959.0,1426.5 M1043.0,1414.9 L1055.0,1413.6 L1067.0,1412.4 L1079.0,1411.2 L1091.0,1410.1 L1103.0,1409.1 L1115.0,1408.2 L1127.0,1407.4 L1139.0,1406.6 L1151.0,1405.9 L1163.0,1405.4 L1175.0,1404.8 L1187.0,1404.4 L1199.0,1404.1 L1211.0,1403.8 L1223.0,1403.6 L1235.0,1403.5 L1243.0,1403.5 " fill="none" stroke="#101818" stroke-opacity="0.88" stroke-width="2.4" stroke-linecap="round"/>
<text x="967.0" y="1420.1" transform="rotate(11.6 1002.0 1420.1)" class="cl" dy="10.4" style="text-anchor:start;font-size:29px;letter-spacing:0" textLength="70" lengthAdjust="spacingAndGlyphs">1211</text>
<path d="M867.0,1476.5 L879.0,1474.3 L891.0,1472.2 L903.0,1470.2 M991.0,1457.4 L1003.0,1455.9 L1015.0,1454.6 L1027.0,1453.2 L1039.0,1452.0 L1051.0,1450.8 L1063.0,1449.7 L1075.0,1448.7 L1087.0,1447.7 L1099.0,1446.9 L1111.0,1446.0 L1123.0,1445.3 L1135.0,1444.6 L1147.0,1444.0 L1159.0,1443.5 L1171.0,1443.0 L1183.0,1442.6 L1195.0,1442.3 L1207.0,1442.0 L1219.0,1441.9 L1231.0,1441.7 L1243.0,1441.7 " fill="none" stroke="#101818" stroke-opacity="0.88" stroke-width="2.4" stroke-linecap="round"/>
<text x="912.0" y="1463.3" transform="rotate(12.3 947.0 1463.3)" class="cl" dy="10.4" style="text-anchor:start;font-size:29px;letter-spacing:0" textLength="70" lengthAdjust="spacingAndGlyphs">1241</text>
<path d="M867.0,1506.4 L879.0,1504.5 L891.0,1502.7 L903.0,1500.9 L915.0,1499.2 L927.0,1497.5 L939.0,1496.0 L951.0,1494.4 L963.0,1493.0 L975.0,1491.6 L987.0,1490.2 L995.0,1489.4 M1079.0,1482.0 L1091.0,1481.2 L1095.0,1480.9 M1179.0,1477.1 L1191.0,1476.8 L1203.0,1476.6 L1215.0,1476.4 L1227.0,1476.3 L1239.0,1476.2 L1243.0,1476.2 " fill="none" stroke="#101818" stroke-opacity="0.88" stroke-width="2.4" stroke-linecap="round"/>
<text x="1002.0" y="1485.3" transform="rotate(7.5 1037.0 1485.3)" class="cl" dy="10.4" style="text-anchor:start;font-size:29px;letter-spacing:0" textLength="70" lengthAdjust="spacingAndGlyphs">1270</text>
<text x="1101.0" y="1478.7" transform="rotate(3.9 1136.0 1478.7)" class="cl" dy="10.4" style="text-anchor:start;font-size:29px;letter-spacing:0" textLength="70" lengthAdjust="spacingAndGlyphs">1270</text>
<path d="M955.0,1528.0 L967.0,1526.7 L979.0,1525.5 L991.0,1524.3 L1003.0,1523.2 L1015.0,1522.2 L1027.0,1521.2 L1039.0,1520.2 L1051.0,1519.3 L1063.0,1518.5 L1075.0,1517.7 L1087.0,1516.9 L1099.0,1516.3 L1111.0,1515.6 L1123.0,1515.1 L1135.0,1514.5 L1147.0,1514.1 L1159.0,1513.7 L1171.0,1513.3 L1183.0,1513.0 L1195.0,1512.8 L1207.0,1512.6 L1219.0,1512.4 L1231.0,1512.3 L1243.0,1512.3 " fill="none" stroke="#101818" stroke-opacity="0.88" stroke-width="2.4" stroke-linecap="round"/>
<text x="876.0" y="1533.1" transform="rotate(2.0 911.0 1533.1)" class="cl" dy="10.4" style="text-anchor:start;font-size:29px;letter-spacing:0" textLength="70" lengthAdjust="spacingAndGlyphs">1300</text>
<path d="M867.0,1563.2 L879.0,1562.1 L891.0,1561.0 L903.0,1559.9 L915.0,1558.9 L927.0,1557.9 L939.0,1557.0 L951.0,1556.1 L963.0,1555.2 L975.0,1554.4 L983.0,1553.8 M1067.0,1549.2 L1079.0,1548.6 L1091.0,1548.2 L1103.0,1547.7 L1107.0,1547.6 M1195.0,1545.5 L1207.0,1545.4 L1219.0,1545.3 L1231.0,1545.2 L1243.0,1545.2 " fill="none" stroke="#101818" stroke-opacity="0.88" stroke-width="2.4" stroke-linecap="round"/>
<text x="989.0" y="1551.3" transform="rotate(3.2 1024.0 1551.3)" class="cl" dy="10.4" style="text-anchor:start;font-size:29px;letter-spacing:0" textLength="70" lengthAdjust="spacingAndGlyphs">1330</text>
<text x="1116.0" y="1546.3" transform="rotate(1.4 1151.0 1546.3)" class="cl" dy="10.4" style="text-anchor:start;font-size:29px;letter-spacing:0" textLength="70" lengthAdjust="spacingAndGlyphs">1330</text>
<path d="M951.0,1585.1 L963.0,1584.5 L975.0,1583.9 L987.0,1583.3 L999.0,1582.7 L1011.0,1582.2 L1023.0,1581.7 L1035.0,1581.2 L1047.0,1580.7 L1059.0,1580.3 L1071.0,1579.9 L1083.0,1579.5 L1095.0,1579.2 L1107.0,1578.9 L1119.0,1578.6 L1131.0,1578.3 L1143.0,1578.1 L1155.0,1577.8 L1167.0,1577.7 L1179.0,1577.5 L1191.0,1577.4 L1203.0,1577.3 L1215.0,1577.2 L1227.0,1577.1 L1239.0,1577.1 L1243.0,1577.1 " fill="none" stroke="#101818" stroke-opacity="0.88" stroke-width="2.4" stroke-linecap="round"/>
<text x="873.0" y="1587.6" transform="rotate(3.0 908.0 1587.6)" class="cl" dy="10.4" style="text-anchor:start;font-size:29px;letter-spacing:0" textLength="70" lengthAdjust="spacingAndGlyphs">1359</text>
<path d="M867.0,1617.9 L879.0,1617.2 L891.0,1616.5 L903.0,1615.9 L915.0,1615.2 L927.0,1614.6 L939.0,1614.1 L951.0,1613.5 L963.0,1613.0 M1051.0,1609.7 L1063.0,1609.4 L1075.0,1609.0 L1087.0,1608.7 L1099.0,1608.4 L1111.0,1608.2 L1115.0,1608.1 M1199.0,1607.0 L1211.0,1606.9 L1223.0,1606.8 L1235.0,1606.8 L1243.0,1606.8 " fill="none" stroke="#101818" stroke-opacity="0.88" stroke-width="2.4" stroke-linecap="round"/>
<text x="972.0" y="1611.2" transform="rotate(2.1 1007.0 1611.2)" class="cl" dy="10.4" style="text-anchor:start;font-size:29px;letter-spacing:0" textLength="70" lengthAdjust="spacingAndGlyphs">1389</text>
<text x="1123.0" y="1607.4" transform="rotate(0.8 1158.0 1607.4)" class="cl" dy="10.4" style="text-anchor:start;font-size:29px;letter-spacing:0" textLength="70" lengthAdjust="spacingAndGlyphs">1389</text>
<path d="M867.0,1641.6 L879.0,1641.3 L891.0,1641.0 L903.0,1640.7 L915.0,1640.3 L927.0,1640.0 L939.0,1639.8 L951.0,1639.5 L963.0,1639.2 L975.0,1639.0 L987.0,1638.7 L999.0,1638.5 L1011.0,1638.3 L1023.0,1638.1 L1035.0,1637.9 L1047.0,1637.7 L1059.0,1637.5 L1071.0,1637.3 L1083.0,1637.2 L1095.0,1637.1 L1107.0,1636.9 L1119.0,1636.8 L1131.0,1636.7 L1143.0,1636.6 L1155.0,1636.5 L1167.0,1636.4 L1179.0,1636.4 L1191.0,1636.3 L1203.0,1636.3 L1215.0,1636.2 L1227.0,1636.2 L1239.0,1636.2 L1243.0,1636.2 " fill="none" stroke="#101818" stroke-opacity="0.88" stroke-width="2.4" stroke-linecap="round"/>
<path d="M867.0,1670.7 L879.0,1670.4 L891.0,1670.0 L895.0,1669.9 M983.0,1667.6 L995.0,1667.4 M1079.0,1665.9 L1091.0,1665.8 M1175.0,1665.0 L1187.0,1664.9 L1199.0,1664.9 L1211.0,1664.8 L1223.0,1664.8 L1235.0,1664.8 L1243.0,1664.8 " fill="none" stroke="#101818" stroke-opacity="0.88" stroke-width="2.4" stroke-linecap="round"/>
<text x="904.0" y="1668.7" transform="rotate(1.5 939.0 1668.7)" class="cl" dy="10.4" style="text-anchor:start;font-size:29px;letter-spacing:0" textLength="70" lengthAdjust="spacingAndGlyphs">1448</text>
<text x="1002.0" y="1666.6" transform="rotate(1.0 1037.0 1666.6)" class="cl" dy="10.4" style="text-anchor:start;font-size:29px;letter-spacing:0" textLength="70" lengthAdjust="spacingAndGlyphs">1448</text>
<text x="1097.0" y="1665.3" transform="rotate(0.5 1132.0 1665.3)" class="cl" dy="10.4" style="text-anchor:start;font-size:29px;letter-spacing:0" textLength="70" lengthAdjust="spacingAndGlyphs">1448</text>
<path d="M867.0,1696.6 L879.0,1696.3 L891.0,1696.0 L903.0,1695.7 L915.0,1695.4 L927.0,1695.1 L939.0,1694.9 L951.0,1694.6 L963.0,1694.4 L975.0,1694.1 L987.0,1693.9 L999.0,1693.7 L1011.0,1693.5 L1023.0,1693.3 L1035.0,1693.1 L1047.0,1692.9 L1059.0,1692.7 L1071.0,1692.6 L1083.0,1692.4 L1095.0,1692.3 L1107.0,1692.2 L1119.0,1692.1 L1131.0,1692.0 L1143.0,1691.9 L1155.0,1691.8 L1167.0,1691.7 L1179.0,1691.7 L1191.0,1691.6 L1203.0,1691.6 L1215.0,1691.5 L1227.0,1691.5 L1239.0,1691.5 L1243.0,1691.5 " fill="none" stroke="#101818" stroke-opacity="0.88" stroke-width="2.4" stroke-linecap="round"/>
<path d="M867.0,1725.1 L871.0,1725.0 M955.0,1722.6 L967.0,1722.4 L979.0,1722.1 M1063.0,1720.5 L1075.0,1720.3 L1087.0,1720.1 L1099.0,1720.0 L1111.0,1719.9 L1123.0,1719.7 L1135.0,1719.6 L1147.0,1719.5 L1159.0,1719.4 L1171.0,1719.3 L1183.0,1719.3 L1195.0,1719.2 L1207.0,1719.2 L1219.0,1719.1 L1231.0,1719.1 L1243.0,1719.1 " fill="none" stroke="#101818" stroke-opacity="0.88" stroke-width="2.4" stroke-linecap="round"/>
<text x="878.0" y="1723.8" transform="rotate(1.0 913.0 1723.8)" class="cl" dy="10.4" style="text-anchor:start;font-size:29px;letter-spacing:0" textLength="70" lengthAdjust="spacingAndGlyphs">1507</text>
<text x="985.0" y="1721.2" transform="rotate(1.1 1020.0 1721.2)" class="cl" dy="10.4" style="text-anchor:start;font-size:29px;letter-spacing:0" textLength="70" lengthAdjust="spacingAndGlyphs">1507</text>
<path d="M867.0,1753.7 L879.0,1753.3 L891.0,1752.9 L903.0,1752.6 L915.0,1752.2 L927.0,1751.8 L939.0,1751.5 L951.0,1751.2 L963.0,1750.9 L975.0,1750.6 L987.0,1750.3 L999.0,1750.0 L1011.0,1749.8 L1023.0,1749.5 L1035.0,1749.3 L1047.0,1749.1 L1059.0,1748.8 L1071.0,1748.7 L1083.0,1748.5 L1095.0,1748.3 L1107.0,1748.1 L1119.0,1748.0 L1131.0,1747.9 L1135.0,1747.8 M1219.0,1747.3 L1231.0,1747.3 L1243.0,1747.3 " fill="none" stroke="#101818" stroke-opacity="0.88" stroke-width="2.4" stroke-linecap="round"/>
<text x="1143.0" y="1747.5" transform="rotate(0.3 1178.0 1747.5)" class="cl" dy="10.4" style="text-anchor:start;font-size:29px;letter-spacing:0" textLength="70" lengthAdjust="spacingAndGlyphs">1537</text>
<path d="M867.0,1778.1 L879.0,1777.8 L891.0,1777.4 L903.0,1777.1 L915.0,1776.7 L927.0,1776.4 L939.0,1776.1 L951.0,1775.8 L963.0,1775.5 L975.0,1775.3 L987.0,1775.0 L999.0,1774.8 L1011.0,1774.5 L1023.0,1774.3 L1035.0,1774.1 L1047.0,1773.9 L1059.0,1773.7 L1071.0,1773.5 L1083.0,1773.4 L1095.0,1773.2 L1107.0,1773.1 L1119.0,1772.9 L1131.0,1772.8 L1143.0,1772.7 L1155.0,1772.6 L1167.0,1772.5 L1179.0,1772.5 L1191.0,1772.4 L1203.0,1772.4 L1215.0,1772.3 L1227.0,1772.3 L1239.0,1772.3 L1243.0,1772.3 " fill="none" stroke="#101818" stroke-opacity="0.88" stroke-width="2.4" stroke-linecap="round"/>
<path d="M867.0,1809.0 L879.0,1808.4 L891.0,1807.8 L903.0,1807.2 L915.0,1806.7 L927.0,1806.2 L939.0,1805.6 L947.0,1805.3 M1031.0,1802.4 L1043.0,1802.1 L1055.0,1801.7 L1067.0,1801.4 L1079.0,1801.2 L1091.0,1800.9 L1099.0,1800.7 M1183.0,1799.6 L1195.0,1799.5 L1207.0,1799.4 L1219.0,1799.3 L1231.0,1799.3 L1243.0,1799.3 " fill="none" stroke="#101818" stroke-opacity="0.88" stroke-width="2.4" stroke-linecap="round"/>
<text x="953.0" y="1803.8" transform="rotate(2.0 988.0 1803.8)" class="cl" dy="10.4" style="text-anchor:start;font-size:29px;letter-spacing:0" textLength="70" lengthAdjust="spacingAndGlyphs">1596</text>
<text x="1106.0" y="1800.0" transform="rotate(0.8 1141.0 1800.0)" class="cl" dy="10.4" style="text-anchor:start;font-size:29px;letter-spacing:0" textLength="70" lengthAdjust="spacingAndGlyphs">1596</text>
<path d="M867.0,1836.1 L879.0,1835.2 L891.0,1834.4 L903.0,1833.5 L915.0,1832.7 L927.0,1831.9 L939.0,1831.2 L951.0,1830.4 L963.0,1829.7 L975.0,1829.1 L987.0,1828.4 L999.0,1827.8 L1011.0,1827.2 L1023.0,1826.7 L1035.0,1826.1 L1047.0,1825.6 L1059.0,1825.2 L1071.0,1824.7 L1083.0,1824.3 L1095.0,1824.0 L1107.0,1823.6 L1119.0,1823.3 L1131.0,1823.0 L1143.0,1822.7 L1155.0,1822.5 L1167.0,1822.3 L1179.0,1822.1 L1191.0,1822.0 L1203.0,1821.9 L1215.0,1821.8 L1227.0,1821.7 L1239.0,1821.7 L1243.0,1821.7 " fill="none" stroke="#101818" stroke-opacity="0.88" stroke-width="2.4" stroke-linecap="round"/>
<path d="M867.0,1862.4 L879.0,1861.3 L891.0,1860.2 L903.0,1859.1 L915.0,1858.1 L927.0,1857.1 L939.0,1856.1 L951.0,1855.2 L963.0,1854.3 L975.0,1853.5 L987.0,1852.7 L999.0,1851.9 L1011.0,1851.2 L1023.0,1850.5 L1035.0,1849.8 L1047.0,1849.2 L1059.0,1848.6 L1071.0,1848.0 L1083.0,1847.5 L1095.0,1847.0 L1107.0,1846.6 L1119.0,1846.2 L1131.0,1845.8 L1143.0,1845.5 L1155.0,1845.2 L1167.0,1845.0 L1179.0,1844.7 L1191.0,1844.6 L1203.0,1844.4 L1215.0,1844.3 L1227.0,1844.2 L1239.0,1844.2 L1243.0,1844.2 " fill="none" stroke="#101818" stroke-opacity="0.88" stroke-width="2.4" stroke-linecap="round"/>
</g>
<line x1="1244" y1="1869.0" x2="1244" y2="1894" stroke="#999" stroke-width="2.5"/>
<line x1="1244" y1="168.0" x2="1244" y2="1869.0" stroke="#55565f" stroke-width="3.2"/>
<line x1="1623.5" y1="249" x2="1623.5" y2="1888.0" stroke="#000" stroke-width="5"/>
<path d="M866.5,1886.0 L866.5,250" fill="none" stroke="#000" stroke-width="5.5"/>
<path d="M867,252 L870.5,226 L873,194 L909,169.0" fill="none" stroke="#111" stroke-width="3.4"/>
<path d="M865,1886.0 L1244,1869.0" fill="none" stroke="#000" stroke-width="5"/>
<path d="M1244,1869.0 L1624.5,1886.0" fill="none" stroke="#000" stroke-width="5"/>
<path d="M1569.7,168.8 L1615.7,197.3 L1619.2,226.8 L1623.2,249.8" fill="none" stroke="#111" stroke-width="4"/>
<rect x="1695" y="169.5" width="374" height="1722.5" fill="#fff"/>
<rect x="1695" y="169.5" width="374" height="48" fill="#e4e4e4"/>
<line x1="1695" y1="170.5" x2="2069" y2="170.5" stroke="#111" stroke-width="3"/>
<line x1="1695" y1="217" x2="2069" y2="217" stroke="#222" stroke-width="3"/>
<line x1="1697" y1="169.5" x2="1697" y2="1892" stroke="#000" stroke-width="5"/>
<line x1="1695" y1="1892" x2="2069" y2="1892" stroke="#888" stroke-width="2"/>
<line x1="2069" y1="217" x2="2069" y2="1892" stroke="#ccc" stroke-width="1.5"/>
<text class="lg" x="1707" y="207" textLength="222" lengthAdjust="spacingAndGlyphs" style="font-size:31px;stroke-width:0.2px">Cvi[1/cm³]</text>
<rect x="1947" y="177.3" width="63.5" height="33.6" fill="#1f5f8f"/>
<rect x="1947" y="170.5" width="63.5" height="2" fill="#7a2a00"/>
<rect x="1947" y="172.3" width="63.5" height="2.6" fill="#f58a3c"/>
<rect x="1947" y="213" width="63.5" height="2.4" fill="#f58a3c"/>
<rect x="1947" y="215.2" width="63.5" height="2.2" fill="#b33c00"/>
<text x="1978.7" y="208" text-anchor="middle" style="font-family:'Liberation Sans',sans-serif;font-weight:bold;font-size:36px;fill:#fff;stroke:#fff;stroke-width:0.8px" textLength="57" lengthAdjust="spacingAndGlyphs">STR</text>
<clipPath id="lgc"><rect x="1690" y="160" width="379.5" height="1740"/></clipPath>
<g clip-path="url(#lgc)">
<rect x="2017" y="171" width="60" height="37.5" fill="#00ffff" stroke="#1a1a1a" stroke-width="2.4"/>
<path d="M2023.5,184 L2046,184 L2046,175.5 L2071,189.5 L2046,203 L2046,195.5 L2023.5,195.5 Z" fill="#c00000" stroke="#500" stroke-width="1.2"/>
</g>
<rect x="1717" y="242.5" width="85" height="165.7" fill="#ff0000" stroke="#1a1a1a" stroke-width="2.8"/>
<rect x="1717" y="408.2" width="85" height="160.4" fill="#ff1616" stroke="#1a1a1a" stroke-width="2.8"/>
<rect x="1717" y="568.6" width="85" height="161.9" fill="#ff2d2d" stroke="#1a1a1a" stroke-width="2.8"/>
<rect x="1717" y="730.5" width="85" height="161.0" fill="#ff4444" stroke="#1a1a1a" stroke-width="2.8"/>
<rect x="1717" y="891.5" width="85" height="164.0" fill="#ff5b5b" stroke="#1a1a1a" stroke-width="2.8"/>
<rect x="1717" y="1055.5" width="85" height="162.5" fill="#ff7373" stroke="#1a1a1a" stroke-width="2.8"/>
<rect x="1717" y="1218.0" width="85" height="161.5" fill="#fe8c8c" stroke="#1a1a1a" stroke-width="2.8"/>
<rect x="1717" y="1379.5" width="85" height="163.3" fill="#fca3a3" stroke="#1a1a1a" stroke-width="2.8"/>
<rect x="1717" y="1542.8" width="85" height="159.7" fill="#eec8c8" stroke="#1a1a1a" stroke-width="2.8"/>
<rect x="1717" y="1702.5" width="85" height="165.2" fill="#e0e0e0" stroke="#1a1a1a" stroke-width="2.8"/>
<text class="lg" x="1831" y="254.0" textLength="214" lengthAdjust="spacingAndGlyphs">1.0715E14</text>
<text class="lg" x="1831" y="419.7" textLength="214" lengthAdjust="spacingAndGlyphs">9.6435E13</text>
<text class="lg" x="1831" y="580.1" textLength="190" lengthAdjust="spacingAndGlyphs">8.572E13</text>
<text class="lg" x="1831" y="742.0" textLength="214" lengthAdjust="spacingAndGlyphs">7.5005E13</text>
<text class="lg" x="1831" y="903.0" textLength="190" lengthAdjust="spacingAndGlyphs">6.429E13</text>
<text class="lg" x="1831" y="1067.0" textLength="214" lengthAdjust="spacingAndGlyphs">5.3575E13</text>
<text class="lg" x="1831" y="1229.5" textLength="190" lengthAdjust="spacingAndGlyphs">4.286E13</text>
<text class="lg" x="1831" y="1391.0" textLength="214" lengthAdjust="spacingAndGlyphs">3.2145E13</text>
<text class="lg" x="1831" y="1554.3" textLength="190" lengthAdjust="spacingAndGlyphs">2.143E13</text>
<text class="lg" x="1831" y="1714.0" textLength="214" lengthAdjust="spacingAndGlyphs">1.0715E13</text>
<text class="lg" x="1831" y="1879.2" textLength="25" lengthAdjust="spacingAndGlyphs">0</text>
</svg></body></html>
